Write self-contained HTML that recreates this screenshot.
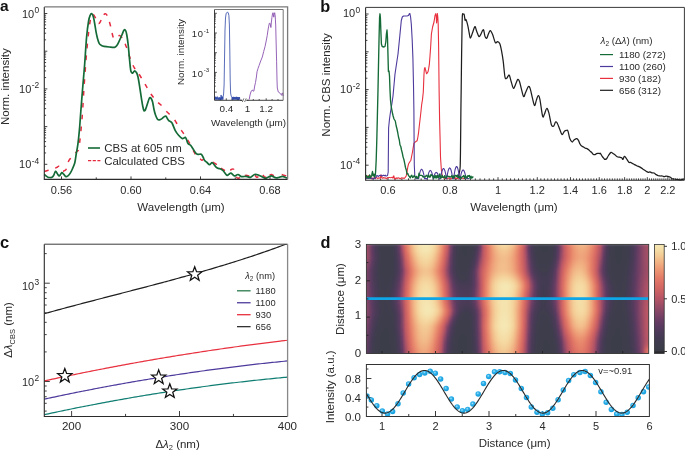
<!DOCTYPE html>
<html><head><meta charset="utf-8"><style>
html,body{margin:0;padding:0;background:#fff;}
body{width:685px;height:451px;overflow:hidden;}
svg{display:block;filter:blur(0.3px);font-family:"Liberation Sans",sans-serif;}
</style></head><body>
<svg width="685" height="451" viewBox="0 0 685 451">
<rect width="685" height="451" fill="#fff"/>
<path d="M44.3,13.5h3 M44.3,51.2h3 M44.3,39.85h1.8 M44.3,33.21h1.8 M44.3,28.5h1.8 M44.3,24.85h1.8 M44.3,21.86h1.8 M44.3,19.34h1.8 M44.3,17.15h1.8 M44.3,15.23h1.8 M44.3,88.9h3 M44.3,77.55h1.8 M44.3,70.91h1.8 M44.3,66.2h1.8 M44.3,62.55h1.8 M44.3,59.56h1.8 M44.3,57.04h1.8 M44.3,54.85h1.8 M44.3,52.93h1.8 M44.3,126.6h3 M44.3,115.25h1.8 M44.3,108.61h1.8 M44.3,103.9h1.8 M44.3,100.25h1.8 M44.3,97.26h1.8 M44.3,94.74h1.8 M44.3,92.55h1.8 M44.3,90.63h1.8 M44.3,164.3h3 M44.3,152.95h1.8 M44.3,146.31h1.8 M44.3,141.6h1.8 M44.3,137.95h1.8 M44.3,134.96h1.8 M44.3,132.44h1.8 M44.3,130.25h1.8 M44.3,128.33h1.8" stroke="#2b2b2b" stroke-width="0.9" fill="none"/>
<path d="M61.5,179.4v-3 M96.25,179.4v-2 M131,179.4v-3 M165.75,179.4v-2 M200.5,179.4v-3 M235.25,179.4v-2 M270,179.4v-3" stroke="#2b2b2b" stroke-width="0.9" fill="none"/>
<path d="M44.4,171.5C45.07,171.3 47.13,170.68 48.4,170.3C49.67,169.92 50.88,169.55 52,169.2C53.12,168.85 54.18,168.57 55.1,168.2C56.02,167.83 56.77,167.37 57.5,167C58.23,166.63 58.92,165.75 59.5,166C60.08,166.25 60.48,167.62 61,168.5C61.52,169.38 62.03,170.95 62.6,171.3C63.17,171.65 63.8,170.93 64.4,170.6C65,170.27 65.58,170.7 66.2,169.3C66.82,167.9 67.37,164.05 68.1,162.2C68.83,160.35 69.85,159.23 70.6,158.2C71.35,157.17 71.93,156.75 72.6,156C73.27,155.25 73.78,154.53 74.6,153.7C75.42,152.87 76.77,151.73 77.5,151C78.23,150.27 78.63,150.77 79,149.3C79.37,147.83 79.37,145.42 79.7,142.2C80.03,138.98 80.55,134.7 81,130C81.45,125.3 81.9,121 82.4,114C82.9,107 83.4,97 84,88C84.6,79 85.33,68.33 86,60C86.67,51.67 87.33,44.33 88,38C88.67,31.67 89.33,25.83 90,22C90.67,18.17 91.42,16.25 92,15C92.58,13.75 92.95,14.07 93.5,14.5C94.05,14.93 94.72,16.43 95.3,17.6C95.88,18.77 96.45,20.5 97,21.5C97.55,22.5 98.07,23.52 98.6,23.6C99.13,23.68 99.67,22.85 100.2,22C100.73,21.15 101.25,19.67 101.8,18.5C102.35,17.33 102.92,15.8 103.5,15C104.08,14.2 104.7,13.63 105.3,13.7C105.9,13.77 106.55,14.52 107.1,15.4C107.65,16.28 108.02,17.18 108.6,19C109.18,20.82 109.82,23.2 110.6,26.3C111.38,29.4 112.48,35.68 113.3,37.6C114.12,39.52 114.83,38.02 115.5,37.8C116.17,37.58 116.55,36.67 117.3,36.3C118.05,35.93 119.18,35.32 120,35.6C120.82,35.88 121.53,37.1 122.2,38C122.87,38.9 123.27,39.4 124,41C124.73,42.6 125.73,45.17 126.6,47.6C127.47,50.03 128.2,52.82 129.2,55.6C130.2,58.38 131.72,62.23 132.6,64.3C133.48,66.37 133.77,66.8 134.5,68C135.23,69.2 136.1,70.25 137,71.5C137.9,72.75 138.57,73.42 139.9,75.5C141.23,77.58 143.1,80.83 145,84C146.9,87.17 149.27,91.53 151.3,94.5C153.33,97.47 155.5,99.97 157.2,101.8C158.9,103.63 160.12,104.05 161.5,105.5C162.88,106.95 164.17,109.05 165.5,110.5C166.83,111.95 168.08,112.75 169.5,114.2C170.92,115.65 172.78,117.65 174,119.2C175.22,120.75 175.72,121.83 176.8,123.5C177.88,125.17 179.38,127.55 180.5,129.2C181.62,130.85 182.03,131.17 183.5,133.4C184.97,135.63 187.45,139.33 189.3,142.6C191.15,145.87 193.23,150.52 194.6,153C195.97,155.48 196.6,156.53 197.5,157.5C198.4,158.47 199.25,158.35 200,158.8C200.75,159.25 201.25,160.17 202,160.2C202.75,160.23 203.5,158.95 204.5,159C205.5,159.05 206.82,160.07 208,160.5C209.18,160.93 210.18,160.97 211.6,161.6C213.02,162.23 215.18,163.48 216.5,164.3C217.82,165.12 218.68,165.83 219.5,166.5C220.32,167.17 220.48,167.62 221.4,168.3C222.32,168.98 223.62,170.25 225,170.6C226.38,170.95 228.57,170.63 229.7,170.4C230.83,170.17 231.12,169.37 231.8,169.2C232.48,169.03 233.18,168.6 233.8,169.4C234.42,170.2 234.93,172.57 235.5,174C236.07,175.43 236.53,177.37 237.2,178C237.87,178.63 238.62,178.1 239.5,177.8C240.38,177.5 241.58,176.58 242.5,176.2C243.42,175.82 244.25,175.63 245,175.5C245.75,175.37 246.08,175.28 247,175.4C247.92,175.52 249.23,176.23 250.5,176.2C251.77,176.17 253.57,175.02 254.6,175.2C255.63,175.38 255.97,177.17 256.7,177.3C257.43,177.43 258.18,176.47 259,176C259.82,175.53 260.85,174.53 261.6,174.5C262.35,174.47 262.93,175.33 263.5,175.8C264.07,176.27 264.33,177.18 265,177.3C265.67,177.42 266.68,176.88 267.5,176.5C268.32,176.12 269.23,175.32 269.9,175C270.57,174.68 270.82,174.47 271.5,174.6C272.18,174.73 273.08,175.48 274,175.8C274.92,176.12 275.83,176.72 277,176.5C278.17,176.28 279.87,174.72 281,174.5C282.13,174.28 282.75,174.92 283.8,175.2C284.85,175.48 286.72,176.03 287.3,176.2" stroke="#e52a3f" stroke-width="1.5" fill="none" stroke-dasharray="4.6 6.87 4.6 6.87 4.6 6.87 4.6 6.87 4.6 7.25 4.6 7.25 4.6 7.25 4.6 7.25 4.6 7.25 4.6 7.25 4.6 7.25 4.6 7.25 4.6 7.25 4.6 7.25 4.6 7.25 4.6 7.25 4.6 6.11 4.6 5.91 4.6 6.72 4.6 6.72 4.6 6.72 4.6 6.72 4.6 6.72 4.6 6.72 4.6 6.72 4.6 6.72 4.6 6.72 4.6 6.72 4.6 7.47 4.6 7.47 4.6 7.47 4.6 7.02 4.6 7.02 4.6 7.02 4.6 9.42 4.6 5.72 4.6 5.1 4.6 7.2 4.6 5.2 4.6 5.69 4.6 5.09 4.6 3.71 4.6 8.31 4.6 40" stroke-dashoffset="0.21"/>
<path d="M44.3,174.3C44.58,174.55 45.38,175.32 46,175.8C46.62,176.28 47.33,176.92 48,177.2C48.67,177.48 49.33,177.48 50,177.5C50.67,177.52 51.4,177.63 52,177.3C52.6,176.97 53.02,176.5 53.6,175.5C54.18,174.5 54.9,171.63 55.5,171.3C56.1,170.97 56.57,172.72 57.2,173.5C57.83,174.28 58.53,176.15 59.3,176C60.07,175.85 61.08,172.9 61.8,172.6C62.52,172.3 62.9,173.53 63.6,174.2C64.3,174.87 65.27,176.33 66,176.6C66.73,176.87 67.32,176.33 68,175.8C68.68,175.27 69.37,174.53 70.1,173.4C70.83,172.27 71.62,170.77 72.4,169C73.18,167.23 74.15,165.38 74.8,162.8C75.45,160.22 75.78,156.6 76.3,153.5C76.82,150.4 77.38,148.08 77.9,144.2C78.42,140.32 78.95,135.18 79.4,130.2C79.85,125.22 80.08,121 80.6,114.3C81.12,107.6 81.83,98.22 82.5,90C83.17,81.78 83.92,73.83 84.6,65C85.28,56.17 85.93,44.33 86.6,37C87.27,29.67 87.98,24.67 88.6,21C89.22,17.33 89.8,16.22 90.3,15C90.8,13.78 91.17,13.62 91.6,13.7C92.03,13.78 92.5,14.52 92.9,15.5C93.3,16.48 93.48,16.92 94,19.6C94.52,22.28 95.42,28.45 96,31.6C96.58,34.75 96.95,36.5 97.5,38.5C98.05,40.5 98.63,42.43 99.3,43.6C99.97,44.77 100.72,45.05 101.5,45.5C102.28,45.95 102.7,46.05 104,46.3C105.3,46.55 107.53,46.83 109.3,47C111.07,47.17 113.32,47.58 114.6,47.3C115.88,47.02 116.33,46.13 117,45.3C117.67,44.47 117.78,44.02 118.6,42.3C119.42,40.58 121.08,36.88 121.9,35C122.72,33.12 123.05,31.9 123.5,31C123.95,30.1 124.22,29.6 124.6,29.6C124.98,29.6 125.43,30.1 125.8,31C126.17,31.9 126.4,32.67 126.8,35C127.2,37.33 127.78,41.33 128.2,45C128.62,48.67 128.9,52.9 129.3,57C129.7,61.1 130.22,67.02 130.6,69.6C130.98,72.18 131.23,71.93 131.6,72.5C131.97,73.07 132.28,73.28 132.8,73C133.32,72.72 134.05,70.8 134.7,70.8C135.35,70.8 136.15,71.97 136.7,73C137.25,74.03 137.57,75.12 138,77C138.43,78.88 138.75,80.87 139.3,84.3C139.85,87.73 140.73,93.98 141.3,97.6C141.87,101.22 142.25,103.8 142.7,106C143.15,108.2 143.53,110.22 144,110.8C144.47,111.38 144.95,110.58 145.5,109.5C146.05,108.42 146.72,106.05 147.3,104.3C147.88,102.55 148.55,100.12 149,99C149.45,97.88 149.63,97.68 150,97.6C150.37,97.52 150.77,97.77 151.2,98.5C151.63,99.23 152.13,100.17 152.6,102C153.07,103.83 153.52,107.33 154,109.5C154.48,111.67 154.92,113.38 155.5,115C156.08,116.62 156.83,118.4 157.5,119.2C158.17,120 158.75,119.9 159.5,119.8C160.25,119.7 161.17,119.15 162,118.6C162.83,118.05 163.83,116.9 164.5,116.5C165.17,116.1 165.53,115.87 166,116.2C166.47,116.53 166.83,117.77 167.3,118.5C167.77,119.23 168.18,120.02 168.8,120.6C169.42,121.18 170.38,121.43 171,122C171.62,122.57 171.78,122.57 172.5,124C173.22,125.43 174.28,128.72 175.3,130.6C176.32,132.48 177.45,133.97 178.6,135.3C179.75,136.63 181.35,138.12 182.2,138.6C183.05,139.08 183.18,138.42 183.7,138.2C184.22,137.98 184.83,137.08 185.3,137.3C185.77,137.52 186.05,138.47 186.5,139.5C186.95,140.53 187.32,142.53 188,143.5C188.68,144.47 189.72,144.33 190.6,145.3C191.48,146.27 192.4,147.95 193.3,149.3C194.2,150.65 195.22,152.55 196,153.4C196.78,154.25 197.13,154.27 198,154.4C198.87,154.53 200.37,153.77 201.2,154.2C202.03,154.63 202.42,155.95 203,157C203.58,158.05 204.03,159.58 204.7,160.5C205.37,161.42 206.18,161.8 207,162.5C207.82,163.2 208.72,164.67 209.6,164.7C210.48,164.73 211.27,162.33 212.3,162.7C213.33,163.07 214.77,165.93 215.8,166.9C216.83,167.87 217.68,168.15 218.5,168.5C219.32,168.85 219.88,168.58 220.7,169C221.52,169.42 222.37,169.97 223.4,171C224.43,172.03 226,174.65 226.9,175.2C227.8,175.75 228.12,174.65 228.8,174.3C229.48,173.95 230.05,172.83 231,173.1C231.95,173.37 233.33,175.67 234.5,175.9C235.67,176.13 236.83,174.38 238,174.5C239.17,174.62 240.12,176.3 241.5,176.6C242.88,176.9 244.8,176.18 246.3,176.3C247.8,176.42 249.12,177.6 250.5,177.3C251.88,177 253.22,174.85 254.6,174.5C255.98,174.15 257.4,174.73 258.8,175.2C260.2,175.67 261.88,176.78 263,177.3C264.12,177.82 264.58,178.35 265.5,178.3C266.42,178.25 267.53,177.42 268.5,177C269.47,176.58 270.15,175.68 271.3,175.8C272.45,175.92 274.2,177.42 275.4,177.7C276.6,177.98 277.33,177.73 278.5,177.5C279.67,177.27 281.23,176.3 282.4,176.3C283.57,176.3 284.67,177.22 285.5,177.5C286.33,177.78 287.08,177.92 287.4,178" stroke="#156b37" stroke-width="1.7" fill="none" stroke-linejoin="round"/>
<path d="M44.3,6.9V179.4H287.6" stroke="#2b2b2b" stroke-width="1.1" fill="none"/>
<path d="M44.3,6.9H287.6V179.4" stroke="#7a7a7a" stroke-width="1.3" fill="none"/>
<text x="61.5" y="193.6" font-size="11" text-anchor="middle" fill="#2a2a2a" >0.56</text>
<text x="131" y="193.6" font-size="11" text-anchor="middle" fill="#2a2a2a" >0.60</text>
<text x="200.5" y="193.6" font-size="11" text-anchor="middle" fill="#2a2a2a" >0.64</text>
<text x="270" y="193.6" font-size="11" text-anchor="middle" fill="#2a2a2a" >0.68</text>
<text x="39.2" y="17.5" font-size="11" text-anchor="end" fill="#2a2a2a">10<tspan font-size="8.4" dx="0.4" dy="-4.5">0</tspan></text>
<text x="39.2" y="92.9" font-size="11" text-anchor="end" fill="#2a2a2a">10<tspan font-size="8.4" dx="0.4" dy="-4.5">-2</tspan></text>
<text x="39.2" y="168.3" font-size="11" text-anchor="end" fill="#2a2a2a">10<tspan font-size="8.4" dx="0.4" dy="-4.5">-4</tspan></text>
<text x="181" y="210.5" font-size="11.5" text-anchor="middle" fill="#2a2a2a" >Wavelength (μm)</text>
<text transform="translate(9.4,86.7) rotate(-90)" font-size="11.5" text-anchor="middle" fill="#2a2a2a">Norm. intensity</text>
<text x="0.1" y="10.8" font-size="15.5" font-weight="bold" fill="#111">a</text>
<path d="M88,148H100" stroke="#156b37" stroke-width="1.6"/>
<path d="M88,160.6H100.4" stroke="#e52a3f" stroke-width="1.4" stroke-dasharray="3.2 1.5"/>
<text x="104.2" y="151.7" font-size="11.45" text-anchor="start" fill="#2a2a2a" >CBS at 605 nm</text>
<text x="104.2" y="164.7" font-size="11.45" text-anchor="start" fill="#2a2a2a" >Calculated CBS</text>
<rect x="214.5" y="9.5" width="68.7" height="90.8" fill="#fff"/>
<path d="M214.5,13.3h2.4 M214.5,33h2.4 M214.5,27.07h1.3 M214.5,23.6h1.3 M214.5,21.14h1.3 M214.5,19.23h1.3 M214.5,17.67h1.3 M214.5,16.35h1.3 M214.5,15.21h1.3 M214.5,14.2h1.3 M214.5,52.7h2.4 M214.5,46.77h1.3 M214.5,43.3h1.3 M214.5,40.84h1.3 M214.5,38.93h1.3 M214.5,37.37h1.3 M214.5,36.05h1.3 M214.5,34.91h1.3 M214.5,33.9h1.3 M214.5,72.4h2.4 M214.5,66.47h1.3 M214.5,63h1.3 M214.5,60.54h1.3 M214.5,58.63h1.3 M214.5,57.07h1.3 M214.5,55.75h1.3 M214.5,54.61h1.3 M214.5,53.6h1.3 M214.5,92.1h2.4 M214.5,86.17h1.3 M214.5,82.7h1.3 M214.5,80.24h1.3 M214.5,78.33h1.3 M214.5,76.77h1.3 M214.5,75.45h1.3 M214.5,74.31h1.3 M214.5,73.3h1.3 M220.5,100.3v-1.3 M226.3,100.3v-2 M232.1,100.3v-1.3 M238,100.3v-1.3 M253.3,100.3v-1.3 M259.2,100.3v-1.3 M266.2,100.3v-2 M272.1,100.3v-1.3 M278,100.3v-1.3" stroke="#2b2b2b" stroke-width="0.8" fill="none"/>
<path d="M214.6,96.94 L214.95,99.55 L215.3,96.78 L215.65,99.43 L216,96.83 L216.35,99.45 L216.7,97.47 L217.05,99.72 L217.4,96.65 L217.6,97.28 L217.95,99.46 L218.3,97.71 L218.65,99.72 L219,97.6 L219.35,99.67 L219.7,97.34 L220.05,99.99 L220.4,97.63 L220.75,99.83 L221.1,94.98 L221.45,99.54 L221.8,96.65 L222.15,99.52 L222.5,96.69 L222.85,99.63 L223.2,96.72 L223.6,94 L224.1,85 L224.5,60 L225,30 L225.5,18 L226.2,13.2 L227.2,12.3 L228.2,12.6 L228.9,15.5 L229.4,25 L229.8,50 L230.2,80 L230.6,93 L231.2,96 L231.6,96.8 L231.8,97.2 L232.15,99.48 L232.5,97.12 L232.85,99.87 L233.2,96.81 L233.55,99.48 L233.9,97.08 L234.25,99.42 L234.6,96.98 L234.95,99.59 L235.3,97.12 L235.65,99.44 L236,96.92 L236.35,99.42 L236.7,96.84 L237.05,99.82 L237.4,97.06 L237.75,99.9 L238.1,97.14 L238.45,99.96 L238.8,97.08 L239.15,99.64 L239.5,97.2 L239.85,99.59" stroke="#2e48a8" stroke-width="0.8" fill="none" stroke-linejoin="round"/>
<path d="M249.2,99.5 L250,95 L250.9,92 L251.7,90.5 L252.4,90 L253.1,91.2 L253.9,91 L254.7,86 L255.5,82.5 L256.4,77 L257,71.8 L258,68.5 L259.1,65.4 L260.7,61 L262.3,57 L263.7,51.5 L265.1,46.3 L266.2,41 L267.2,35.7 L268,30 L268.7,26.1 L269.3,23.5 L269.8,22.9 L270.4,25 L270.9,27.5 L271.4,22 L271.9,17.6 L272.5,14 L273,12.7 L273.4,15 L273.8,17.2 L274.2,14 L274.7,12.7 L275.2,16 L275.7,25 L276.2,45 L276.6,61.2 L277,80 L277.3,88 L278.3,92 L279.2,92.5 L280,93.1 L280.8,94.5 L281.5,95.2 L282.1,93 L282.6,93.1 L283.1,96" stroke="#8a52b0" stroke-width="0.9" fill="none" stroke-linejoin="round"/>
<path d="M214.5,9.5V100.3H283.2" stroke="#2b2b2b" stroke-width="0.9" fill="none"/>
<path d="M214.5,9.5H283.2V100.3" stroke="#666" stroke-width="0.9" fill="none"/>
<rect x="242" y="97" width="5" height="5" fill="#fff"/>
<path d="M242.3,102l1.6,-3.6M244.6,102l1.6,-3.6" stroke="#333" stroke-width="0.7" fill="none"/>
<path d="M240,100.3h2.3M246.2,100.3h2.3" stroke="#2b2b2b" stroke-width="0.8" fill="none"/>
<text x="226.3" y="112" font-size="9.9" text-anchor="middle" fill="#2a2a2a" >0.4</text>
<text x="247.6" y="112" font-size="9.9" text-anchor="middle" fill="#2a2a2a" >1</text>
<text x="266.2" y="112" font-size="9.9" text-anchor="middle" fill="#2a2a2a" >1.2</text>
<text x="248.6" y="125.6" font-size="9.9" text-anchor="middle" fill="#2a2a2a" >Wavelength (μm)</text>
<text transform="translate(183.8,52.1) rotate(-90)" font-size="9.9" text-anchor="middle" fill="#2a2a2a">Norm. intensity</text>
<text x="209.3" y="37.3" font-size="9.4" text-anchor="end" fill="#2a2a2a"><tspan letter-spacing="0.7">10</tspan><tspan font-size="6.2" dx="0.1" dy="-4.6">-1</tspan></text>
<text x="209.3" y="76.7" font-size="9.4" text-anchor="end" fill="#2a2a2a"><tspan letter-spacing="0.7">10</tspan><tspan font-size="6.2" dx="0.1" dy="-4.6">-3</tspan></text>
<path d="M365.6,14h3 M365.6,51.8h3 M365.6,40.42h1.8 M365.6,33.76h1.8 M365.6,29.04h1.8 M365.6,25.38h1.8 M365.6,22.39h1.8 M365.6,19.86h1.8 M365.6,17.66h1.8 M365.6,15.73h1.8 M365.6,89.6h3 M365.6,78.22h1.8 M365.6,71.56h1.8 M365.6,66.84h1.8 M365.6,63.18h1.8 M365.6,60.19h1.8 M365.6,57.66h1.8 M365.6,55.46h1.8 M365.6,53.53h1.8 M365.6,127.4h3 M365.6,116.02h1.8 M365.6,109.36h1.8 M365.6,104.64h1.8 M365.6,100.98h1.8 M365.6,97.99h1.8 M365.6,95.46h1.8 M365.6,93.26h1.8 M365.6,91.33h1.8 M365.6,165.2h3 M365.6,153.82h1.8 M365.6,147.16h1.8 M365.6,142.44h1.8 M365.6,138.78h1.8 M365.6,135.79h1.8 M365.6,133.26h1.8 M365.6,131.06h1.8 M365.6,129.13h1.8 M373.1,180.2v-1.8 M380.66,180.2v-1.8 M387.96,180.2v-3 M395.03,180.2v-1.8 M401.87,180.2v-1.8 M408.49,180.2v-1.8 M414.92,180.2v-1.8 M421.17,180.2v-1.8 M427.24,180.2v-1.8 M433.14,180.2v-1.8 M438.88,180.2v-1.8 M444.48,180.2v-1.8 M449.93,180.2v-3 M455.25,180.2v-1.8 M460.44,180.2v-1.8 M465.51,180.2v-1.8 M470.46,180.2v-1.8 M475.3,180.2v-1.8 M480.04,180.2v-1.8 M484.67,180.2v-1.8 M489.21,180.2v-1.8 M493.65,180.2v-1.8 M498,180.2v-3 M502.27,180.2v-1.8 M506.45,180.2v-1.8 M510.55,180.2v-1.8 M514.58,180.2v-1.8 M518.53,180.2v-1.8 M522.41,180.2v-1.8 M526.22,180.2v-1.8 M529.97,180.2v-1.8 M533.65,180.2v-1.8 M537.27,180.2v-3 M540.83,180.2v-1.8 M544.34,180.2v-1.8 M547.78,180.2v-1.8 M551.18,180.2v-1.8 M554.52,180.2v-1.8 M557.8,180.2v-1.8 M561.04,180.2v-1.8 M564.24,180.2v-1.8 M567.38,180.2v-1.8 M570.48,180.2v-3 M573.54,180.2v-1.8 M576.55,180.2v-1.8 M579.52,180.2v-1.8 M582.45,180.2v-1.8 M585.34,180.2v-1.8 M588.19,180.2v-1.8 M591.01,180.2v-1.8 M593.79,180.2v-1.8 M596.53,180.2v-1.8 M599.24,180.2v-3 M601.92,180.2v-1.8 M604.56,180.2v-1.8 M607.17,180.2v-1.8 M609.75,180.2v-1.8 M612.3,180.2v-1.8 M614.82,180.2v-1.8 M617.31,180.2v-1.8 M619.77,180.2v-1.8 M622.21,180.2v-1.8 M624.62,180.2v-3 M627,180.2v-1.8 M629.35,180.2v-1.8 M631.68,180.2v-1.8 M633.98,180.2v-1.8 M636.26,180.2v-1.8 M638.52,180.2v-1.8 M640.75,180.2v-1.8 M642.96,180.2v-1.8 M645.15,180.2v-1.8 M647.31,180.2v-3 M649.45,180.2v-1.8 M651.58,180.2v-1.8 M653.68,180.2v-1.8 M655.76,180.2v-1.8 M657.82,180.2v-1.8 M659.86,180.2v-1.8 M661.89,180.2v-1.8 M663.89,180.2v-1.8 M665.87,180.2v-1.8 M667.84,180.2v-3 M669.79,180.2v-1.8 M671.72,180.2v-1.8 M673.64,180.2v-1.8 M675.54,180.2v-1.8 M677.42,180.2v-1.8 M679.28,180.2v-1.8 M681.13,180.2v-1.8 M682.96,180.2v-1.8" stroke="#2b2b2b" stroke-width="0.9" fill="none"/>
<path d="M455.5,179.2C455.75,179.08 456.55,178.83 457,178.5C457.45,178.17 457.82,178.15 458.2,177.2C458.58,176.25 458.97,174.67 459.3,172.8C459.63,170.93 459.98,171.47 460.2,166C460.42,160.53 460.48,149.33 460.6,140C460.72,130.67 460.8,118.67 460.9,110C461,101.33 461.08,97.17 461.2,88C461.32,78.83 461.47,64.67 461.6,55C461.73,45.33 461.87,36.65 462,30C462.13,23.35 462.18,17.73 462.4,15.1C462.62,12.47 463,14.27 463.3,14.2C463.6,14.13 463.9,13.67 464.2,14.7C464.5,15.73 464.8,19.6 465.1,20.4C465.4,21.2 465.55,18.62 466,19.5C466.45,20.38 467.27,23.45 467.8,25.7C468.33,27.95 468.77,30.92 469.2,33C469.63,35.08 469.85,38.23 470.4,38.2C470.95,38.17 471.75,34.73 472.5,32.8C473.25,30.87 474.22,26.88 474.9,26.6C475.58,26.32 475.93,29.47 476.6,31.1C477.27,32.73 478.22,35.82 478.9,36.4C479.58,36.98 480.1,35.55 480.7,34.6C481.3,33.65 482,31.43 482.5,30.7C483,29.97 483.28,29.25 483.7,30.2C484.12,31.15 484.5,35.07 485,36.4C485.5,37.73 486.12,38.65 486.7,38.2C487.28,37.75 487.9,34.95 488.5,33.7C489.1,32.45 489.62,30.55 490.3,30.7C490.98,30.85 491.77,32.62 492.6,34.6C493.43,36.58 494.5,41.42 495.3,42.6C496.1,43.78 496.67,41.55 497.4,41.7C498.13,41.85 499.02,42.02 499.7,43.5C500.38,44.98 500.92,47.65 501.5,50.6C502.08,53.55 502.62,56.77 503.2,61.2C503.78,65.63 504.4,74.38 505,77.2C505.6,80.02 506.3,78.25 506.8,78.1C507.3,77.95 507.57,76.75 508,76.3C508.43,75.85 508.85,74.45 509.4,75.4C509.95,76.35 510.62,79.83 511.3,82C511.98,84.17 512.72,88.18 513.5,88.4C514.28,88.62 515.28,84.8 516,83.3C516.72,81.8 517.22,79.7 517.8,79.4C518.38,79.1 518.92,79.97 519.5,81.5C520.08,83.03 520.62,86.08 521.3,88.6C521.98,91.12 522.87,96 523.6,96.6C524.33,97.2 524.9,93.88 525.7,92.2C526.5,90.52 527.65,87.1 528.4,86.5C529.15,85.9 529.52,86.62 530.2,88.6C530.88,90.58 531.77,95.58 532.5,98.4C533.23,101.22 533.95,105.22 534.6,105.5C535.25,105.78 535.8,101.73 536.4,100.1C537,98.47 537.62,95.83 538.2,95.7C538.78,95.57 539.17,95.9 539.9,99.3C540.63,102.7 541.85,113.6 542.6,116.1C543.35,118.6 543.72,115.57 544.4,114.3C545.08,113.03 545.97,108.78 546.7,108.5C547.43,108.22 548,109.85 548.8,112.6C549.6,115.35 550.67,122.78 551.5,125C552.33,127.22 553.13,126.4 553.8,125.9C554.47,125.4 554.92,122.45 555.5,122C556.08,121.55 556.58,121.97 557.3,123.2C558.02,124.43 559,127.48 559.8,129.4C560.6,131.32 561.33,134.4 562.1,134.7C562.87,135 563.67,131.93 564.4,131.2C565.13,130.47 565.9,130.3 566.5,130.3C567.1,130.3 567.45,129.83 568,131.2C568.55,132.57 569.12,136.7 569.8,138.5C570.48,140.3 571.4,141.75 572.1,142C572.8,142.25 573.27,140.55 574,140C574.73,139.45 575.9,138.83 576.5,138.7C577.1,138.57 577.23,138.83 577.6,139.2C577.97,139.57 578.3,140.1 578.7,140.9C579.1,141.7 579.52,143.15 580,144C580.48,144.85 581.02,145.5 581.6,146C582.18,146.5 582.87,146.63 583.5,147C584.13,147.37 584.82,147.93 585.4,148.2C585.98,148.47 586.45,148.33 587,148.6C587.55,148.87 588.12,149.32 588.7,149.8C589.28,150.28 590.03,151.08 590.5,151.5C590.97,151.92 591.07,151.85 591.5,152.3C591.93,152.75 592.5,153.82 593.1,154.2C593.7,154.58 594.53,154.7 595.1,154.6C595.67,154.5 596.07,153.82 596.5,153.6C596.93,153.38 597.15,153.3 597.7,153.3C598.25,153.3 599.35,153.6 599.8,153.6C600.25,153.6 600,152.85 600.4,153.3C600.8,153.75 601.57,155.38 602.2,156.3C602.83,157.22 603.77,158.28 604.2,158.8C604.63,159.32 604.4,159.42 604.8,159.4C605.2,159.38 605.98,159.35 606.6,158.7C607.22,158.05 607.77,156.55 608.5,155.5C609.23,154.45 610.28,152.75 611,152.4C611.72,152.05 612.2,153.03 612.8,153.4C613.4,153.77 613.87,154.05 614.6,154.6C615.33,155.15 616.38,156.27 617.2,156.7C618.02,157.13 618.75,157.02 619.5,157.2C620.25,157.38 621.13,157.43 621.7,157.8C622.27,158.17 622.47,159.65 622.9,159.4C623.33,159.15 623.77,156.52 624.3,156.3C624.83,156.08 625.35,157.12 626.1,158.1C626.85,159.08 628.06,161.48 628.8,162.2C629.54,162.92 629.97,162.23 630.55,162.43C631.13,162.63 631.64,163.04 632.3,163.4C632.96,163.76 633.77,164.23 634.5,164.61C635.23,164.99 635.96,165.36 636.7,165.7C637.44,166.03 638.2,166.25 638.95,166.62C639.7,166.99 640.53,167.47 641.2,167.9C641.87,168.33 642.37,168.82 642.95,169.2C643.53,169.58 644.11,169.83 644.7,170.2C645.29,170.57 645.9,171.08 646.5,171.43C647.1,171.78 647.71,172.22 648.3,172.3C648.89,172.39 649.47,171.86 650.05,171.94C650.63,172.02 651.14,172.62 651.8,172.8C652.46,172.98 653.27,172.72 654,173.02C654.73,173.32 655.46,174.14 656.2,174.6C656.94,175.06 657.7,175.54 658.45,175.77C659.2,176 660.03,175.96 660.7,176C661.37,176.04 661.87,175.89 662.45,176.01C663.03,176.13 663.61,176.67 664.2,176.7C664.79,176.73 665.4,176.23 666,176.18C666.6,176.13 667.07,176.21 667.8,176.4C668.53,176.59 669.67,176.89 670.4,177.3C671.13,177.71 671.6,178.56 672.2,178.84C672.8,179.12 673.33,178.93 674,179C674.67,179.07 675.47,179.16 676.2,179.26C676.93,179.36 677.7,179.49 678.4,179.6C679.1,179.71 679.72,179.99 680.37,179.94C681.02,179.89 681.68,179.42 682.33,179.3C682.99,179.18 683.97,179.22 684.3,179.2" stroke="#1e1e1e" stroke-width="1.25" fill="none" stroke-linejoin="round"/>
<path d="M365.8,178.21 L366.6,177.66 L367.4,178.18 L368.2,175.48 L369,178.09 L369.8,177.33 L370.6,175.78 L371.4,178.62 L372.2,178.92 L373,178.29 L373.8,177.95 L374.6,177.47 L375.4,178.68 L376.2,177.3 L377,177.86 L377.8,178.56 L378.6,177.88 L379.4,178.02 L380.2,178.37 L381,174.75 L381.8,177.84 L382.6,178.27 L383.4,177.54 L384.2,178.09 L385,177.73 L385.8,178.26 L386.6,178.67 L387.4,177.69 L388.2,177.85 L389,177.56 L389.8,177.44 L390.6,177.73 L391.4,177.54 L392.2,177.12 L393,178.12 L393.8,175.79 L394.6,178.9 L395.4,178.72 L396.2,177.74 L397,178.76 L397.8,177.84 L398.6,177.9 L399.4,178.21 L400.2,178.86 L401,178.16 L401.8,177.83 L402.6,178.16 L403.4,178.1 L404.2,178.39 L405,177.56 L406.2,176 L407,172 L407.8,167 L408.5,164.1 L409.7,162 L410.9,160.2 L411.6,156.5 L412.4,152.5 L413.2,147.5 L414,143.1 L415.5,141.8 L417.1,140.8 L417.9,137 L418.6,132.3 L419.4,125 L420.2,118.3 L421,111 L421.7,104.3 L422.5,99.5 L423.3,92 L424,74 L424.4,69 L425,67.5 L425.7,70.5 L426.6,73.8 L427.3,73 L428,71.8 L428.7,68.5 L429.4,63.8 L430,56 L430.6,47.8 L431.4,34 L432.6,27 L434,22 L435,15.5 L435.8,13.6 L436.2,16 L436.6,23 L437,18 L437.4,13.6 L437.8,17 L438.2,24 L438.6,45 L439.1,90 L439.6,120 L440,135 L440.5,157 L441.3,169 L442,174.8 L443,177.5 L443.6,177.81 L444.5,178.27 L445.4,178.72 L446.3,178.3 L447.2,178.96 L448.1,178.28 L449,177.88 L449.9,178.31 L450.8,178.91 L451.7,178.42 L452.6,177.71 L453.5,178.34 L454.4,178.39 L455.3,177.74 L456.2,178.56 L457.1,178.13 L458,178.82 L458.9,178.97 L459.8,178.68 L460.7,178.55 L461.6,178.13 L462.5,177.98 L463.4,178.29 L464.3,178.72 L465.2,178.39" stroke="#e8303e" stroke-width="1.1" fill="none" stroke-linejoin="round"/>
<path d="M365.8,178.91 L366.6,178.12 L367.4,178.12 L368.2,178.05 L369,178.58 L369.8,177.92 L370.6,178.5 L371.4,177.96 L372.2,178.25 L373,178.3 L373.8,178.9 L374.6,177.81 L375.4,178.13 L376.3,176.5 L376.8,175.37 L377.4,175.78 L378,176.28 L378.6,176.36 L379.2,175.73 L379.8,175.42 L380.4,175.54 L381,175.14 L381.6,175.45 L382.2,176.16 L382.8,175.48 L383.4,175.15 L384,175.47 L384.6,175.8 L385.2,175.12 L385.8,175.86 L386.4,175.96 L387,175.7 L387.6,175.21 L388.2,172 L388.4,150 L388.6,128 L389.5,119 L390.5,112 L392,103 L393,96 L395,74 L398,54 L400,34 L401.3,20.5 L402.3,17 L403.5,16 L406.9,16 L408.5,15.4 L409.3,13.8 L409.9,13.5 L410.6,17 L411.3,24 L412.2,40 L412.9,58 L413.5,85 L413.9,110 L414.1,140 L414.3,165 L414.8,176 L415.8,178.4 L417.5,178.6 L418.6,177.5 L418.7,178.6 L419.43,174.29 L420.15,171.55 L420.88,169.87 L421.6,169.3 L422.33,169.87 L423.05,171.55 L423.78,174.29 L424.5,178.6 L427.4,178.6 L427.4,178.6 L428.13,174.8 L428.85,172.39 L429.58,170.9 L430.3,170.4 L431.03,170.9 L431.75,172.39 L432.48,174.8 L433.2,178.6 L433.4,178.6 L434.13,175.72 L434.85,173.9 L435.58,172.78 L436.3,172.4 L437.03,172.78 L437.75,173.9 L438.48,175.72 L439.2,178.6 L440.6,178.6 L440.6,178.6 L441.33,173.92 L442.05,170.95 L442.78,169.12 L443.5,168.5 L444.23,169.12 L444.95,170.95 L445.68,173.92 L446.4,178.6 L446.8,178.6 L446.8,178.6 L447.53,173.64 L448.25,170.49 L448.98,168.56 L449.7,167.9 L450.43,168.56 L451.15,170.49 L451.88,173.64 L452.6,178.6 L453.7,178.6 L453.7,178.6 L454.43,172.99 L455.15,169.43 L455.88,167.24 L456.6,166.5 L457.33,167.24 L458.05,169.43 L458.78,172.99 L459.5,178.6 L460.2,178.6 L460.2,178.6 L460.93,174.57 L461.65,172.01 L462.38,170.43 L463.1,169.9 L463.83,170.43 L464.55,172.01 L465.28,174.57 L466,178.6 L466.8,177.66 L467.7,178.6 L468.6,178.47 L469.5,178.3" stroke="#4e3a9c" stroke-width="1.1" fill="none" stroke-linejoin="round"/>
<path d="M365.8,177.2 L366.5,175.5 L367.2,177.8 L368,176.5 L368.8,178 L369.6,174.9 L370.3,177.6 L371,176.8 L371.7,175.5 L372.5,171.5 L373.2,175.8 L373.9,174.2 L374.5,176.8 L375.1,176.2 L375.6,172 L376.2,160 L376.8,140 L377.4,115 L378,90 L378.6,60 L379.1,36 L379.6,17 L380,13.8 L380.4,18 L380.9,32 L381.4,44 L382.2,46.5 L384,47 L385,46.5 L385.8,42 L386.4,34 L387,30 L387.5,38 L387.9,52 L388.4,71.5 L389,71 L389.5,76 L390,90 L390.5,100 L391,105 L392,111 L393,115.5 L394,119 L395.3,121 L396.2,126 L397,129 L397.8,133 L398.5,137 L399.3,140 L400,145 L400.8,146.5 L401.5,150 L402.3,153 L403.1,157.1 L403.9,159.5 L404.7,163.3 L405.5,167.5 L406.3,170 L407,174 L407.8,173.5 L408.6,175.8 L409.4,176.5 L410.2,178 L411,176 L411.8,175.2 L412.6,177.6 L413.4,176.94 L414.2,175.53 L415,176.78 L415.8,177.75 L416.6,176.41 L417.4,178.02 L418.2,178.03 L419,173.26 L419.8,175.41 L420.6,175.42 L421.4,175.33 L422.2,175.65 L423,176.98 L423.8,176.74 L424.6,176.8 L425.4,176.93 L426.2,175.31 L427,175.78 L427.8,177.35 L428.6,174.9 L429.4,177.1 L430.2,177.14 L431,174.34 L431.8,175.57 L432.6,175.36 L433.4,178.08 L434.2,175.96 L435,178.04 L435.8,175.41 L436.6,177.95 L437.4,175.4 L438.2,177.77 L439,176.96 L439.8,173.82 L440.6,177.95 L441.4,177.66 L442.2,175.39 L443,177.39 L443.8,177.67 L444.6,175.74 L445.4,178 L446.2,177.66 L447,175.98 L447.8,176.23 L448.6,176.55 L449.4,176.5 L450.2,176.94 L451,176.85 L451.8,175.7 L452.6,177.84 L453.4,175.85 L454.2,177.73 L455,175.48 L455.8,175.45 L456.6,176.49 L457.4,175.06 L458.2,177.58 L459,177.53 L459.8,176.51 L460.6,177.77 L461.4,178.09 L462.2,176.62 L463,176.46 L463.8,175.55 L464.6,178.25 L465.4,175.61 L466.2,177.19 L467,177.91 L467.8,175.63 L468.6,176.33 L469.4,175.48 L470.2,178.25 L471,176.2 L471.8,178.24 L472.6,176.85 L473.4,177.34" stroke="#156b37" stroke-width="1.35" fill="none" stroke-linejoin="round"/>
<path d="M365.6,7.4V180.2H684.4" stroke="#2b2b2b" stroke-width="1.1" fill="none"/>
<path d="M365.6,7.4H684.4V180.2" stroke="#3a3a3a" stroke-width="1.0" fill="none"/>
<text x="387.96" y="194.2" font-size="11" text-anchor="middle" fill="#2a2a2a" >0.6</text>
<text x="449.93" y="194.2" font-size="11" text-anchor="middle" fill="#2a2a2a" >0.8</text>
<text x="498" y="194.2" font-size="11" text-anchor="middle" fill="#2a2a2a" >1</text>
<text x="537.27" y="194.2" font-size="11" text-anchor="middle" fill="#2a2a2a" >1.2</text>
<text x="570.48" y="194.2" font-size="11" text-anchor="middle" fill="#2a2a2a" >1.4</text>
<text x="599.24" y="194.2" font-size="11" text-anchor="middle" fill="#2a2a2a" >1.6</text>
<text x="624.62" y="194.2" font-size="11" text-anchor="middle" fill="#2a2a2a" >1.8</text>
<text x="647.31" y="194.2" font-size="11" text-anchor="middle" fill="#2a2a2a" >2</text>
<text x="667.84" y="194.2" font-size="11" text-anchor="middle" fill="#2a2a2a" >2.2</text>
<text x="360.2" y="17.4" font-size="11" text-anchor="end" fill="#2a2a2a">10<tspan font-size="8.4" dx="0.4" dy="-4.5">0</tspan></text>
<text x="360.2" y="93" font-size="11" text-anchor="end" fill="#2a2a2a">10<tspan font-size="8.4" dx="0.4" dy="-4.5">-2</tspan></text>
<text x="360.2" y="168.6" font-size="11" text-anchor="end" fill="#2a2a2a">10<tspan font-size="8.4" dx="0.4" dy="-4.5">-4</tspan></text>
<text x="514" y="210.5" font-size="11.5" text-anchor="middle" fill="#2a2a2a" >Wavelength (μm)</text>
<text transform="translate(329.6,84.9) rotate(-90)" font-size="11.5" text-anchor="middle" fill="#2a2a2a">Norm. CBS intensity</text>
<text x="320.2" y="11.7" font-size="16.3" font-weight="bold" fill="#111">b</text>
<text x="600.6" y="44.2" font-size="9.8" fill="#2a2a2a"><tspan font-style="italic">λ</tspan><tspan font-size="6.5" dy="2.2">2</tspan><tspan dy="-2.2"> (Δ</tspan><tspan font-style="italic">λ</tspan>) (nm)</text>
<path d="M600,54.6H613" stroke="#156b37" stroke-width="1.2"/>
<text x="619" y="58.1" font-size="9.8" text-anchor="start" fill="#2a2a2a" >1180 (272)</text>
<path d="M600,66.5H613" stroke="#4e3a9c" stroke-width="1.2"/>
<text x="619" y="70" font-size="9.8" text-anchor="start" fill="#2a2a2a" >1100 (260)</text>
<path d="M600,78.4H613" stroke="#e8303e" stroke-width="1.2"/>
<text x="619" y="81.9" font-size="9.8" text-anchor="start" fill="#2a2a2a" >930 (182)</text>
<path d="M600,90.3H613" stroke="#1e1e1e" stroke-width="1.2"/>
<text x="619" y="93.8" font-size="9.8" text-anchor="start" fill="#2a2a2a" >656 (312)</text>
<path d="M44.3,411.09h2.4 M44.3,403.31h2.4 M44.3,396.73h2.4 M44.3,391.03h2.4 M44.3,386h2.4 M44.3,381.5h5.5 M44.3,351.91h2.4 M44.3,334.6h2.4 M44.3,322.32h2.4 M44.3,312.79h2.4 M44.3,305.01h2.4 M44.3,298.43h2.4 M44.3,292.73h2.4 M44.3,287.7h2.4 M44.3,283.2h5.5 M44.3,253.61h2.4 M71.6,416.5v-5.5 M125.55,416.5v-2.6 M179.5,416.5v-5.5 M233.45,416.5v-2.6" stroke="#2b2b2b" stroke-width="0.9" fill="none"/>
<clipPath id="cc"><rect x="44.3" y="244.2" width="243.3" height="172.3"/></clipPath>
<g clip-path="url(#cc)">
<path d="M44.3,414.66C44.97,414.51 46.97,414.08 48.3,413.79C49.63,413.51 50.97,413.22 52.3,412.94C53.63,412.65 54.97,412.37 56.3,412.09C57.63,411.8 58.97,411.52 60.3,411.25C61.63,410.97 62.97,410.69 64.3,410.41C65.63,410.14 66.97,409.86 68.3,409.59C69.63,409.31 70.97,409.04 72.3,408.77C73.63,408.5 74.97,408.23 76.3,407.96C77.63,407.7 78.97,407.43 80.3,407.16C81.63,406.9 82.97,406.64 84.3,406.37C85.63,406.11 86.97,405.85 88.3,405.59C89.63,405.33 90.97,405.07 92.3,404.82C93.63,404.56 94.97,404.3 96.3,404.05C97.63,403.8 98.97,403.54 100.3,403.29C101.63,403.04 102.97,402.79 104.3,402.54C105.63,402.29 106.97,402.05 108.3,401.8C109.63,401.56 110.97,401.31 112.3,401.07C113.63,400.83 114.97,400.58 116.3,400.34C117.63,400.1 118.97,399.87 120.3,399.63C121.63,399.39 122.97,399.15 124.3,398.92C125.63,398.69 126.97,398.45 128.3,398.22C129.63,397.99 130.97,397.76 132.3,397.53C133.63,397.3 134.97,397.07 136.3,396.85C137.63,396.62 138.97,396.4 140.3,396.17C141.63,395.95 142.97,395.73 144.3,395.51C145.63,395.28 146.97,395.07 148.3,394.85C149.63,394.63 150.97,394.41 152.3,394.2C153.63,393.98 154.97,393.77 156.3,393.56C157.63,393.34 158.97,393.13 160.3,392.92C161.63,392.71 162.97,392.51 164.3,392.3C165.63,392.09 166.97,391.89 168.3,391.68C169.63,391.48 170.97,391.28 172.3,391.07C173.63,390.87 174.97,390.67 176.3,390.47C177.63,390.28 178.97,390.08 180.3,389.88C181.63,389.69 182.97,389.49 184.3,389.3C185.63,389.11 186.97,388.92 188.3,388.73C189.63,388.54 190.97,388.35 192.3,388.16C193.63,387.97 194.97,387.79 196.3,387.6C197.63,387.42 198.97,387.23 200.3,387.05C201.63,386.87 202.97,386.69 204.3,386.51C205.63,386.33 206.97,386.15 208.3,385.98C209.63,385.8 210.97,385.63 212.3,385.45C213.63,385.28 214.97,385.11 216.3,384.94C217.63,384.76 218.97,384.6 220.3,384.43C221.63,384.26 222.97,384.09 224.3,383.93C225.63,383.76 226.97,383.6 228.3,383.44C229.63,383.27 230.97,383.11 232.3,382.95C233.63,382.79 234.97,382.63 236.3,382.48C237.63,382.32 238.97,382.17 240.3,382.01C241.63,381.86 242.97,381.7 244.3,381.55C245.63,381.4 246.97,381.25 248.3,381.1C249.63,380.95 250.97,380.81 252.3,380.66C253.63,380.52 254.97,380.37 256.3,380.23C257.63,380.08 258.97,379.94 260.3,379.8C261.63,379.66 262.97,379.52 264.3,379.39C265.63,379.25 266.97,379.11 268.3,378.98C269.63,378.84 270.97,378.71 272.3,378.58C273.63,378.45 274.97,378.32 276.3,378.19C277.63,378.06 278.97,377.93 280.3,377.8C281.63,377.68 283.08,377.54 284.3,377.43C285.52,377.31 287.05,377.17 287.6,377.12" stroke="#0f7d72" stroke-width="1.2" fill="none"/>
<path d="M44.3,399.15C44.97,399.01 46.97,398.57 48.3,398.28C49.63,398 50.97,397.71 52.3,397.43C53.63,397.14 54.97,396.86 56.3,396.58C57.63,396.3 58.97,396.02 60.3,395.74C61.63,395.46 62.97,395.18 64.3,394.91C65.63,394.63 66.97,394.35 68.3,394.08C69.63,393.81 70.97,393.53 72.3,393.26C73.63,392.99 74.97,392.72 76.3,392.45C77.63,392.19 78.97,391.92 80.3,391.65C81.63,391.39 82.97,391.12 84.3,390.86C85.63,390.6 86.97,390.33 88.3,390.07C89.63,389.81 90.97,389.55 92.3,389.3C93.63,389.04 94.97,388.78 96.3,388.53C97.63,388.27 98.97,388.02 100.3,387.76C101.63,387.51 102.97,387.26 104.3,387.01C105.63,386.76 106.97,386.51 108.3,386.26C109.63,386.02 110.97,385.77 112.3,385.53C113.63,385.28 114.97,385.04 116.3,384.79C117.63,384.55 118.97,384.31 120.3,384.07C121.63,383.83 122.97,383.59 124.3,383.36C125.63,383.12 126.97,382.88 128.3,382.65C129.63,382.42 130.97,382.18 132.3,381.95C133.63,381.72 134.97,381.49 136.3,381.26C137.63,381.03 138.97,380.8 140.3,380.58C141.63,380.35 142.97,380.13 144.3,379.9C145.63,379.68 146.97,379.46 148.3,379.23C149.63,379.01 150.97,378.79 152.3,378.57C153.63,378.36 154.97,378.14 156.3,377.92C157.63,377.71 158.97,377.49 160.3,377.28C161.63,377.07 162.97,376.85 164.3,376.64C165.63,376.43 166.97,376.22 168.3,376.01C169.63,375.81 170.97,375.6 172.3,375.39C173.63,375.19 174.97,374.99 176.3,374.78C177.63,374.58 178.97,374.38 180.3,374.18C181.63,373.98 182.97,373.78 184.3,373.58C185.63,373.38 186.97,373.19 188.3,372.99C189.63,372.8 190.97,372.6 192.3,372.41C193.63,372.22 194.97,372.03 196.3,371.84C197.63,371.65 198.97,371.46 200.3,371.27C201.63,371.09 202.97,370.9 204.3,370.72C205.63,370.53 206.97,370.35 208.3,370.17C209.63,369.99 210.97,369.8 212.3,369.63C213.63,369.45 214.97,369.27 216.3,369.09C217.63,368.92 218.97,368.74 220.3,368.57C221.63,368.39 222.97,368.22 224.3,368.05C225.63,367.88 226.97,367.71 228.3,367.54C229.63,367.37 230.97,367.2 232.3,367.04C233.63,366.87 234.97,366.71 236.3,366.54C237.63,366.38 238.97,366.22 240.3,366.06C241.63,365.89 242.97,365.74 244.3,365.58C245.63,365.42 246.97,365.26 248.3,365.11C249.63,364.95 250.97,364.8 252.3,364.64C253.63,364.49 254.97,364.34 256.3,364.19C257.63,364.04 258.97,363.89 260.3,363.74C261.63,363.59 262.97,363.45 264.3,363.3C265.63,363.16 266.97,363.01 268.3,362.87C269.63,362.73 270.97,362.59 272.3,362.45C273.63,362.31 274.97,362.17 276.3,362.03C277.63,361.9 278.97,361.76 280.3,361.63C281.63,361.49 283.08,361.35 284.3,361.23C285.52,361.11 287.05,360.96 287.6,360.9" stroke="#4e3a9c" stroke-width="1.2" fill="none"/>
<path d="M44.3,380.91C44.97,380.77 46.97,380.33 48.3,380.04C49.63,379.75 50.97,379.47 52.3,379.18C53.63,378.89 54.97,378.61 56.3,378.33C57.63,378.04 58.97,377.76 60.3,377.48C61.63,377.2 62.97,376.92 64.3,376.64C65.63,376.36 66.97,376.08 68.3,375.8C69.63,375.52 70.97,375.25 72.3,374.97C73.63,374.7 74.97,374.42 76.3,374.15C77.63,373.88 78.97,373.61 80.3,373.34C81.63,373.07 82.97,372.8 84.3,372.53C85.63,372.26 86.97,371.99 88.3,371.73C89.63,371.46 90.97,371.2 92.3,370.93C93.63,370.67 94.97,370.41 96.3,370.14C97.63,369.88 98.97,369.62 100.3,369.36C101.63,369.1 102.97,368.85 104.3,368.59C105.63,368.33 106.97,368.08 108.3,367.82C109.63,367.57 110.97,367.31 112.3,367.06C113.63,366.81 114.97,366.55 116.3,366.3C117.63,366.05 118.97,365.8 120.3,365.56C121.63,365.31 122.97,365.06 124.3,364.81C125.63,364.57 126.97,364.32 128.3,364.08C129.63,363.84 130.97,363.59 132.3,363.35C133.63,363.11 134.97,362.87 136.3,362.63C137.63,362.39 138.97,362.15 140.3,361.91C141.63,361.68 142.97,361.44 144.3,361.21C145.63,360.97 146.97,360.74 148.3,360.5C149.63,360.27 150.97,360.04 152.3,359.81C153.63,359.58 154.97,359.35 156.3,359.12C157.63,358.89 158.97,358.67 160.3,358.44C161.63,358.21 162.97,357.99 164.3,357.76C165.63,357.54 166.97,357.32 168.3,357.1C169.63,356.87 170.97,356.65 172.3,356.43C173.63,356.22 174.97,356 176.3,355.78C177.63,355.56 178.97,355.35 180.3,355.13C181.63,354.92 182.97,354.7 184.3,354.49C185.63,354.28 186.97,354.07 188.3,353.85C189.63,353.64 190.97,353.43 192.3,353.23C193.63,353.02 194.97,352.81 196.3,352.6C197.63,352.4 198.97,352.19 200.3,351.99C201.63,351.79 202.97,351.58 204.3,351.38C205.63,351.18 206.97,350.98 208.3,350.78C209.63,350.58 210.97,350.38 212.3,350.18C213.63,349.99 214.97,349.79 216.3,349.6C217.63,349.4 218.97,349.21 220.3,349.01C221.63,348.82 222.97,348.63 224.3,348.44C225.63,348.25 226.97,348.06 228.3,347.87C229.63,347.68 230.97,347.5 232.3,347.31C233.63,347.12 234.97,346.94 236.3,346.75C237.63,346.57 238.97,346.39 240.3,346.21C241.63,346.02 242.97,345.84 244.3,345.66C245.63,345.48 246.97,345.31 248.3,345.13C249.63,344.95 250.97,344.78 252.3,344.6C253.63,344.43 254.97,344.25 256.3,344.08C257.63,343.91 258.97,343.73 260.3,343.56C261.63,343.39 262.97,343.22 264.3,343.06C265.63,342.89 266.97,342.72 268.3,342.55C269.63,342.39 270.97,342.22 272.3,342.06C273.63,341.89 274.97,341.73 276.3,341.57C277.63,341.41 278.97,341.25 280.3,341.09C281.63,340.93 283.08,340.76 284.3,340.61C285.52,340.47 287.05,340.29 287.6,340.23" stroke="#e8303e" stroke-width="1.2" fill="none"/>
<path d="M44.3,313.73C44.97,313.54 46.97,312.98 48.3,312.61C49.63,312.24 50.97,311.87 52.3,311.51C53.63,311.14 54.97,310.77 56.3,310.41C57.63,310.04 58.97,309.68 60.3,309.32C61.63,308.96 62.97,308.6 64.3,308.24C65.63,307.88 66.97,307.52 68.3,307.16C69.63,306.8 70.97,306.45 72.3,306.09C73.63,305.74 74.97,305.38 76.3,305.03C77.63,304.68 78.97,304.32 80.3,303.97C81.63,303.62 82.97,303.27 84.3,302.92C85.63,302.57 86.97,302.22 88.3,301.87C89.63,301.52 90.97,301.17 92.3,300.82C93.63,300.47 94.97,300.13 96.3,299.78C97.63,299.43 98.97,299.09 100.3,298.74C101.63,298.39 102.97,298.05 104.3,297.7C105.63,297.36 106.97,297.01 108.3,296.66C109.63,296.32 110.97,295.97 112.3,295.63C113.63,295.28 114.97,294.94 116.3,294.59C117.63,294.25 118.97,293.9 120.3,293.56C121.63,293.21 122.97,292.87 124.3,292.52C125.63,292.18 126.97,291.83 128.3,291.49C129.63,291.14 130.97,290.8 132.3,290.45C133.63,290.1 134.97,289.76 136.3,289.41C137.63,289.06 138.97,288.72 140.3,288.37C141.63,288.02 142.97,287.67 144.3,287.32C145.63,286.97 146.97,286.62 148.3,286.27C149.63,285.92 150.97,285.57 152.3,285.22C153.63,284.87 154.97,284.52 156.3,284.16C157.63,283.81 158.97,283.45 160.3,283.1C161.63,282.74 162.97,282.39 164.3,282.03C165.63,281.67 166.97,281.31 168.3,280.96C169.63,280.6 170.97,280.24 172.3,279.87C173.63,279.51 174.97,279.15 176.3,278.79C177.63,278.42 178.97,278.06 180.3,277.69C181.63,277.32 182.97,276.95 184.3,276.59C185.63,276.22 186.97,275.84 188.3,275.47C189.63,275.1 190.97,274.73 192.3,274.35C193.63,273.97 194.97,273.6 196.3,273.22C197.63,272.84 198.97,272.46 200.3,272.08C201.63,271.69 202.97,271.31 204.3,270.92C205.63,270.54 206.97,270.15 208.3,269.76C209.63,269.37 210.97,268.98 212.3,268.58C213.63,268.19 214.97,267.79 216.3,267.39C217.63,266.99 218.97,266.59 220.3,266.19C221.63,265.79 222.97,265.38 224.3,264.98C225.63,264.57 226.97,264.16 228.3,263.75C229.63,263.34 230.97,262.92 232.3,262.51C233.63,262.09 234.97,261.67 236.3,261.25C237.63,260.83 238.97,260.4 240.3,259.97C241.63,259.55 242.97,259.12 244.3,258.69C245.63,258.25 246.97,257.82 248.3,257.38C249.63,256.94 250.97,256.5 252.3,256.06C253.63,255.61 254.97,255.17 256.3,254.72C257.63,254.27 258.97,253.82 260.3,253.36C261.63,252.9 262.97,252.45 264.3,251.98C265.63,251.52 266.97,251.06 268.3,250.59C269.63,250.12 270.97,249.65 272.3,249.17C273.63,248.7 274.97,248.22 276.3,247.74C277.63,247.26 278.97,246.77 280.3,246.28C281.63,245.79 283.08,245.26 284.3,244.81C285.52,244.35 287.05,243.78 287.6,243.57" stroke="#1e1e1e" stroke-width="1.2" fill="none"/>
</g>
<path d="M64.8,368.5 L66.62,373.49 L71.93,373.68 L67.75,376.96 L69.21,382.07 L64.8,379.1 L60.39,382.07 L61.85,376.96 L57.67,373.68 L62.98,373.49Z" fill="#fff" stroke="#111" stroke-width="1.25" stroke-linejoin="miter"/>
<path d="M158.7,369.9 L160.52,374.89 L165.83,375.08 L161.65,378.36 L163.11,383.47 L158.7,380.5 L154.29,383.47 L155.75,378.36 L151.57,375.08 L156.88,374.89Z" fill="#fff" stroke="#111" stroke-width="1.25" stroke-linejoin="miter"/>
<path d="M169.8,383.8 L171.62,388.79 L176.93,388.98 L172.75,392.26 L174.21,397.37 L169.8,394.4 L165.39,397.37 L166.85,392.26 L162.67,388.98 L167.98,388.79Z" fill="#fff" stroke="#111" stroke-width="1.25" stroke-linejoin="miter"/>
<path d="M194.7,266.7 L196.52,271.69 L201.83,271.88 L197.65,275.16 L199.11,280.27 L194.7,277.3 L190.29,280.27 L191.75,275.16 L187.57,271.88 L192.88,271.69Z" fill="#fff" stroke="#111" stroke-width="1.25" stroke-linejoin="miter"/>
<path d="M44.3,244.2V416.5H287.6" stroke="#2b2b2b" stroke-width="1.1" fill="none"/>
<path d="M44.3,244.2H287.6" stroke="#3a3a3a" stroke-width="1.0" fill="none"/>
<path d="M287.6,244.2V416.5" stroke="#888" stroke-width="1.3" fill="none"/>
<text x="71.6" y="430.3" font-size="11.6" text-anchor="middle" fill="#2a2a2a" >200</text>
<text x="179.5" y="430.3" font-size="11.6" text-anchor="middle" fill="#2a2a2a" >300</text>
<text x="287.4" y="430.3" font-size="11.6" text-anchor="middle" fill="#2a2a2a" >400</text>
<text x="39.2" y="289.7" font-size="11" text-anchor="end" fill="#2a2a2a">10<tspan font-size="8.4" dx="0.4" dy="-4.5">3</tspan></text>
<text x="39.2" y="385.8" font-size="11" text-anchor="end" fill="#2a2a2a">10<tspan font-size="8.4" dx="0.4" dy="-4.5">2</tspan></text>
<text x="177.6" y="447.6" font-size="11.5" text-anchor="middle" fill="#2a2a2a">Δ<tspan font-style="italic">λ</tspan><tspan font-size="7.5" dy="2.8">2</tspan><tspan dy="-2.8"> (nm)</tspan></text>
<text transform="translate(12.4,330) rotate(-90)" font-size="11.5" text-anchor="middle" fill="#2a2a2a">Δ<tspan font-style="italic">λ</tspan><tspan font-size="7.5" dy="2.8">CBS</tspan><tspan dy="-2.8"> (nm)</tspan></text>
<text x="0" y="248.1" font-size="16.5" font-weight="bold" fill="#111">c</text>
<text x="245.2" y="279.2" font-size="9.3" fill="#2a2a2a"><tspan font-style="italic">λ</tspan><tspan font-size="6.4" dy="2.2">2</tspan><tspan dy="-2.2"> (nm)</tspan></text>
<path d="M237,290.8H250.6" stroke="#2a7a4c" stroke-width="1.3"/>
<text x="255.6" y="294.1" font-size="9.3" text-anchor="start" fill="#2a2a2a" >1180</text>
<path d="M237,302.75H250.6" stroke="#4e3a9c" stroke-width="1.3"/>
<text x="255.6" y="306.05" font-size="9.3" text-anchor="start" fill="#2a2a2a" >1100</text>
<path d="M237,314.7H250.6" stroke="#e8303e" stroke-width="1.3"/>
<text x="255.6" y="318" font-size="9.3" text-anchor="start" fill="#2a2a2a" >930</text>
<path d="M237,326.65H250.6" stroke="#333" stroke-width="1.3"/>
<text x="255.6" y="329.95" font-size="9.3" text-anchor="start" fill="#2a2a2a" >656</text>
<defs>
<linearGradient id="h0" x1="366.4" x2="648.7" y1="0" y2="0" gradientUnits="userSpaceOnUse"><stop offset="0.000" stop-color="#a65066"/><stop offset="0.011" stop-color="#824566"/><stop offset="0.021" stop-color="#5f3b62"/><stop offset="0.032" stop-color="#4a3a57"/><stop offset="0.043" stop-color="#413b50"/><stop offset="0.053" stop-color="#3d3c4c"/><stop offset="0.064" stop-color="#3c3d4b"/><stop offset="0.074" stop-color="#3c3d4b"/><stop offset="0.085" stop-color="#3c3d4b"/><stop offset="0.096" stop-color="#3f3c4e"/><stop offset="0.106" stop-color="#493a56"/><stop offset="0.117" stop-color="#683c64"/><stop offset="0.128" stop-color="#b05366"/><stop offset="0.138" stop-color="#d96d64"/><stop offset="0.149" stop-color="#e98c6e"/><stop offset="0.159" stop-color="#f1ae81"/><stop offset="0.170" stop-color="#f4cb94"/><stop offset="0.181" stop-color="#f5dba4"/><stop offset="0.191" stop-color="#f5e3af"/><stop offset="0.202" stop-color="#f5e7b4"/><stop offset="0.213" stop-color="#f5e8b5"/><stop offset="0.223" stop-color="#f5e5b1"/><stop offset="0.234" stop-color="#f5dea8"/><stop offset="0.244" stop-color="#f4d19a"/><stop offset="0.255" stop-color="#f2b887"/><stop offset="0.266" stop-color="#ec9673"/><stop offset="0.276" stop-color="#df7466"/><stop offset="0.287" stop-color="#c55c64"/><stop offset="0.298" stop-color="#7a4266"/><stop offset="0.308" stop-color="#4e3a5a"/><stop offset="0.319" stop-color="#413b50"/><stop offset="0.329" stop-color="#3d3d4c"/><stop offset="0.340" stop-color="#3b3d4a"/><stop offset="0.351" stop-color="#3b3d4a"/><stop offset="0.361" stop-color="#3b3d4a"/><stop offset="0.372" stop-color="#3d3d4c"/><stop offset="0.383" stop-color="#403c4f"/><stop offset="0.393" stop-color="#4b3a58"/><stop offset="0.404" stop-color="#6f3e65"/><stop offset="0.414" stop-color="#b75566"/><stop offset="0.425" stop-color="#d76a63"/><stop offset="0.436" stop-color="#e6846b"/><stop offset="0.446" stop-color="#efa179"/><stop offset="0.457" stop-color="#f2ba89"/><stop offset="0.468" stop-color="#f4cb94"/><stop offset="0.478" stop-color="#f4d29b"/><stop offset="0.489" stop-color="#f5d59e"/><stop offset="0.499" stop-color="#f4d29b"/><stop offset="0.510" stop-color="#f4c993"/><stop offset="0.521" stop-color="#f2b887"/><stop offset="0.531" stop-color="#ee9e77"/><stop offset="0.542" stop-color="#e58069"/><stop offset="0.553" stop-color="#d46863"/><stop offset="0.563" stop-color="#ad5266"/><stop offset="0.574" stop-color="#683c64"/><stop offset="0.584" stop-color="#493a57"/><stop offset="0.595" stop-color="#3f3c4e"/><stop offset="0.606" stop-color="#3c3d4b"/><stop offset="0.616" stop-color="#3b3d4a"/><stop offset="0.627" stop-color="#3b3d4a"/><stop offset="0.638" stop-color="#3b3d4a"/><stop offset="0.648" stop-color="#3c3d4b"/><stop offset="0.659" stop-color="#3e3c4d"/><stop offset="0.670" stop-color="#453a54"/><stop offset="0.680" stop-color="#5b3a60"/><stop offset="0.691" stop-color="#924a66"/><stop offset="0.701" stop-color="#c25b64"/><stop offset="0.712" stop-color="#da6d64"/><stop offset="0.723" stop-color="#e5826a"/><stop offset="0.733" stop-color="#ec9774"/><stop offset="0.744" stop-color="#f0a77c"/><stop offset="0.755" stop-color="#f1b082"/><stop offset="0.765" stop-color="#f1b283"/><stop offset="0.776" stop-color="#f0ad80"/><stop offset="0.786" stop-color="#eea179"/><stop offset="0.797" stop-color="#ea8f6f"/><stop offset="0.808" stop-color="#e17867"/><stop offset="0.818" stop-color="#d16562"/><stop offset="0.829" stop-color="#b65566"/><stop offset="0.840" stop-color="#764166"/><stop offset="0.850" stop-color="#4e3a5a"/><stop offset="0.861" stop-color="#413b50"/><stop offset="0.871" stop-color="#3d3d4c"/><stop offset="0.882" stop-color="#3b3d4a"/><stop offset="0.893" stop-color="#3b3d4a"/><stop offset="0.903" stop-color="#3b3d4a"/><stop offset="0.914" stop-color="#3c3d4b"/><stop offset="0.925" stop-color="#3e3c4d"/><stop offset="0.935" stop-color="#423b51"/><stop offset="0.946" stop-color="#4a3a58"/><stop offset="0.956" stop-color="#5b3a60"/><stop offset="0.967" stop-color="#723f65"/><stop offset="0.978" stop-color="#894766"/><stop offset="0.988" stop-color="#9b4d66"/><stop offset="0.999" stop-color="#a75066"/><stop offset="1.000" stop-color="#a75066"/></linearGradient>
<linearGradient id="h1" x1="366.4" x2="648.7" y1="0" y2="0" gradientUnits="userSpaceOnUse"><stop offset="0.000" stop-color="#a65066"/><stop offset="0.011" stop-color="#834566"/><stop offset="0.021" stop-color="#603b62"/><stop offset="0.032" stop-color="#4a3a58"/><stop offset="0.043" stop-color="#413b50"/><stop offset="0.053" stop-color="#3d3c4c"/><stop offset="0.064" stop-color="#3c3d4b"/><stop offset="0.074" stop-color="#3c3d4b"/><stop offset="0.085" stop-color="#3d3d4c"/><stop offset="0.096" stop-color="#3f3c4e"/><stop offset="0.106" stop-color="#483a56"/><stop offset="0.117" stop-color="#663c63"/><stop offset="0.128" stop-color="#aa5166"/><stop offset="0.138" stop-color="#d76a63"/><stop offset="0.149" stop-color="#e7876c"/><stop offset="0.159" stop-color="#f0a97e"/><stop offset="0.170" stop-color="#f3c691"/><stop offset="0.181" stop-color="#f5d8a1"/><stop offset="0.191" stop-color="#f5e1ac"/><stop offset="0.202" stop-color="#f5e5b1"/><stop offset="0.213" stop-color="#f5e6b2"/><stop offset="0.223" stop-color="#f5e3ae"/><stop offset="0.234" stop-color="#f5dca5"/><stop offset="0.244" stop-color="#f4cd96"/><stop offset="0.255" stop-color="#f1b484"/><stop offset="0.266" stop-color="#eb9271"/><stop offset="0.276" stop-color="#de7265"/><stop offset="0.287" stop-color="#c05a64"/><stop offset="0.298" stop-color="#784166"/><stop offset="0.308" stop-color="#4e3a5a"/><stop offset="0.319" stop-color="#413b50"/><stop offset="0.329" stop-color="#3d3d4c"/><stop offset="0.340" stop-color="#3b3d4a"/><stop offset="0.351" stop-color="#3b3d4a"/><stop offset="0.361" stop-color="#3c3d4b"/><stop offset="0.372" stop-color="#3d3c4c"/><stop offset="0.383" stop-color="#413b50"/><stop offset="0.393" stop-color="#4f3a5a"/><stop offset="0.404" stop-color="#774166"/><stop offset="0.414" stop-color="#ba5765"/><stop offset="0.425" stop-color="#d56963"/><stop offset="0.436" stop-color="#e47f68"/><stop offset="0.446" stop-color="#ed9a75"/><stop offset="0.457" stop-color="#f1b082"/><stop offset="0.468" stop-color="#f3bf8c"/><stop offset="0.478" stop-color="#f3c791"/><stop offset="0.489" stop-color="#f4c993"/><stop offset="0.499" stop-color="#f3c590"/><stop offset="0.510" stop-color="#f2bb89"/><stop offset="0.521" stop-color="#f0aa7e"/><stop offset="0.531" stop-color="#eb9372"/><stop offset="0.542" stop-color="#e17867"/><stop offset="0.553" stop-color="#cf6462"/><stop offset="0.563" stop-color="#aa5166"/><stop offset="0.574" stop-color="#683c64"/><stop offset="0.584" stop-color="#4a3a57"/><stop offset="0.595" stop-color="#403c4f"/><stop offset="0.606" stop-color="#3d3d4c"/><stop offset="0.616" stop-color="#3c3d4b"/><stop offset="0.627" stop-color="#3b3d4a"/><stop offset="0.638" stop-color="#3b3d4a"/><stop offset="0.648" stop-color="#3c3d4b"/><stop offset="0.659" stop-color="#3e3c4d"/><stop offset="0.670" stop-color="#453a54"/><stop offset="0.680" stop-color="#5c3a61"/><stop offset="0.691" stop-color="#914a66"/><stop offset="0.701" stop-color="#c05a65"/><stop offset="0.712" stop-color="#d76b63"/><stop offset="0.723" stop-color="#e37d68"/><stop offset="0.733" stop-color="#ea9171"/><stop offset="0.744" stop-color="#eea078"/><stop offset="0.755" stop-color="#f0a87d"/><stop offset="0.765" stop-color="#f0aa7e"/><stop offset="0.776" stop-color="#efa47b"/><stop offset="0.786" stop-color="#ec9975"/><stop offset="0.797" stop-color="#e7876c"/><stop offset="0.808" stop-color="#de7366"/><stop offset="0.818" stop-color="#cc6263"/><stop offset="0.829" stop-color="#af5266"/><stop offset="0.840" stop-color="#713f65"/><stop offset="0.850" stop-color="#4d3a59"/><stop offset="0.861" stop-color="#413b50"/><stop offset="0.871" stop-color="#3d3d4c"/><stop offset="0.882" stop-color="#3b3d4a"/><stop offset="0.893" stop-color="#3b3d4a"/><stop offset="0.903" stop-color="#3b3d4a"/><stop offset="0.914" stop-color="#3c3d4b"/><stop offset="0.925" stop-color="#3e3c4d"/><stop offset="0.935" stop-color="#423b51"/><stop offset="0.946" stop-color="#4a3a58"/><stop offset="0.956" stop-color="#5b3a60"/><stop offset="0.967" stop-color="#723f65"/><stop offset="0.978" stop-color="#8a4766"/><stop offset="0.988" stop-color="#9b4d66"/><stop offset="0.999" stop-color="#a75066"/><stop offset="1.000" stop-color="#a85066"/></linearGradient>
<linearGradient id="h2" x1="366.4" x2="648.7" y1="0" y2="0" gradientUnits="userSpaceOnUse"><stop offset="0.000" stop-color="#a85066"/><stop offset="0.011" stop-color="#864666"/><stop offset="0.021" stop-color="#633b62"/><stop offset="0.032" stop-color="#4c3a59"/><stop offset="0.043" stop-color="#423b51"/><stop offset="0.053" stop-color="#3e3c4d"/><stop offset="0.064" stop-color="#3c3d4b"/><stop offset="0.074" stop-color="#3c3d4b"/><stop offset="0.085" stop-color="#3c3d4b"/><stop offset="0.096" stop-color="#3f3c4e"/><stop offset="0.106" stop-color="#463a55"/><stop offset="0.117" stop-color="#5f3b61"/><stop offset="0.128" stop-color="#9a4c66"/><stop offset="0.138" stop-color="#d06462"/><stop offset="0.149" stop-color="#e37d68"/><stop offset="0.159" stop-color="#ee9e77"/><stop offset="0.170" stop-color="#f2bc8a"/><stop offset="0.181" stop-color="#f4d099"/><stop offset="0.191" stop-color="#f5dba4"/><stop offset="0.202" stop-color="#f5dfaa"/><stop offset="0.213" stop-color="#f5e0aa"/><stop offset="0.223" stop-color="#f5dda7"/><stop offset="0.234" stop-color="#f5d49d"/><stop offset="0.244" stop-color="#f3c490"/><stop offset="0.255" stop-color="#f0a97e"/><stop offset="0.266" stop-color="#e8896d"/><stop offset="0.276" stop-color="#d96c64"/><stop offset="0.287" stop-color="#b65566"/><stop offset="0.298" stop-color="#703f65"/><stop offset="0.308" stop-color="#4c3a59"/><stop offset="0.319" stop-color="#413b50"/><stop offset="0.329" stop-color="#3d3d4c"/><stop offset="0.340" stop-color="#3c3d4b"/><stop offset="0.351" stop-color="#3b3d4a"/><stop offset="0.361" stop-color="#3c3d4b"/><stop offset="0.372" stop-color="#3e3c4d"/><stop offset="0.383" stop-color="#433b52"/><stop offset="0.393" stop-color="#553a5d"/><stop offset="0.404" stop-color="#824566"/><stop offset="0.414" stop-color="#bc5865"/><stop offset="0.425" stop-color="#d66a63"/><stop offset="0.436" stop-color="#e47f68"/><stop offset="0.446" stop-color="#ec9774"/><stop offset="0.457" stop-color="#f0ab7f"/><stop offset="0.468" stop-color="#f2b987"/><stop offset="0.478" stop-color="#f3c08d"/><stop offset="0.489" stop-color="#f3c28e"/><stop offset="0.499" stop-color="#f3be8b"/><stop offset="0.510" stop-color="#f1b485"/><stop offset="0.521" stop-color="#efa47b"/><stop offset="0.531" stop-color="#ea8f6f"/><stop offset="0.542" stop-color="#e07666"/><stop offset="0.553" stop-color="#ce6363"/><stop offset="0.563" stop-color="#ae5266"/><stop offset="0.574" stop-color="#6d3e65"/><stop offset="0.584" stop-color="#4c3a59"/><stop offset="0.595" stop-color="#413b50"/><stop offset="0.606" stop-color="#3d3c4c"/><stop offset="0.616" stop-color="#3c3d4b"/><stop offset="0.627" stop-color="#3c3d4b"/><stop offset="0.638" stop-color="#3c3d4b"/><stop offset="0.648" stop-color="#3d3d4c"/><stop offset="0.659" stop-color="#3f3c4e"/><stop offset="0.670" stop-color="#473a56"/><stop offset="0.680" stop-color="#603b62"/><stop offset="0.691" stop-color="#964b66"/><stop offset="0.701" stop-color="#c15a64"/><stop offset="0.712" stop-color="#d76b63"/><stop offset="0.723" stop-color="#e37d68"/><stop offset="0.733" stop-color="#ea9070"/><stop offset="0.744" stop-color="#ee9d77"/><stop offset="0.755" stop-color="#efa57b"/><stop offset="0.765" stop-color="#efa57c"/><stop offset="0.776" stop-color="#eea078"/><stop offset="0.786" stop-color="#eb9472"/><stop offset="0.797" stop-color="#e5826a"/><stop offset="0.808" stop-color="#db6e65"/><stop offset="0.818" stop-color="#c75e64"/><stop offset="0.829" stop-color="#a75066"/><stop offset="0.840" stop-color="#6a3d64"/><stop offset="0.850" stop-color="#4b3a58"/><stop offset="0.861" stop-color="#403c4f"/><stop offset="0.871" stop-color="#3d3d4c"/><stop offset="0.882" stop-color="#3b3d4a"/><stop offset="0.893" stop-color="#3b3d4a"/><stop offset="0.903" stop-color="#3b3d4a"/><stop offset="0.914" stop-color="#3c3d4b"/><stop offset="0.925" stop-color="#3e3c4d"/><stop offset="0.935" stop-color="#423b51"/><stop offset="0.946" stop-color="#4b3a58"/><stop offset="0.956" stop-color="#5c3a60"/><stop offset="0.967" stop-color="#734065"/><stop offset="0.978" stop-color="#8a4766"/><stop offset="0.988" stop-color="#9c4d66"/><stop offset="0.999" stop-color="#a75066"/><stop offset="1.000" stop-color="#a85066"/></linearGradient>
<linearGradient id="h3" x1="366.4" x2="648.7" y1="0" y2="0" gradientUnits="userSpaceOnUse"><stop offset="0.000" stop-color="#a55066"/><stop offset="0.011" stop-color="#854666"/><stop offset="0.021" stop-color="#633b63"/><stop offset="0.032" stop-color="#4d3a59"/><stop offset="0.043" stop-color="#423b51"/><stop offset="0.053" stop-color="#3e3c4d"/><stop offset="0.064" stop-color="#3c3d4b"/><stop offset="0.074" stop-color="#3c3d4b"/><stop offset="0.085" stop-color="#3c3d4b"/><stop offset="0.096" stop-color="#3e3c4d"/><stop offset="0.106" stop-color="#453a54"/><stop offset="0.117" stop-color="#593a60"/><stop offset="0.128" stop-color="#8c4866"/><stop offset="0.138" stop-color="#c85f63"/><stop offset="0.149" stop-color="#df7566"/><stop offset="0.159" stop-color="#eb9372"/><stop offset="0.170" stop-color="#f1b182"/><stop offset="0.181" stop-color="#f3c791"/><stop offset="0.191" stop-color="#f4d39c"/><stop offset="0.202" stop-color="#f5d9a2"/><stop offset="0.213" stop-color="#f5daa3"/><stop offset="0.223" stop-color="#f5d69f"/><stop offset="0.234" stop-color="#f4cd96"/><stop offset="0.244" stop-color="#f2bb89"/><stop offset="0.255" stop-color="#ee9f78"/><stop offset="0.266" stop-color="#e58069"/><stop offset="0.276" stop-color="#d46762"/><stop offset="0.287" stop-color="#aa5166"/><stop offset="0.298" stop-color="#693c64"/><stop offset="0.308" stop-color="#4b3a58"/><stop offset="0.319" stop-color="#403c4f"/><stop offset="0.329" stop-color="#3d3d4c"/><stop offset="0.340" stop-color="#3c3d4b"/><stop offset="0.351" stop-color="#3c3d4b"/><stop offset="0.361" stop-color="#3c3d4b"/><stop offset="0.372" stop-color="#3f3c4e"/><stop offset="0.383" stop-color="#463a54"/><stop offset="0.393" stop-color="#5c3a60"/><stop offset="0.404" stop-color="#8d4866"/><stop offset="0.414" stop-color="#bf5965"/><stop offset="0.425" stop-color="#d76b63"/><stop offset="0.436" stop-color="#e47f68"/><stop offset="0.446" stop-color="#ec9673"/><stop offset="0.457" stop-color="#f0a87d"/><stop offset="0.468" stop-color="#f1b485"/><stop offset="0.478" stop-color="#f2bb89"/><stop offset="0.489" stop-color="#f2bc8a"/><stop offset="0.499" stop-color="#f2b887"/><stop offset="0.510" stop-color="#f1af82"/><stop offset="0.521" stop-color="#eea078"/><stop offset="0.531" stop-color="#e98c6e"/><stop offset="0.542" stop-color="#e07566"/><stop offset="0.553" stop-color="#cd6363"/><stop offset="0.563" stop-color="#b15366"/><stop offset="0.574" stop-color="#734065"/><stop offset="0.584" stop-color="#4f3a5a"/><stop offset="0.595" stop-color="#423b51"/><stop offset="0.606" stop-color="#3e3c4d"/><stop offset="0.616" stop-color="#3d3d4c"/><stop offset="0.627" stop-color="#3c3d4b"/><stop offset="0.638" stop-color="#3c3d4b"/><stop offset="0.648" stop-color="#3d3c4c"/><stop offset="0.659" stop-color="#403c4f"/><stop offset="0.670" stop-color="#4a3a57"/><stop offset="0.680" stop-color="#653c63"/><stop offset="0.691" stop-color="#9d4d66"/><stop offset="0.701" stop-color="#c35c64"/><stop offset="0.712" stop-color="#d96c64"/><stop offset="0.723" stop-color="#e47e68"/><stop offset="0.733" stop-color="#ea9170"/><stop offset="0.744" stop-color="#ee9e77"/><stop offset="0.755" stop-color="#efa47b"/><stop offset="0.765" stop-color="#efa47b"/><stop offset="0.776" stop-color="#ee9d77"/><stop offset="0.786" stop-color="#ea9070"/><stop offset="0.797" stop-color="#e47e68"/><stop offset="0.808" stop-color="#d86c64"/><stop offset="0.818" stop-color="#c25b64"/><stop offset="0.829" stop-color="#9c4d66"/><stop offset="0.840" stop-color="#643b63"/><stop offset="0.850" stop-color="#493a57"/><stop offset="0.861" stop-color="#403c4f"/><stop offset="0.871" stop-color="#3d3d4c"/><stop offset="0.882" stop-color="#3b3d4a"/><stop offset="0.893" stop-color="#3b3d4a"/><stop offset="0.903" stop-color="#3b3d4a"/><stop offset="0.914" stop-color="#3c3d4b"/><stop offset="0.925" stop-color="#3e3c4d"/><stop offset="0.935" stop-color="#423b51"/><stop offset="0.946" stop-color="#4b3a58"/><stop offset="0.956" stop-color="#5c3a61"/><stop offset="0.967" stop-color="#744065"/><stop offset="0.978" stop-color="#8a4766"/><stop offset="0.988" stop-color="#9c4d66"/><stop offset="0.999" stop-color="#a75066"/><stop offset="1.000" stop-color="#a85066"/></linearGradient>
<linearGradient id="h4" x1="366.4" x2="648.7" y1="0" y2="0" gradientUnits="userSpaceOnUse"><stop offset="0.000" stop-color="#984c66"/><stop offset="0.011" stop-color="#7a4266"/><stop offset="0.021" stop-color="#5d3a61"/><stop offset="0.032" stop-color="#4a3a57"/><stop offset="0.043" stop-color="#413b50"/><stop offset="0.053" stop-color="#3e3c4d"/><stop offset="0.064" stop-color="#3c3d4b"/><stop offset="0.074" stop-color="#3c3d4b"/><stop offset="0.085" stop-color="#3c3d4b"/><stop offset="0.096" stop-color="#3e3c4d"/><stop offset="0.106" stop-color="#443a53"/><stop offset="0.117" stop-color="#563a5e"/><stop offset="0.128" stop-color="#834566"/><stop offset="0.138" stop-color="#c15a64"/><stop offset="0.149" stop-color="#db6e65"/><stop offset="0.159" stop-color="#e88a6d"/><stop offset="0.170" stop-color="#efa67c"/><stop offset="0.181" stop-color="#f3bd8b"/><stop offset="0.191" stop-color="#f4cc95"/><stop offset="0.202" stop-color="#f4d29b"/><stop offset="0.213" stop-color="#f4d39c"/><stop offset="0.223" stop-color="#f4cf98"/><stop offset="0.234" stop-color="#f3c48f"/><stop offset="0.244" stop-color="#f1b183"/><stop offset="0.255" stop-color="#ec9673"/><stop offset="0.266" stop-color="#e27967"/><stop offset="0.276" stop-color="#ce6363"/><stop offset="0.287" stop-color="#9f4e66"/><stop offset="0.298" stop-color="#653c63"/><stop offset="0.308" stop-color="#4a3a57"/><stop offset="0.319" stop-color="#403c4f"/><stop offset="0.329" stop-color="#3d3c4c"/><stop offset="0.340" stop-color="#3c3d4b"/><stop offset="0.351" stop-color="#3c3d4b"/><stop offset="0.361" stop-color="#3d3c4c"/><stop offset="0.372" stop-color="#413b50"/><stop offset="0.383" stop-color="#4a3a58"/><stop offset="0.393" stop-color="#663c63"/><stop offset="0.404" stop-color="#9d4d66"/><stop offset="0.414" stop-color="#c55d64"/><stop offset="0.425" stop-color="#db6f65"/><stop offset="0.436" stop-color="#e6856b"/><stop offset="0.446" stop-color="#ed9a75"/><stop offset="0.457" stop-color="#f0ab7f"/><stop offset="0.468" stop-color="#f2b686"/><stop offset="0.478" stop-color="#f2bc8a"/><stop offset="0.489" stop-color="#f3bd8b"/><stop offset="0.499" stop-color="#f2b988"/><stop offset="0.510" stop-color="#f1b082"/><stop offset="0.521" stop-color="#efa179"/><stop offset="0.531" stop-color="#e98e6f"/><stop offset="0.542" stop-color="#e17767"/><stop offset="0.553" stop-color="#d06462"/><stop offset="0.563" stop-color="#b45466"/><stop offset="0.574" stop-color="#7a4266"/><stop offset="0.584" stop-color="#533a5d"/><stop offset="0.595" stop-color="#443a53"/><stop offset="0.606" stop-color="#3f3c4e"/><stop offset="0.616" stop-color="#3d3c4c"/><stop offset="0.627" stop-color="#3d3d4c"/><stop offset="0.638" stop-color="#3d3c4c"/><stop offset="0.648" stop-color="#3e3c4d"/><stop offset="0.659" stop-color="#423b51"/><stop offset="0.670" stop-color="#4f3a5a"/><stop offset="0.680" stop-color="#713f65"/><stop offset="0.691" stop-color="#ad5266"/><stop offset="0.701" stop-color="#cb6163"/><stop offset="0.712" stop-color="#de7366"/><stop offset="0.723" stop-color="#e7886c"/><stop offset="0.733" stop-color="#ed9b76"/><stop offset="0.744" stop-color="#f0a77d"/><stop offset="0.755" stop-color="#f0ad80"/><stop offset="0.765" stop-color="#f0ab7f"/><stop offset="0.776" stop-color="#efa27a"/><stop offset="0.786" stop-color="#eb9372"/><stop offset="0.797" stop-color="#e47e68"/><stop offset="0.808" stop-color="#d76b63"/><stop offset="0.818" stop-color="#c05a65"/><stop offset="0.829" stop-color="#904966"/><stop offset="0.840" stop-color="#5f3b61"/><stop offset="0.850" stop-color="#473a56"/><stop offset="0.861" stop-color="#3f3c4e"/><stop offset="0.871" stop-color="#3d3d4c"/><stop offset="0.882" stop-color="#3c3d4b"/><stop offset="0.893" stop-color="#3b3d4a"/><stop offset="0.903" stop-color="#3c3d4b"/><stop offset="0.914" stop-color="#3d3d4c"/><stop offset="0.925" stop-color="#3f3c4e"/><stop offset="0.935" stop-color="#443a53"/><stop offset="0.946" stop-color="#4d3a59"/><stop offset="0.956" stop-color="#5e3b61"/><stop offset="0.967" stop-color="#744065"/><stop offset="0.978" stop-color="#8a4766"/><stop offset="0.988" stop-color="#9a4c66"/><stop offset="0.999" stop-color="#a55066"/><stop offset="1.000" stop-color="#a65066"/></linearGradient>
<linearGradient id="h5" x1="366.4" x2="648.7" y1="0" y2="0" gradientUnits="userSpaceOnUse"><stop offset="0.000" stop-color="#8b4866"/><stop offset="0.011" stop-color="#703f65"/><stop offset="0.021" stop-color="#573a5f"/><stop offset="0.032" stop-color="#483a56"/><stop offset="0.043" stop-color="#403c4f"/><stop offset="0.053" stop-color="#3d3c4c"/><stop offset="0.064" stop-color="#3c3d4b"/><stop offset="0.074" stop-color="#3c3d4b"/><stop offset="0.085" stop-color="#3d3d4c"/><stop offset="0.096" stop-color="#3e3c4d"/><stop offset="0.106" stop-color="#443a53"/><stop offset="0.117" stop-color="#543a5d"/><stop offset="0.128" stop-color="#7c4366"/><stop offset="0.138" stop-color="#ba5765"/><stop offset="0.149" stop-color="#d66963"/><stop offset="0.159" stop-color="#e58169"/><stop offset="0.170" stop-color="#ed9c76"/><stop offset="0.181" stop-color="#f1b384"/><stop offset="0.191" stop-color="#f3c28e"/><stop offset="0.202" stop-color="#f4ca94"/><stop offset="0.213" stop-color="#f4cc95"/><stop offset="0.223" stop-color="#f3c791"/><stop offset="0.234" stop-color="#f2bb89"/><stop offset="0.244" stop-color="#f0a77c"/><stop offset="0.255" stop-color="#e98d6f"/><stop offset="0.266" stop-color="#de7266"/><stop offset="0.276" stop-color="#c75e64"/><stop offset="0.287" stop-color="#964b66"/><stop offset="0.298" stop-color="#623b62"/><stop offset="0.308" stop-color="#493a57"/><stop offset="0.319" stop-color="#403c4f"/><stop offset="0.329" stop-color="#3d3c4c"/><stop offset="0.340" stop-color="#3c3d4b"/><stop offset="0.351" stop-color="#3d3d4c"/><stop offset="0.361" stop-color="#3e3c4d"/><stop offset="0.372" stop-color="#433b52"/><stop offset="0.383" stop-color="#513a5b"/><stop offset="0.393" stop-color="#734065"/><stop offset="0.404" stop-color="#ad5266"/><stop offset="0.414" stop-color="#cb6163"/><stop offset="0.425" stop-color="#df7366"/><stop offset="0.436" stop-color="#e88a6d"/><stop offset="0.446" stop-color="#ee9e78"/><stop offset="0.457" stop-color="#f1ae81"/><stop offset="0.468" stop-color="#f2b987"/><stop offset="0.478" stop-color="#f3be8b"/><stop offset="0.489" stop-color="#f3be8b"/><stop offset="0.499" stop-color="#f2ba89"/><stop offset="0.510" stop-color="#f1b283"/><stop offset="0.521" stop-color="#efa37a"/><stop offset="0.531" stop-color="#ea9070"/><stop offset="0.542" stop-color="#e17967"/><stop offset="0.553" stop-color="#d26662"/><stop offset="0.563" stop-color="#b75566"/><stop offset="0.574" stop-color="#814466"/><stop offset="0.584" stop-color="#583a5f"/><stop offset="0.595" stop-color="#463a55"/><stop offset="0.606" stop-color="#403c4f"/><stop offset="0.616" stop-color="#3e3c4d"/><stop offset="0.627" stop-color="#3e3c4d"/><stop offset="0.638" stop-color="#3e3c4d"/><stop offset="0.648" stop-color="#403c4f"/><stop offset="0.659" stop-color="#453a54"/><stop offset="0.670" stop-color="#563a5e"/><stop offset="0.680" stop-color="#7e4366"/><stop offset="0.691" stop-color="#b85566"/><stop offset="0.701" stop-color="#d36762"/><stop offset="0.712" stop-color="#e27b67"/><stop offset="0.723" stop-color="#eb9271"/><stop offset="0.733" stop-color="#efa57b"/><stop offset="0.744" stop-color="#f1b183"/><stop offset="0.755" stop-color="#f2b585"/><stop offset="0.765" stop-color="#f1b283"/><stop offset="0.776" stop-color="#f0a77d"/><stop offset="0.786" stop-color="#ec9673"/><stop offset="0.797" stop-color="#e47e68"/><stop offset="0.808" stop-color="#d66a63"/><stop offset="0.818" stop-color="#bd5865"/><stop offset="0.829" stop-color="#874666"/><stop offset="0.840" stop-color="#5a3a60"/><stop offset="0.850" stop-color="#463a55"/><stop offset="0.861" stop-color="#3f3c4e"/><stop offset="0.871" stop-color="#3d3d4c"/><stop offset="0.882" stop-color="#3c3d4b"/><stop offset="0.893" stop-color="#3c3d4b"/><stop offset="0.903" stop-color="#3c3d4b"/><stop offset="0.914" stop-color="#3d3c4c"/><stop offset="0.925" stop-color="#403c4f"/><stop offset="0.935" stop-color="#453a54"/><stop offset="0.946" stop-color="#4f3a5a"/><stop offset="0.956" stop-color="#603b62"/><stop offset="0.967" stop-color="#754065"/><stop offset="0.978" stop-color="#894766"/><stop offset="0.988" stop-color="#994c66"/><stop offset="0.999" stop-color="#a44f66"/><stop offset="1.000" stop-color="#a54f66"/></linearGradient>
<linearGradient id="h6" x1="366.4" x2="648.7" y1="0" y2="0" gradientUnits="userSpaceOnUse"><stop offset="0.000" stop-color="#804466"/><stop offset="0.011" stop-color="#673c64"/><stop offset="0.021" stop-color="#533a5c"/><stop offset="0.032" stop-color="#463a54"/><stop offset="0.043" stop-color="#403c4f"/><stop offset="0.053" stop-color="#3d3c4c"/><stop offset="0.064" stop-color="#3c3d4b"/><stop offset="0.074" stop-color="#3c3d4b"/><stop offset="0.085" stop-color="#3d3d4c"/><stop offset="0.096" stop-color="#3f3c4e"/><stop offset="0.106" stop-color="#443a53"/><stop offset="0.117" stop-color="#523a5c"/><stop offset="0.128" stop-color="#754065"/><stop offset="0.138" stop-color="#af5266"/><stop offset="0.149" stop-color="#d06462"/><stop offset="0.159" stop-color="#e27967"/><stop offset="0.170" stop-color="#eb9372"/><stop offset="0.181" stop-color="#f0a97e"/><stop offset="0.191" stop-color="#f2b988"/><stop offset="0.202" stop-color="#f3c18d"/><stop offset="0.213" stop-color="#f3c38e"/><stop offset="0.223" stop-color="#f3be8b"/><stop offset="0.234" stop-color="#f1b183"/><stop offset="0.244" stop-color="#ee9e77"/><stop offset="0.255" stop-color="#e6856b"/><stop offset="0.266" stop-color="#da6d64"/><stop offset="0.276" stop-color="#c15a64"/><stop offset="0.287" stop-color="#8d4866"/><stop offset="0.298" stop-color="#5f3b62"/><stop offset="0.308" stop-color="#493a57"/><stop offset="0.319" stop-color="#413b50"/><stop offset="0.329" stop-color="#3e3c4d"/><stop offset="0.340" stop-color="#3d3d4c"/><stop offset="0.351" stop-color="#3d3c4c"/><stop offset="0.361" stop-color="#403c4f"/><stop offset="0.372" stop-color="#463a55"/><stop offset="0.383" stop-color="#593a5f"/><stop offset="0.393" stop-color="#814466"/><stop offset="0.404" stop-color="#b65566"/><stop offset="0.414" stop-color="#d16562"/><stop offset="0.425" stop-color="#e17867"/><stop offset="0.436" stop-color="#ea8f6f"/><stop offset="0.446" stop-color="#efa27a"/><stop offset="0.457" stop-color="#f1b183"/><stop offset="0.468" stop-color="#f2bb89"/><stop offset="0.478" stop-color="#f3bf8c"/><stop offset="0.489" stop-color="#f3bf8c"/><stop offset="0.499" stop-color="#f2bb89"/><stop offset="0.510" stop-color="#f1b384"/><stop offset="0.521" stop-color="#efa57b"/><stop offset="0.531" stop-color="#ea9271"/><stop offset="0.542" stop-color="#e27b67"/><stop offset="0.553" stop-color="#d46863"/><stop offset="0.563" stop-color="#ba5765"/><stop offset="0.574" stop-color="#884766"/><stop offset="0.584" stop-color="#5d3a61"/><stop offset="0.595" stop-color="#493a57"/><stop offset="0.606" stop-color="#423b51"/><stop offset="0.616" stop-color="#403c4f"/><stop offset="0.627" stop-color="#3f3c4e"/><stop offset="0.638" stop-color="#3f3c4e"/><stop offset="0.648" stop-color="#423b51"/><stop offset="0.659" stop-color="#493a57"/><stop offset="0.670" stop-color="#5e3b61"/><stop offset="0.680" stop-color="#8b4866"/><stop offset="0.691" stop-color="#c05a65"/><stop offset="0.701" stop-color="#d96d64"/><stop offset="0.712" stop-color="#e6846b"/><stop offset="0.723" stop-color="#ed9d77"/><stop offset="0.733" stop-color="#f1b082"/><stop offset="0.744" stop-color="#f2bb89"/><stop offset="0.755" stop-color="#f3bd8b"/><stop offset="0.765" stop-color="#f2b988"/><stop offset="0.776" stop-color="#f0ac7f"/><stop offset="0.786" stop-color="#ec9774"/><stop offset="0.797" stop-color="#e47e68"/><stop offset="0.808" stop-color="#d46863"/><stop offset="0.818" stop-color="#b95665"/><stop offset="0.829" stop-color="#7f4466"/><stop offset="0.840" stop-color="#573a5f"/><stop offset="0.850" stop-color="#453a54"/><stop offset="0.861" stop-color="#3f3c4e"/><stop offset="0.871" stop-color="#3d3d4c"/><stop offset="0.882" stop-color="#3c3d4b"/><stop offset="0.893" stop-color="#3c3d4b"/><stop offset="0.903" stop-color="#3c3d4b"/><stop offset="0.914" stop-color="#3e3c4d"/><stop offset="0.925" stop-color="#413b50"/><stop offset="0.935" stop-color="#463a55"/><stop offset="0.946" stop-color="#513a5b"/><stop offset="0.956" stop-color="#613b62"/><stop offset="0.967" stop-color="#754065"/><stop offset="0.978" stop-color="#884766"/><stop offset="0.988" stop-color="#984c66"/><stop offset="0.999" stop-color="#a34f66"/><stop offset="1.000" stop-color="#a44f66"/></linearGradient>
<linearGradient id="h7" x1="366.4" x2="648.7" y1="0" y2="0" gradientUnits="userSpaceOnUse"><stop offset="0.000" stop-color="#7e4366"/><stop offset="0.011" stop-color="#653c63"/><stop offset="0.021" stop-color="#523a5c"/><stop offset="0.032" stop-color="#453a54"/><stop offset="0.043" stop-color="#403c4f"/><stop offset="0.053" stop-color="#3d3c4c"/><stop offset="0.064" stop-color="#3c3d4b"/><stop offset="0.074" stop-color="#3c3d4b"/><stop offset="0.085" stop-color="#3d3c4c"/><stop offset="0.096" stop-color="#3f3c4e"/><stop offset="0.106" stop-color="#453a54"/><stop offset="0.117" stop-color="#563a5e"/><stop offset="0.128" stop-color="#7a4266"/><stop offset="0.138" stop-color="#b35366"/><stop offset="0.149" stop-color="#d26662"/><stop offset="0.159" stop-color="#e37b67"/><stop offset="0.170" stop-color="#ec9673"/><stop offset="0.181" stop-color="#f0ad80"/><stop offset="0.191" stop-color="#f2bc8a"/><stop offset="0.202" stop-color="#f3c590"/><stop offset="0.213" stop-color="#f3c691"/><stop offset="0.223" stop-color="#f3c28e"/><stop offset="0.234" stop-color="#f2b686"/><stop offset="0.244" stop-color="#efa27a"/><stop offset="0.255" stop-color="#e8896d"/><stop offset="0.266" stop-color="#dd7065"/><stop offset="0.276" stop-color="#c55c64"/><stop offset="0.287" stop-color="#954b66"/><stop offset="0.298" stop-color="#653c63"/><stop offset="0.308" stop-color="#4c3a59"/><stop offset="0.319" stop-color="#423b51"/><stop offset="0.329" stop-color="#3f3c4e"/><stop offset="0.340" stop-color="#3e3c4d"/><stop offset="0.351" stop-color="#3e3c4d"/><stop offset="0.361" stop-color="#413b50"/><stop offset="0.372" stop-color="#483a56"/><stop offset="0.383" stop-color="#5b3a60"/><stop offset="0.393" stop-color="#834566"/><stop offset="0.404" stop-color="#b95666"/><stop offset="0.414" stop-color="#d46862"/><stop offset="0.425" stop-color="#e37c68"/><stop offset="0.436" stop-color="#eb9673"/><stop offset="0.446" stop-color="#f0ab7f"/><stop offset="0.457" stop-color="#f2bb89"/><stop offset="0.468" stop-color="#f3c590"/><stop offset="0.478" stop-color="#f4ca93"/><stop offset="0.489" stop-color="#f4cb94"/><stop offset="0.499" stop-color="#f4c792"/><stop offset="0.510" stop-color="#f3c08c"/><stop offset="0.521" stop-color="#f1b283"/><stop offset="0.531" stop-color="#ee9f78"/><stop offset="0.542" stop-color="#e7876c"/><stop offset="0.553" stop-color="#dc6f65"/><stop offset="0.563" stop-color="#c45c64"/><stop offset="0.574" stop-color="#994c66"/><stop offset="0.584" stop-color="#683c64"/><stop offset="0.595" stop-color="#4f3a5b"/><stop offset="0.606" stop-color="#453a54"/><stop offset="0.616" stop-color="#423b51"/><stop offset="0.627" stop-color="#413b50"/><stop offset="0.638" stop-color="#413b50"/><stop offset="0.648" stop-color="#443a53"/><stop offset="0.659" stop-color="#4c3a59"/><stop offset="0.670" stop-color="#643b63"/><stop offset="0.680" stop-color="#934a66"/><stop offset="0.691" stop-color="#c55d64"/><stop offset="0.701" stop-color="#dd7165"/><stop offset="0.712" stop-color="#e98c6e"/><stop offset="0.723" stop-color="#efa57b"/><stop offset="0.733" stop-color="#f2b988"/><stop offset="0.744" stop-color="#f3c48f"/><stop offset="0.755" stop-color="#f3c791"/><stop offset="0.765" stop-color="#f3c28e"/><stop offset="0.776" stop-color="#f2b585"/><stop offset="0.786" stop-color="#eea078"/><stop offset="0.797" stop-color="#e6856b"/><stop offset="0.808" stop-color="#d86c64"/><stop offset="0.818" stop-color="#be5965"/><stop offset="0.829" stop-color="#864666"/><stop offset="0.840" stop-color="#5c3a60"/><stop offset="0.850" stop-color="#483a56"/><stop offset="0.861" stop-color="#403c4f"/><stop offset="0.871" stop-color="#3e3c4d"/><stop offset="0.882" stop-color="#3c3d4b"/><stop offset="0.893" stop-color="#3c3d4b"/><stop offset="0.903" stop-color="#3d3d4c"/><stop offset="0.914" stop-color="#3e3c4d"/><stop offset="0.925" stop-color="#413b50"/><stop offset="0.935" stop-color="#473a55"/><stop offset="0.946" stop-color="#523a5c"/><stop offset="0.956" stop-color="#623b62"/><stop offset="0.967" stop-color="#774166"/><stop offset="0.978" stop-color="#8a4766"/><stop offset="0.988" stop-color="#9a4c66"/><stop offset="0.999" stop-color="#a65066"/><stop offset="1.000" stop-color="#a75066"/></linearGradient>
<linearGradient id="h8" x1="366.4" x2="648.7" y1="0" y2="0" gradientUnits="userSpaceOnUse"><stop offset="0.000" stop-color="#7f4466"/><stop offset="0.011" stop-color="#663c63"/><stop offset="0.021" stop-color="#533a5c"/><stop offset="0.032" stop-color="#463a55"/><stop offset="0.043" stop-color="#403c4f"/><stop offset="0.053" stop-color="#3e3c4d"/><stop offset="0.064" stop-color="#3d3d4c"/><stop offset="0.074" stop-color="#3d3d4c"/><stop offset="0.085" stop-color="#3e3c4d"/><stop offset="0.096" stop-color="#413b50"/><stop offset="0.106" stop-color="#483a56"/><stop offset="0.117" stop-color="#5b3a60"/><stop offset="0.128" stop-color="#834566"/><stop offset="0.138" stop-color="#bb5765"/><stop offset="0.149" stop-color="#d76a63"/><stop offset="0.159" stop-color="#e6836a"/><stop offset="0.170" stop-color="#ee9f78"/><stop offset="0.181" stop-color="#f2b786"/><stop offset="0.191" stop-color="#f3c691"/><stop offset="0.202" stop-color="#f4ce97"/><stop offset="0.213" stop-color="#f4cf98"/><stop offset="0.223" stop-color="#f4cc95"/><stop offset="0.234" stop-color="#f3c18d"/><stop offset="0.244" stop-color="#f1ae81"/><stop offset="0.255" stop-color="#eb9472"/><stop offset="0.266" stop-color="#e17867"/><stop offset="0.276" stop-color="#cd6263"/><stop offset="0.287" stop-color="#a54f66"/><stop offset="0.298" stop-color="#713f65"/><stop offset="0.308" stop-color="#533a5c"/><stop offset="0.319" stop-color="#453a54"/><stop offset="0.329" stop-color="#403c4f"/><stop offset="0.340" stop-color="#3f3c4e"/><stop offset="0.351" stop-color="#3f3c4e"/><stop offset="0.361" stop-color="#423b51"/><stop offset="0.372" stop-color="#493a56"/><stop offset="0.383" stop-color="#5b3a60"/><stop offset="0.393" stop-color="#814466"/><stop offset="0.404" stop-color="#b85666"/><stop offset="0.414" stop-color="#d56963"/><stop offset="0.425" stop-color="#e58069"/><stop offset="0.436" stop-color="#ed9d77"/><stop offset="0.446" stop-color="#f2b686"/><stop offset="0.457" stop-color="#f4c792"/><stop offset="0.468" stop-color="#f4d19a"/><stop offset="0.478" stop-color="#f5d69f"/><stop offset="0.489" stop-color="#f5d8a1"/><stop offset="0.499" stop-color="#f5d69f"/><stop offset="0.510" stop-color="#f4d099"/><stop offset="0.521" stop-color="#f3c590"/><stop offset="0.531" stop-color="#f1b384"/><stop offset="0.542" stop-color="#ec9975"/><stop offset="0.553" stop-color="#e37c68"/><stop offset="0.563" stop-color="#d26662"/><stop offset="0.574" stop-color="#b15366"/><stop offset="0.584" stop-color="#7b4266"/><stop offset="0.595" stop-color="#593a5f"/><stop offset="0.606" stop-color="#493a57"/><stop offset="0.616" stop-color="#443a53"/><stop offset="0.627" stop-color="#423b51"/><stop offset="0.638" stop-color="#423b51"/><stop offset="0.648" stop-color="#453a54"/><stop offset="0.659" stop-color="#4f3a5b"/><stop offset="0.670" stop-color="#683c64"/><stop offset="0.680" stop-color="#994c66"/><stop offset="0.691" stop-color="#c95f63"/><stop offset="0.701" stop-color="#df7566"/><stop offset="0.712" stop-color="#ea9271"/><stop offset="0.723" stop-color="#f0ad80"/><stop offset="0.733" stop-color="#f3c18e"/><stop offset="0.744" stop-color="#f4cd96"/><stop offset="0.755" stop-color="#f4d099"/><stop offset="0.765" stop-color="#f4cc95"/><stop offset="0.776" stop-color="#f3c08d"/><stop offset="0.786" stop-color="#f0ac7f"/><stop offset="0.797" stop-color="#ea9070"/><stop offset="0.808" stop-color="#df7366"/><stop offset="0.818" stop-color="#c75e64"/><stop offset="0.829" stop-color="#954b66"/><stop offset="0.840" stop-color="#653c63"/><stop offset="0.850" stop-color="#4d3a59"/><stop offset="0.861" stop-color="#433b52"/><stop offset="0.871" stop-color="#3e3c4d"/><stop offset="0.882" stop-color="#3d3c4c"/><stop offset="0.893" stop-color="#3d3d4c"/><stop offset="0.903" stop-color="#3d3c4c"/><stop offset="0.914" stop-color="#3f3c4e"/><stop offset="0.925" stop-color="#423b51"/><stop offset="0.935" stop-color="#483a56"/><stop offset="0.946" stop-color="#533a5d"/><stop offset="0.956" stop-color="#643b63"/><stop offset="0.967" stop-color="#7a4266"/><stop offset="0.978" stop-color="#8d4866"/><stop offset="0.988" stop-color="#9e4d66"/><stop offset="0.999" stop-color="#ab5166"/><stop offset="1.000" stop-color="#ac5166"/></linearGradient>
<linearGradient id="h9" x1="366.4" x2="648.7" y1="0" y2="0" gradientUnits="userSpaceOnUse"><stop offset="0.000" stop-color="#804466"/><stop offset="0.011" stop-color="#673c64"/><stop offset="0.021" stop-color="#533a5d"/><stop offset="0.032" stop-color="#473a55"/><stop offset="0.043" stop-color="#413b50"/><stop offset="0.053" stop-color="#3e3c4d"/><stop offset="0.064" stop-color="#3d3c4c"/><stop offset="0.074" stop-color="#3d3c4c"/><stop offset="0.085" stop-color="#3f3c4e"/><stop offset="0.096" stop-color="#433b52"/><stop offset="0.106" stop-color="#4c3a59"/><stop offset="0.117" stop-color="#623b62"/><stop offset="0.128" stop-color="#8d4866"/><stop offset="0.138" stop-color="#c15a64"/><stop offset="0.149" stop-color="#dc6f65"/><stop offset="0.159" stop-color="#e88b6e"/><stop offset="0.170" stop-color="#f0a87d"/><stop offset="0.181" stop-color="#f3c08d"/><stop offset="0.191" stop-color="#f4cf98"/><stop offset="0.202" stop-color="#f5d69f"/><stop offset="0.213" stop-color="#f5d7a0"/><stop offset="0.223" stop-color="#f5d49d"/><stop offset="0.234" stop-color="#f4cb95"/><stop offset="0.244" stop-color="#f2ba88"/><stop offset="0.255" stop-color="#eea078"/><stop offset="0.266" stop-color="#e58169"/><stop offset="0.276" stop-color="#d56863"/><stop offset="0.287" stop-color="#b45466"/><stop offset="0.298" stop-color="#7e4366"/><stop offset="0.308" stop-color="#5b3a60"/><stop offset="0.319" stop-color="#4a3a57"/><stop offset="0.329" stop-color="#443a53"/><stop offset="0.340" stop-color="#423b51"/><stop offset="0.351" stop-color="#423b51"/><stop offset="0.361" stop-color="#443a53"/><stop offset="0.372" stop-color="#4a3a57"/><stop offset="0.383" stop-color="#5b3a60"/><stop offset="0.393" stop-color="#7f4466"/><stop offset="0.404" stop-color="#b65466"/><stop offset="0.414" stop-color="#d66a63"/><stop offset="0.425" stop-color="#e6846b"/><stop offset="0.436" stop-color="#efa47b"/><stop offset="0.446" stop-color="#f3c08c"/><stop offset="0.457" stop-color="#f4d29b"/><stop offset="0.468" stop-color="#f5dca5"/><stop offset="0.478" stop-color="#f5e1ab"/><stop offset="0.489" stop-color="#f5e2ad"/><stop offset="0.499" stop-color="#f5e1ac"/><stop offset="0.510" stop-color="#f5dea7"/><stop offset="0.521" stop-color="#f5d59e"/><stop offset="0.531" stop-color="#f3c691"/><stop offset="0.542" stop-color="#f0ad80"/><stop offset="0.553" stop-color="#e98e6f"/><stop offset="0.563" stop-color="#dd7065"/><stop offset="0.574" stop-color="#c35b64"/><stop offset="0.584" stop-color="#8e4966"/><stop offset="0.595" stop-color="#643b63"/><stop offset="0.606" stop-color="#4e3a5a"/><stop offset="0.616" stop-color="#453a54"/><stop offset="0.627" stop-color="#423b51"/><stop offset="0.638" stop-color="#423b51"/><stop offset="0.648" stop-color="#463a55"/><stop offset="0.659" stop-color="#533a5c"/><stop offset="0.670" stop-color="#6e3e65"/><stop offset="0.680" stop-color="#9e4d66"/><stop offset="0.691" stop-color="#cc6263"/><stop offset="0.701" stop-color="#e17967"/><stop offset="0.712" stop-color="#ec9874"/><stop offset="0.723" stop-color="#f2b585"/><stop offset="0.733" stop-color="#f4ca93"/><stop offset="0.744" stop-color="#f4d49d"/><stop offset="0.755" stop-color="#f5d7a0"/><stop offset="0.765" stop-color="#f5d59e"/><stop offset="0.776" stop-color="#f4cc95"/><stop offset="0.786" stop-color="#f2b887"/><stop offset="0.797" stop-color="#ed9c76"/><stop offset="0.808" stop-color="#e37c68"/><stop offset="0.818" stop-color="#cf6462"/><stop offset="0.829" stop-color="#a54f66"/><stop offset="0.840" stop-color="#723f65"/><stop offset="0.850" stop-color="#543a5d"/><stop offset="0.861" stop-color="#453a54"/><stop offset="0.871" stop-color="#403c4f"/><stop offset="0.882" stop-color="#3e3c4d"/><stop offset="0.893" stop-color="#3d3c4c"/><stop offset="0.903" stop-color="#3e3c4d"/><stop offset="0.914" stop-color="#3f3c4e"/><stop offset="0.925" stop-color="#423b51"/><stop offset="0.935" stop-color="#493a57"/><stop offset="0.946" stop-color="#553a5d"/><stop offset="0.956" stop-color="#663c63"/><stop offset="0.967" stop-color="#7c4366"/><stop offset="0.978" stop-color="#914966"/><stop offset="0.988" stop-color="#a24f66"/><stop offset="0.999" stop-color="#af5266"/><stop offset="1.000" stop-color="#b05366"/></linearGradient>
<linearGradient id="h10" x1="366.4" x2="648.7" y1="0" y2="0" gradientUnits="userSpaceOnUse"><stop offset="0.000" stop-color="#824566"/><stop offset="0.011" stop-color="#683c64"/><stop offset="0.021" stop-color="#543a5d"/><stop offset="0.032" stop-color="#473a56"/><stop offset="0.043" stop-color="#413b50"/><stop offset="0.053" stop-color="#3e3c4d"/><stop offset="0.064" stop-color="#3d3c4c"/><stop offset="0.074" stop-color="#3e3c4d"/><stop offset="0.085" stop-color="#403c4f"/><stop offset="0.096" stop-color="#443a53"/><stop offset="0.106" stop-color="#503a5b"/><stop offset="0.117" stop-color="#683c64"/><stop offset="0.128" stop-color="#954b66"/><stop offset="0.138" stop-color="#c65d64"/><stop offset="0.149" stop-color="#df7366"/><stop offset="0.159" stop-color="#ea9271"/><stop offset="0.170" stop-color="#f1b082"/><stop offset="0.181" stop-color="#f4c792"/><stop offset="0.191" stop-color="#f5d49d"/><stop offset="0.202" stop-color="#f5dba4"/><stop offset="0.213" stop-color="#f5dda6"/><stop offset="0.223" stop-color="#f5daa3"/><stop offset="0.234" stop-color="#f4d29b"/><stop offset="0.244" stop-color="#f3c28e"/><stop offset="0.255" stop-color="#f0a87d"/><stop offset="0.266" stop-color="#e8896d"/><stop offset="0.276" stop-color="#da6d64"/><stop offset="0.287" stop-color="#bd5865"/><stop offset="0.298" stop-color="#894766"/><stop offset="0.308" stop-color="#623b62"/><stop offset="0.319" stop-color="#4f3a5b"/><stop offset="0.329" stop-color="#493a56"/><stop offset="0.340" stop-color="#473a55"/><stop offset="0.351" stop-color="#463a55"/><stop offset="0.361" stop-color="#473a55"/><stop offset="0.372" stop-color="#4c3a59"/><stop offset="0.383" stop-color="#5d3a61"/><stop offset="0.393" stop-color="#804466"/><stop offset="0.404" stop-color="#b55466"/><stop offset="0.414" stop-color="#d76a63"/><stop offset="0.425" stop-color="#e7876c"/><stop offset="0.436" stop-color="#f0a87d"/><stop offset="0.446" stop-color="#f3c590"/><stop offset="0.457" stop-color="#f5d7a0"/><stop offset="0.468" stop-color="#f5e0ab"/><stop offset="0.478" stop-color="#f5e5b1"/><stop offset="0.489" stop-color="#f5e7b4"/><stop offset="0.499" stop-color="#f5e7b3"/><stop offset="0.510" stop-color="#f5e3af"/><stop offset="0.521" stop-color="#f5dca6"/><stop offset="0.531" stop-color="#f4cf98"/><stop offset="0.542" stop-color="#f2b786"/><stop offset="0.553" stop-color="#ec9774"/><stop offset="0.563" stop-color="#e07666"/><stop offset="0.574" stop-color="#c85f63"/><stop offset="0.584" stop-color="#984b66"/><stop offset="0.595" stop-color="#6a3d64"/><stop offset="0.606" stop-color="#503a5b"/><stop offset="0.616" stop-color="#453a54"/><stop offset="0.627" stop-color="#413b50"/><stop offset="0.638" stop-color="#423b51"/><stop offset="0.648" stop-color="#473a56"/><stop offset="0.659" stop-color="#553a5e"/><stop offset="0.670" stop-color="#723f65"/><stop offset="0.680" stop-color="#a24e66"/><stop offset="0.691" stop-color="#ce6363"/><stop offset="0.701" stop-color="#e37b67"/><stop offset="0.712" stop-color="#ed9c76"/><stop offset="0.723" stop-color="#f2ba88"/><stop offset="0.733" stop-color="#f4ce97"/><stop offset="0.744" stop-color="#f5d9a2"/><stop offset="0.755" stop-color="#f5dca5"/><stop offset="0.765" stop-color="#f5daa3"/><stop offset="0.776" stop-color="#f4d29b"/><stop offset="0.786" stop-color="#f3c08d"/><stop offset="0.797" stop-color="#efa47a"/><stop offset="0.808" stop-color="#e6836a"/><stop offset="0.818" stop-color="#d46863"/><stop offset="0.829" stop-color="#af5266"/><stop offset="0.840" stop-color="#7b4266"/><stop offset="0.850" stop-color="#593a60"/><stop offset="0.861" stop-color="#493a56"/><stop offset="0.871" stop-color="#423b51"/><stop offset="0.882" stop-color="#3f3c4e"/><stop offset="0.893" stop-color="#3e3c4d"/><stop offset="0.903" stop-color="#3e3c4d"/><stop offset="0.914" stop-color="#3f3c4e"/><stop offset="0.925" stop-color="#433b52"/><stop offset="0.935" stop-color="#4a3a57"/><stop offset="0.946" stop-color="#563a5e"/><stop offset="0.956" stop-color="#673c64"/><stop offset="0.967" stop-color="#7e4366"/><stop offset="0.978" stop-color="#934a66"/><stop offset="0.988" stop-color="#a65066"/><stop offset="0.999" stop-color="#b35366"/><stop offset="1.000" stop-color="#b45466"/></linearGradient>
<linearGradient id="h11" x1="366.4" x2="648.7" y1="0" y2="0" gradientUnits="userSpaceOnUse"><stop offset="0.000" stop-color="#844566"/><stop offset="0.011" stop-color="#6a3d64"/><stop offset="0.021" stop-color="#563a5e"/><stop offset="0.032" stop-color="#483a56"/><stop offset="0.043" stop-color="#423b51"/><stop offset="0.053" stop-color="#3f3c4e"/><stop offset="0.064" stop-color="#3e3c4d"/><stop offset="0.074" stop-color="#3e3c4d"/><stop offset="0.085" stop-color="#413b50"/><stop offset="0.096" stop-color="#463a55"/><stop offset="0.106" stop-color="#543a5d"/><stop offset="0.117" stop-color="#6e3e65"/><stop offset="0.128" stop-color="#9b4c66"/><stop offset="0.138" stop-color="#c85f63"/><stop offset="0.149" stop-color="#e07666"/><stop offset="0.159" stop-color="#eb9573"/><stop offset="0.170" stop-color="#f1b484"/><stop offset="0.181" stop-color="#f4cb94"/><stop offset="0.191" stop-color="#f5d7a0"/><stop offset="0.202" stop-color="#f5dea7"/><stop offset="0.213" stop-color="#f5dfa9"/><stop offset="0.223" stop-color="#f5dda6"/><stop offset="0.234" stop-color="#f5d59e"/><stop offset="0.244" stop-color="#f3c691"/><stop offset="0.255" stop-color="#f0ac80"/><stop offset="0.266" stop-color="#e98d6f"/><stop offset="0.276" stop-color="#dc6f65"/><stop offset="0.287" stop-color="#c05a65"/><stop offset="0.298" stop-color="#8f4966"/><stop offset="0.308" stop-color="#683c64"/><stop offset="0.319" stop-color="#553a5d"/><stop offset="0.329" stop-color="#4d3a5a"/><stop offset="0.340" stop-color="#4c3a59"/><stop offset="0.351" stop-color="#4b3a58"/><stop offset="0.361" stop-color="#4b3a58"/><stop offset="0.372" stop-color="#503a5b"/><stop offset="0.383" stop-color="#623b62"/><stop offset="0.393" stop-color="#854666"/><stop offset="0.404" stop-color="#b85566"/><stop offset="0.414" stop-color="#d76b63"/><stop offset="0.425" stop-color="#e7876c"/><stop offset="0.436" stop-color="#f0a87d"/><stop offset="0.446" stop-color="#f3c590"/><stop offset="0.457" stop-color="#f5d69f"/><stop offset="0.468" stop-color="#f5e0aa"/><stop offset="0.478" stop-color="#f5e4b0"/><stop offset="0.489" stop-color="#f5e6b2"/><stop offset="0.499" stop-color="#f5e5b1"/><stop offset="0.510" stop-color="#f5e1ac"/><stop offset="0.521" stop-color="#f5d9a2"/><stop offset="0.531" stop-color="#f4ca94"/><stop offset="0.542" stop-color="#f1b082"/><stop offset="0.553" stop-color="#ea8f70"/><stop offset="0.563" stop-color="#dd7065"/><stop offset="0.574" stop-color="#c15b64"/><stop offset="0.584" stop-color="#904966"/><stop offset="0.595" stop-color="#663c63"/><stop offset="0.606" stop-color="#4e3a5a"/><stop offset="0.616" stop-color="#443a53"/><stop offset="0.627" stop-color="#413b50"/><stop offset="0.638" stop-color="#423b51"/><stop offset="0.648" stop-color="#483a56"/><stop offset="0.659" stop-color="#573a5e"/><stop offset="0.670" stop-color="#744065"/><stop offset="0.680" stop-color="#a24f66"/><stop offset="0.691" stop-color="#cd6263"/><stop offset="0.701" stop-color="#e27b67"/><stop offset="0.712" stop-color="#ed9c76"/><stop offset="0.723" stop-color="#f2ba88"/><stop offset="0.733" stop-color="#f4cf98"/><stop offset="0.744" stop-color="#f5d9a2"/><stop offset="0.755" stop-color="#f5dda6"/><stop offset="0.765" stop-color="#f5dba4"/><stop offset="0.776" stop-color="#f4d39c"/><stop offset="0.786" stop-color="#f3c18e"/><stop offset="0.797" stop-color="#efa57b"/><stop offset="0.808" stop-color="#e6846b"/><stop offset="0.818" stop-color="#d56963"/><stop offset="0.829" stop-color="#b15366"/><stop offset="0.840" stop-color="#7f4466"/><stop offset="0.850" stop-color="#5c3a61"/><stop offset="0.861" stop-color="#4b3a58"/><stop offset="0.871" stop-color="#433b52"/><stop offset="0.882" stop-color="#3f3c4e"/><stop offset="0.893" stop-color="#3e3c4d"/><stop offset="0.903" stop-color="#3e3c4d"/><stop offset="0.914" stop-color="#403c4f"/><stop offset="0.925" stop-color="#433b52"/><stop offset="0.935" stop-color="#4a3a57"/><stop offset="0.946" stop-color="#563a5e"/><stop offset="0.956" stop-color="#683c64"/><stop offset="0.967" stop-color="#804466"/><stop offset="0.978" stop-color="#954b66"/><stop offset="0.988" stop-color="#a85066"/><stop offset="0.999" stop-color="#b65466"/><stop offset="1.000" stop-color="#b65566"/></linearGradient>
<linearGradient id="h12" x1="366.4" x2="648.7" y1="0" y2="0" gradientUnits="userSpaceOnUse"><stop offset="0.000" stop-color="#854666"/><stop offset="0.011" stop-color="#6c3d64"/><stop offset="0.021" stop-color="#573a5e"/><stop offset="0.032" stop-color="#493a57"/><stop offset="0.043" stop-color="#423b51"/><stop offset="0.053" stop-color="#3f3c4e"/><stop offset="0.064" stop-color="#3e3c4d"/><stop offset="0.074" stop-color="#3f3c4e"/><stop offset="0.085" stop-color="#423b51"/><stop offset="0.096" stop-color="#483a56"/><stop offset="0.106" stop-color="#573a5e"/><stop offset="0.117" stop-color="#734065"/><stop offset="0.128" stop-color="#a04e66"/><stop offset="0.138" stop-color="#cb6163"/><stop offset="0.149" stop-color="#e17867"/><stop offset="0.159" stop-color="#ec9975"/><stop offset="0.170" stop-color="#f2b887"/><stop offset="0.181" stop-color="#f4ce97"/><stop offset="0.191" stop-color="#f5daa3"/><stop offset="0.202" stop-color="#f5e0aa"/><stop offset="0.213" stop-color="#f5e1ac"/><stop offset="0.223" stop-color="#f5dfa8"/><stop offset="0.234" stop-color="#f5d7a0"/><stop offset="0.244" stop-color="#f4c993"/><stop offset="0.255" stop-color="#f1b082"/><stop offset="0.266" stop-color="#ea9070"/><stop offset="0.276" stop-color="#de7165"/><stop offset="0.287" stop-color="#c35c64"/><stop offset="0.298" stop-color="#944a66"/><stop offset="0.308" stop-color="#6d3e65"/><stop offset="0.319" stop-color="#583a5f"/><stop offset="0.329" stop-color="#503a5b"/><stop offset="0.340" stop-color="#4e3a5a"/><stop offset="0.351" stop-color="#4d3a59"/><stop offset="0.361" stop-color="#4d3a59"/><stop offset="0.372" stop-color="#533a5c"/><stop offset="0.383" stop-color="#653c63"/><stop offset="0.393" stop-color="#894766"/><stop offset="0.404" stop-color="#b95665"/><stop offset="0.414" stop-color="#d86c64"/><stop offset="0.425" stop-color="#e7886c"/><stop offset="0.436" stop-color="#f0a97d"/><stop offset="0.446" stop-color="#f3c490"/><stop offset="0.457" stop-color="#f5d59e"/><stop offset="0.468" stop-color="#f5dfa9"/><stop offset="0.478" stop-color="#f5e3af"/><stop offset="0.489" stop-color="#f5e5b1"/><stop offset="0.499" stop-color="#f5e3af"/><stop offset="0.510" stop-color="#f5dfa9"/><stop offset="0.521" stop-color="#f5d69f"/><stop offset="0.531" stop-color="#f3c490"/><stop offset="0.542" stop-color="#f0a97d"/><stop offset="0.553" stop-color="#e7886c"/><stop offset="0.563" stop-color="#d86c64"/><stop offset="0.574" stop-color="#ba5665"/><stop offset="0.584" stop-color="#884766"/><stop offset="0.595" stop-color="#633b62"/><stop offset="0.606" stop-color="#4d3a5a"/><stop offset="0.616" stop-color="#443a53"/><stop offset="0.627" stop-color="#413b50"/><stop offset="0.638" stop-color="#423b51"/><stop offset="0.648" stop-color="#493a57"/><stop offset="0.659" stop-color="#583a5f"/><stop offset="0.670" stop-color="#754065"/><stop offset="0.680" stop-color="#a14e66"/><stop offset="0.691" stop-color="#cc6263"/><stop offset="0.701" stop-color="#e27a67"/><stop offset="0.712" stop-color="#ed9b76"/><stop offset="0.723" stop-color="#f2ba89"/><stop offset="0.733" stop-color="#f4cf98"/><stop offset="0.744" stop-color="#f5daa3"/><stop offset="0.755" stop-color="#f5dea7"/><stop offset="0.765" stop-color="#f5dca5"/><stop offset="0.776" stop-color="#f4d49d"/><stop offset="0.786" stop-color="#f3c38e"/><stop offset="0.797" stop-color="#efa67c"/><stop offset="0.808" stop-color="#e6856b"/><stop offset="0.818" stop-color="#d56963"/><stop offset="0.829" stop-color="#b35366"/><stop offset="0.840" stop-color="#814466"/><stop offset="0.850" stop-color="#5e3b61"/><stop offset="0.861" stop-color="#4c3a59"/><stop offset="0.871" stop-color="#443a53"/><stop offset="0.882" stop-color="#403c4f"/><stop offset="0.893" stop-color="#3f3c4e"/><stop offset="0.903" stop-color="#3f3c4e"/><stop offset="0.914" stop-color="#403c4f"/><stop offset="0.925" stop-color="#443a53"/><stop offset="0.935" stop-color="#4b3a58"/><stop offset="0.946" stop-color="#573a5f"/><stop offset="0.956" stop-color="#693c64"/><stop offset="0.967" stop-color="#814466"/><stop offset="0.978" stop-color="#974b66"/><stop offset="0.988" stop-color="#aa5166"/><stop offset="0.999" stop-color="#b75566"/><stop offset="1.000" stop-color="#b85666"/></linearGradient>
<linearGradient id="h13" x1="366.4" x2="648.7" y1="0" y2="0" gradientUnits="userSpaceOnUse"><stop offset="0.000" stop-color="#874666"/><stop offset="0.011" stop-color="#6d3e65"/><stop offset="0.021" stop-color="#583a5f"/><stop offset="0.032" stop-color="#4a3a57"/><stop offset="0.043" stop-color="#423b51"/><stop offset="0.053" stop-color="#3f3c4e"/><stop offset="0.064" stop-color="#3e3c4d"/><stop offset="0.074" stop-color="#3f3c4e"/><stop offset="0.085" stop-color="#423b51"/><stop offset="0.096" stop-color="#483a56"/><stop offset="0.106" stop-color="#573a5e"/><stop offset="0.117" stop-color="#744065"/><stop offset="0.128" stop-color="#a34f66"/><stop offset="0.138" stop-color="#cd6363"/><stop offset="0.149" stop-color="#e37b67"/><stop offset="0.159" stop-color="#ed9d77"/><stop offset="0.170" stop-color="#f2bc89"/><stop offset="0.181" stop-color="#f4d19a"/><stop offset="0.191" stop-color="#f5dda6"/><stop offset="0.202" stop-color="#f5e2ac"/><stop offset="0.213" stop-color="#f5e3ae"/><stop offset="0.223" stop-color="#f5e1ab"/><stop offset="0.234" stop-color="#f5daa3"/><stop offset="0.244" stop-color="#f4cd96"/><stop offset="0.255" stop-color="#f1b485"/><stop offset="0.266" stop-color="#eb9472"/><stop offset="0.276" stop-color="#df7466"/><stop offset="0.287" stop-color="#c65d64"/><stop offset="0.298" stop-color="#964b66"/><stop offset="0.308" stop-color="#6d3e65"/><stop offset="0.319" stop-color="#583a5f"/><stop offset="0.329" stop-color="#503a5b"/><stop offset="0.340" stop-color="#4e3a5a"/><stop offset="0.351" stop-color="#4d3a59"/><stop offset="0.361" stop-color="#4c3a59"/><stop offset="0.372" stop-color="#523a5c"/><stop offset="0.383" stop-color="#643b63"/><stop offset="0.393" stop-color="#894766"/><stop offset="0.404" stop-color="#bb5765"/><stop offset="0.414" stop-color="#d96c64"/><stop offset="0.425" stop-color="#e8896d"/><stop offset="0.436" stop-color="#f0a97e"/><stop offset="0.446" stop-color="#f3c48f"/><stop offset="0.457" stop-color="#f5d59e"/><stop offset="0.468" stop-color="#f5dea8"/><stop offset="0.478" stop-color="#f5e2ad"/><stop offset="0.489" stop-color="#f5e3af"/><stop offset="0.499" stop-color="#f5e2ac"/><stop offset="0.510" stop-color="#f5dda6"/><stop offset="0.521" stop-color="#f4d29b"/><stop offset="0.531" stop-color="#f3be8b"/><stop offset="0.542" stop-color="#efa179"/><stop offset="0.553" stop-color="#e58169"/><stop offset="0.563" stop-color="#d36762"/><stop offset="0.574" stop-color="#b05266"/><stop offset="0.584" stop-color="#7e4366"/><stop offset="0.595" stop-color="#5c3a61"/><stop offset="0.606" stop-color="#4a3a57"/><stop offset="0.616" stop-color="#423b51"/><stop offset="0.627" stop-color="#403c4f"/><stop offset="0.638" stop-color="#413b50"/><stop offset="0.648" stop-color="#473a55"/><stop offset="0.659" stop-color="#553a5e"/><stop offset="0.670" stop-color="#713f65"/><stop offset="0.680" stop-color="#9e4d66"/><stop offset="0.691" stop-color="#cb6163"/><stop offset="0.701" stop-color="#e27967"/><stop offset="0.712" stop-color="#ed9b76"/><stop offset="0.723" stop-color="#f2ba89"/><stop offset="0.733" stop-color="#f4d099"/><stop offset="0.744" stop-color="#f5dba4"/><stop offset="0.755" stop-color="#f5dea8"/><stop offset="0.765" stop-color="#f5dda6"/><stop offset="0.776" stop-color="#f5d59e"/><stop offset="0.786" stop-color="#f3c48f"/><stop offset="0.797" stop-color="#f0a87d"/><stop offset="0.808" stop-color="#e7866c"/><stop offset="0.818" stop-color="#d66a63"/><stop offset="0.829" stop-color="#b35366"/><stop offset="0.840" stop-color="#804466"/><stop offset="0.850" stop-color="#5d3a61"/><stop offset="0.861" stop-color="#4b3a58"/><stop offset="0.871" stop-color="#433b52"/><stop offset="0.882" stop-color="#403c4f"/><stop offset="0.893" stop-color="#3e3c4d"/><stop offset="0.903" stop-color="#3f3c4e"/><stop offset="0.914" stop-color="#403c4f"/><stop offset="0.925" stop-color="#443a53"/><stop offset="0.935" stop-color="#4b3a58"/><stop offset="0.946" stop-color="#583a5f"/><stop offset="0.956" stop-color="#6a3d64"/><stop offset="0.967" stop-color="#824566"/><stop offset="0.978" stop-color="#994c66"/><stop offset="0.988" stop-color="#ac5166"/><stop offset="0.999" stop-color="#b95665"/><stop offset="1.000" stop-color="#ba5765"/></linearGradient>
<linearGradient id="h14" x1="366.4" x2="648.7" y1="0" y2="0" gradientUnits="userSpaceOnUse"><stop offset="0.000" stop-color="#8a4766"/><stop offset="0.011" stop-color="#703f65"/><stop offset="0.021" stop-color="#593a60"/><stop offset="0.032" stop-color="#4b3a58"/><stop offset="0.043" stop-color="#433b52"/><stop offset="0.053" stop-color="#3f3c4e"/><stop offset="0.064" stop-color="#3e3c4d"/><stop offset="0.074" stop-color="#3f3c4e"/><stop offset="0.085" stop-color="#413b50"/><stop offset="0.096" stop-color="#473a55"/><stop offset="0.106" stop-color="#543a5d"/><stop offset="0.117" stop-color="#703f65"/><stop offset="0.128" stop-color="#9e4d66"/><stop offset="0.138" stop-color="#cc6163"/><stop offset="0.149" stop-color="#e27967"/><stop offset="0.159" stop-color="#ed9b76"/><stop offset="0.170" stop-color="#f2bb89"/><stop offset="0.181" stop-color="#f4d19a"/><stop offset="0.191" stop-color="#f5dda7"/><stop offset="0.202" stop-color="#f5e3ae"/><stop offset="0.213" stop-color="#f5e4b0"/><stop offset="0.223" stop-color="#f5e3ae"/><stop offset="0.234" stop-color="#f5dea7"/><stop offset="0.244" stop-color="#f4d29b"/><stop offset="0.255" stop-color="#f2bc8a"/><stop offset="0.266" stop-color="#ed9d77"/><stop offset="0.276" stop-color="#e27b67"/><stop offset="0.287" stop-color="#cd6363"/><stop offset="0.298" stop-color="#a24f66"/><stop offset="0.308" stop-color="#754065"/><stop offset="0.319" stop-color="#5a3a60"/><stop offset="0.329" stop-color="#503a5b"/><stop offset="0.340" stop-color="#4d3a59"/><stop offset="0.351" stop-color="#4a3a58"/><stop offset="0.361" stop-color="#4a3a57"/><stop offset="0.372" stop-color="#4e3a5a"/><stop offset="0.383" stop-color="#5f3b61"/><stop offset="0.393" stop-color="#814466"/><stop offset="0.404" stop-color="#b35366"/><stop offset="0.414" stop-color="#d56963"/><stop offset="0.425" stop-color="#e6836a"/><stop offset="0.436" stop-color="#efa47b"/><stop offset="0.446" stop-color="#f3c18d"/><stop offset="0.457" stop-color="#f4d39c"/><stop offset="0.468" stop-color="#f5dea7"/><stop offset="0.478" stop-color="#f5e2ad"/><stop offset="0.489" stop-color="#f5e3af"/><stop offset="0.499" stop-color="#f5e1ac"/><stop offset="0.510" stop-color="#f5dca5"/><stop offset="0.521" stop-color="#f4d099"/><stop offset="0.531" stop-color="#f2bc8a"/><stop offset="0.542" stop-color="#ee9e77"/><stop offset="0.553" stop-color="#e37d68"/><stop offset="0.563" stop-color="#d06462"/><stop offset="0.574" stop-color="#a75066"/><stop offset="0.584" stop-color="#774166"/><stop offset="0.595" stop-color="#583a5f"/><stop offset="0.606" stop-color="#493a56"/><stop offset="0.616" stop-color="#423b51"/><stop offset="0.627" stop-color="#403c4f"/><stop offset="0.638" stop-color="#423b51"/><stop offset="0.648" stop-color="#473a55"/><stop offset="0.659" stop-color="#543a5d"/><stop offset="0.670" stop-color="#6e3e65"/><stop offset="0.680" stop-color="#9b4c66"/><stop offset="0.691" stop-color="#ca6063"/><stop offset="0.701" stop-color="#e17867"/><stop offset="0.712" stop-color="#ec9975"/><stop offset="0.723" stop-color="#f2b887"/><stop offset="0.733" stop-color="#f4ce97"/><stop offset="0.744" stop-color="#f5daa3"/><stop offset="0.755" stop-color="#f5dea7"/><stop offset="0.765" stop-color="#f5dca6"/><stop offset="0.776" stop-color="#f5d49d"/><stop offset="0.786" stop-color="#f3c48f"/><stop offset="0.797" stop-color="#f0a87d"/><stop offset="0.808" stop-color="#e7866c"/><stop offset="0.818" stop-color="#d66a63"/><stop offset="0.829" stop-color="#b45466"/><stop offset="0.840" stop-color="#804466"/><stop offset="0.850" stop-color="#5d3a61"/><stop offset="0.861" stop-color="#4b3a58"/><stop offset="0.871" stop-color="#433b52"/><stop offset="0.882" stop-color="#3f3c4e"/><stop offset="0.893" stop-color="#3e3c4d"/><stop offset="0.903" stop-color="#3e3c4d"/><stop offset="0.914" stop-color="#403c4f"/><stop offset="0.925" stop-color="#443a53"/><stop offset="0.935" stop-color="#4b3a58"/><stop offset="0.946" stop-color="#573a5f"/><stop offset="0.956" stop-color="#6a3d64"/><stop offset="0.967" stop-color="#824566"/><stop offset="0.978" stop-color="#9a4c66"/><stop offset="0.988" stop-color="#ae5266"/><stop offset="0.999" stop-color="#bb5765"/><stop offset="1.000" stop-color="#bc5865"/></linearGradient>
<linearGradient id="h15" x1="366.4" x2="648.7" y1="0" y2="0" gradientUnits="userSpaceOnUse"><stop offset="0.000" stop-color="#8c4866"/><stop offset="0.011" stop-color="#723f65"/><stop offset="0.021" stop-color="#5b3a60"/><stop offset="0.032" stop-color="#4c3a58"/><stop offset="0.043" stop-color="#433b52"/><stop offset="0.053" stop-color="#403c4f"/><stop offset="0.064" stop-color="#3e3c4d"/><stop offset="0.074" stop-color="#3e3c4d"/><stop offset="0.085" stop-color="#403c4f"/><stop offset="0.096" stop-color="#453a54"/><stop offset="0.106" stop-color="#503a5b"/><stop offset="0.117" stop-color="#693c64"/><stop offset="0.128" stop-color="#974b66"/><stop offset="0.138" stop-color="#c96063"/><stop offset="0.149" stop-color="#e17767"/><stop offset="0.159" stop-color="#ec9975"/><stop offset="0.170" stop-color="#f2b988"/><stop offset="0.181" stop-color="#f4d19a"/><stop offset="0.191" stop-color="#f5dda7"/><stop offset="0.202" stop-color="#f5e3af"/><stop offset="0.213" stop-color="#f5e6b2"/><stop offset="0.223" stop-color="#f5e5b1"/><stop offset="0.234" stop-color="#f5e0ab"/><stop offset="0.244" stop-color="#f5d7a0"/><stop offset="0.255" stop-color="#f3c48f"/><stop offset="0.266" stop-color="#efa67c"/><stop offset="0.276" stop-color="#e6846b"/><stop offset="0.287" stop-color="#d56863"/><stop offset="0.298" stop-color="#af5266"/><stop offset="0.308" stop-color="#7c4366"/><stop offset="0.319" stop-color="#5c3a60"/><stop offset="0.329" stop-color="#4d3a59"/><stop offset="0.340" stop-color="#483a56"/><stop offset="0.351" stop-color="#453a54"/><stop offset="0.361" stop-color="#453a54"/><stop offset="0.372" stop-color="#493a57"/><stop offset="0.383" stop-color="#573a5e"/><stop offset="0.393" stop-color="#754065"/><stop offset="0.404" stop-color="#a65066"/><stop offset="0.414" stop-color="#d06562"/><stop offset="0.425" stop-color="#e47d68"/><stop offset="0.436" stop-color="#ee9f78"/><stop offset="0.446" stop-color="#f3bd8b"/><stop offset="0.457" stop-color="#f4d29b"/><stop offset="0.468" stop-color="#f5dda6"/><stop offset="0.478" stop-color="#f5e2ad"/><stop offset="0.489" stop-color="#f5e3af"/><stop offset="0.499" stop-color="#f5e1ac"/><stop offset="0.510" stop-color="#f5dca5"/><stop offset="0.521" stop-color="#f4d099"/><stop offset="0.531" stop-color="#f2ba88"/><stop offset="0.542" stop-color="#ed9b76"/><stop offset="0.553" stop-color="#e27a67"/><stop offset="0.563" stop-color="#cc6263"/><stop offset="0.574" stop-color="#9e4e66"/><stop offset="0.584" stop-color="#6f3e65"/><stop offset="0.595" stop-color="#543a5d"/><stop offset="0.606" stop-color="#473a55"/><stop offset="0.616" stop-color="#423b51"/><stop offset="0.627" stop-color="#413b50"/><stop offset="0.638" stop-color="#423b51"/><stop offset="0.648" stop-color="#453a54"/><stop offset="0.659" stop-color="#503a5b"/><stop offset="0.670" stop-color="#683c64"/><stop offset="0.680" stop-color="#954b66"/><stop offset="0.691" stop-color="#c85f63"/><stop offset="0.701" stop-color="#e07666"/><stop offset="0.712" stop-color="#ec9773"/><stop offset="0.723" stop-color="#f2b686"/><stop offset="0.733" stop-color="#f4cd96"/><stop offset="0.744" stop-color="#f5d8a1"/><stop offset="0.755" stop-color="#f5dda6"/><stop offset="0.765" stop-color="#f5dca5"/><stop offset="0.776" stop-color="#f4d49d"/><stop offset="0.786" stop-color="#f3c38f"/><stop offset="0.797" stop-color="#f0a87d"/><stop offset="0.808" stop-color="#e7876c"/><stop offset="0.818" stop-color="#d76a63"/><stop offset="0.829" stop-color="#b45466"/><stop offset="0.840" stop-color="#7e4366"/><stop offset="0.850" stop-color="#5a3a60"/><stop offset="0.861" stop-color="#493a57"/><stop offset="0.871" stop-color="#423b51"/><stop offset="0.882" stop-color="#3f3c4e"/><stop offset="0.893" stop-color="#3e3c4d"/><stop offset="0.903" stop-color="#3e3c4d"/><stop offset="0.914" stop-color="#403c4f"/><stop offset="0.925" stop-color="#433b52"/><stop offset="0.935" stop-color="#4a3a57"/><stop offset="0.946" stop-color="#573a5e"/><stop offset="0.956" stop-color="#693c64"/><stop offset="0.967" stop-color="#834566"/><stop offset="0.978" stop-color="#9b4d66"/><stop offset="0.988" stop-color="#b15366"/><stop offset="0.999" stop-color="#bd5965"/><stop offset="1.000" stop-color="#be5965"/></linearGradient>
<linearGradient id="h16" x1="366.4" x2="648.7" y1="0" y2="0" gradientUnits="userSpaceOnUse"><stop offset="0.000" stop-color="#8f4966"/><stop offset="0.011" stop-color="#754065"/><stop offset="0.021" stop-color="#5d3a61"/><stop offset="0.032" stop-color="#4d3a59"/><stop offset="0.043" stop-color="#443a53"/><stop offset="0.053" stop-color="#403c4f"/><stop offset="0.064" stop-color="#3e3c4d"/><stop offset="0.074" stop-color="#3e3c4d"/><stop offset="0.085" stop-color="#3f3c4e"/><stop offset="0.096" stop-color="#423b51"/><stop offset="0.106" stop-color="#4b3a58"/><stop offset="0.117" stop-color="#623b62"/><stop offset="0.128" stop-color="#8f4966"/><stop offset="0.138" stop-color="#c65e64"/><stop offset="0.149" stop-color="#df7566"/><stop offset="0.159" stop-color="#ec9673"/><stop offset="0.170" stop-color="#f2b887"/><stop offset="0.181" stop-color="#f4d099"/><stop offset="0.191" stop-color="#f5dea7"/><stop offset="0.202" stop-color="#f5e4b0"/><stop offset="0.213" stop-color="#f5e7b4"/><stop offset="0.223" stop-color="#f5e7b3"/><stop offset="0.234" stop-color="#f5e3ae"/><stop offset="0.244" stop-color="#f5dba4"/><stop offset="0.255" stop-color="#f4cc95"/><stop offset="0.266" stop-color="#f1b082"/><stop offset="0.276" stop-color="#e98e6f"/><stop offset="0.287" stop-color="#db6e64"/><stop offset="0.298" stop-color="#bb5765"/><stop offset="0.308" stop-color="#824566"/><stop offset="0.319" stop-color="#5c3a60"/><stop offset="0.329" stop-color="#4a3a57"/><stop offset="0.340" stop-color="#433b52"/><stop offset="0.351" stop-color="#413b50"/><stop offset="0.361" stop-color="#413b50"/><stop offset="0.372" stop-color="#443a53"/><stop offset="0.383" stop-color="#4e3a5a"/><stop offset="0.393" stop-color="#673c64"/><stop offset="0.404" stop-color="#984c66"/><stop offset="0.414" stop-color="#cb6163"/><stop offset="0.425" stop-color="#e17867"/><stop offset="0.436" stop-color="#ed9a75"/><stop offset="0.446" stop-color="#f2b988"/><stop offset="0.457" stop-color="#f4d099"/><stop offset="0.468" stop-color="#f5dca5"/><stop offset="0.478" stop-color="#f5e2ac"/><stop offset="0.489" stop-color="#f5e3af"/><stop offset="0.499" stop-color="#f5e1ac"/><stop offset="0.510" stop-color="#f5dca5"/><stop offset="0.521" stop-color="#f4cf98"/><stop offset="0.531" stop-color="#f2b787"/><stop offset="0.542" stop-color="#ec9774"/><stop offset="0.553" stop-color="#e07666"/><stop offset="0.563" stop-color="#c85f63"/><stop offset="0.574" stop-color="#944a66"/><stop offset="0.584" stop-color="#653c63"/><stop offset="0.595" stop-color="#4e3a5a"/><stop offset="0.606" stop-color="#443a53"/><stop offset="0.616" stop-color="#413b50"/><stop offset="0.627" stop-color="#403c4f"/><stop offset="0.638" stop-color="#413b50"/><stop offset="0.648" stop-color="#443a53"/><stop offset="0.659" stop-color="#4c3a59"/><stop offset="0.670" stop-color="#623b62"/><stop offset="0.680" stop-color="#8e4966"/><stop offset="0.691" stop-color="#c65d64"/><stop offset="0.701" stop-color="#df7466"/><stop offset="0.712" stop-color="#eb9472"/><stop offset="0.723" stop-color="#f1b484"/><stop offset="0.733" stop-color="#f4cb94"/><stop offset="0.744" stop-color="#f5d7a0"/><stop offset="0.755" stop-color="#f5dca5"/><stop offset="0.765" stop-color="#f5dba4"/><stop offset="0.776" stop-color="#f4d39c"/><stop offset="0.786" stop-color="#f3c38f"/><stop offset="0.797" stop-color="#f0a87d"/><stop offset="0.808" stop-color="#e7876c"/><stop offset="0.818" stop-color="#d76b63"/><stop offset="0.829" stop-color="#b35466"/><stop offset="0.840" stop-color="#7b4266"/><stop offset="0.850" stop-color="#573a5e"/><stop offset="0.861" stop-color="#473a55"/><stop offset="0.871" stop-color="#403c4f"/><stop offset="0.882" stop-color="#3e3c4d"/><stop offset="0.893" stop-color="#3d3c4c"/><stop offset="0.903" stop-color="#3e3c4d"/><stop offset="0.914" stop-color="#3f3c4e"/><stop offset="0.925" stop-color="#433b52"/><stop offset="0.935" stop-color="#4a3a57"/><stop offset="0.946" stop-color="#563a5e"/><stop offset="0.956" stop-color="#693c64"/><stop offset="0.967" stop-color="#834566"/><stop offset="0.978" stop-color="#9c4d66"/><stop offset="0.988" stop-color="#b35366"/><stop offset="0.999" stop-color="#c05a65"/><stop offset="1.000" stop-color="#c15a64"/></linearGradient>
<linearGradient id="h17" x1="366.4" x2="648.7" y1="0" y2="0" gradientUnits="userSpaceOnUse"><stop offset="0.000" stop-color="#8e4866"/><stop offset="0.011" stop-color="#734065"/><stop offset="0.021" stop-color="#5b3a60"/><stop offset="0.032" stop-color="#4b3a58"/><stop offset="0.043" stop-color="#433b52"/><stop offset="0.053" stop-color="#3f3c4e"/><stop offset="0.064" stop-color="#3d3c4c"/><stop offset="0.074" stop-color="#3d3c4c"/><stop offset="0.085" stop-color="#3e3c4d"/><stop offset="0.096" stop-color="#403c4f"/><stop offset="0.106" stop-color="#483a56"/><stop offset="0.117" stop-color="#5c3a60"/><stop offset="0.128" stop-color="#884766"/><stop offset="0.138" stop-color="#c45c64"/><stop offset="0.149" stop-color="#de7266"/><stop offset="0.159" stop-color="#eb9371"/><stop offset="0.170" stop-color="#f1b384"/><stop offset="0.181" stop-color="#f4cc95"/><stop offset="0.191" stop-color="#f5daa3"/><stop offset="0.202" stop-color="#f5e1ac"/><stop offset="0.213" stop-color="#f5e4af"/><stop offset="0.223" stop-color="#f5e3af"/><stop offset="0.234" stop-color="#f5dfa9"/><stop offset="0.244" stop-color="#f5d59e"/><stop offset="0.255" stop-color="#f3c38f"/><stop offset="0.266" stop-color="#efa67c"/><stop offset="0.276" stop-color="#e6856b"/><stop offset="0.287" stop-color="#d56963"/><stop offset="0.298" stop-color="#ae5266"/><stop offset="0.308" stop-color="#734065"/><stop offset="0.319" stop-color="#523a5c"/><stop offset="0.329" stop-color="#443a53"/><stop offset="0.340" stop-color="#3f3c4e"/><stop offset="0.351" stop-color="#3e3c4d"/><stop offset="0.361" stop-color="#3e3c4d"/><stop offset="0.372" stop-color="#413b50"/><stop offset="0.383" stop-color="#4a3a57"/><stop offset="0.393" stop-color="#603b62"/><stop offset="0.404" stop-color="#8f4966"/><stop offset="0.414" stop-color="#c95f63"/><stop offset="0.425" stop-color="#e17767"/><stop offset="0.436" stop-color="#ec9974"/><stop offset="0.446" stop-color="#f2b988"/><stop offset="0.457" stop-color="#f4d099"/><stop offset="0.468" stop-color="#f5dda6"/><stop offset="0.478" stop-color="#f5e2ad"/><stop offset="0.489" stop-color="#f5e4b0"/><stop offset="0.499" stop-color="#f5e2ad"/><stop offset="0.510" stop-color="#f5dca5"/><stop offset="0.521" stop-color="#f4cf98"/><stop offset="0.531" stop-color="#f2b786"/><stop offset="0.542" stop-color="#ec9673"/><stop offset="0.553" stop-color="#df7566"/><stop offset="0.563" stop-color="#c75e64"/><stop offset="0.574" stop-color="#8b4866"/><stop offset="0.584" stop-color="#5e3b61"/><stop offset="0.595" stop-color="#493a57"/><stop offset="0.606" stop-color="#423b51"/><stop offset="0.616" stop-color="#3f3c4e"/><stop offset="0.627" stop-color="#3e3c4d"/><stop offset="0.638" stop-color="#3f3c4e"/><stop offset="0.648" stop-color="#413b50"/><stop offset="0.659" stop-color="#473a55"/><stop offset="0.670" stop-color="#593a60"/><stop offset="0.680" stop-color="#834566"/><stop offset="0.691" stop-color="#bf5965"/><stop offset="0.701" stop-color="#dc6f65"/><stop offset="0.712" stop-color="#e98e6f"/><stop offset="0.723" stop-color="#f0ad80"/><stop offset="0.733" stop-color="#f3c590"/><stop offset="0.744" stop-color="#f4d29b"/><stop offset="0.755" stop-color="#f5d7a0"/><stop offset="0.765" stop-color="#f5d69f"/><stop offset="0.776" stop-color="#f4ce97"/><stop offset="0.786" stop-color="#f2bd8a"/><stop offset="0.797" stop-color="#efa179"/><stop offset="0.808" stop-color="#e58169"/><stop offset="0.818" stop-color="#d36762"/><stop offset="0.829" stop-color="#a95166"/><stop offset="0.840" stop-color="#703f65"/><stop offset="0.850" stop-color="#503a5b"/><stop offset="0.861" stop-color="#433b52"/><stop offset="0.871" stop-color="#3f3c4e"/><stop offset="0.882" stop-color="#3d3c4c"/><stop offset="0.893" stop-color="#3d3d4c"/><stop offset="0.903" stop-color="#3d3c4c"/><stop offset="0.914" stop-color="#3f3c4e"/><stop offset="0.925" stop-color="#423b51"/><stop offset="0.935" stop-color="#483a56"/><stop offset="0.946" stop-color="#543a5d"/><stop offset="0.956" stop-color="#673c64"/><stop offset="0.967" stop-color="#814466"/><stop offset="0.978" stop-color="#9b4d66"/><stop offset="0.988" stop-color="#b35366"/><stop offset="0.999" stop-color="#c05a64"/><stop offset="1.000" stop-color="#c15b64"/></linearGradient>
<linearGradient id="h18" x1="366.4" x2="648.7" y1="0" y2="0" gradientUnits="userSpaceOnUse"><stop offset="0.000" stop-color="#894766"/><stop offset="0.011" stop-color="#6d3e65"/><stop offset="0.021" stop-color="#563a5e"/><stop offset="0.032" stop-color="#483a56"/><stop offset="0.043" stop-color="#413b50"/><stop offset="0.053" stop-color="#3e3c4d"/><stop offset="0.064" stop-color="#3d3d4c"/><stop offset="0.074" stop-color="#3d3d4c"/><stop offset="0.085" stop-color="#3d3c4c"/><stop offset="0.096" stop-color="#403c4f"/><stop offset="0.106" stop-color="#473a55"/><stop offset="0.117" stop-color="#5a3a60"/><stop offset="0.128" stop-color="#864666"/><stop offset="0.138" stop-color="#c25b64"/><stop offset="0.149" stop-color="#dd7065"/><stop offset="0.159" stop-color="#e98e6f"/><stop offset="0.170" stop-color="#f0ad80"/><stop offset="0.181" stop-color="#f3c590"/><stop offset="0.191" stop-color="#f4d49d"/><stop offset="0.202" stop-color="#f5dba4"/><stop offset="0.213" stop-color="#f5dda7"/><stop offset="0.223" stop-color="#f5dba4"/><stop offset="0.234" stop-color="#f5d49d"/><stop offset="0.244" stop-color="#f3c791"/><stop offset="0.255" stop-color="#f1af81"/><stop offset="0.266" stop-color="#ea9170"/><stop offset="0.276" stop-color="#de7265"/><stop offset="0.287" stop-color="#c55c64"/><stop offset="0.298" stop-color="#8a4766"/><stop offset="0.308" stop-color="#5c3a61"/><stop offset="0.319" stop-color="#483a56"/><stop offset="0.329" stop-color="#403c4f"/><stop offset="0.340" stop-color="#3e3c4d"/><stop offset="0.351" stop-color="#3d3d4c"/><stop offset="0.361" stop-color="#3e3c4d"/><stop offset="0.372" stop-color="#403c4f"/><stop offset="0.383" stop-color="#483a56"/><stop offset="0.393" stop-color="#5f3b61"/><stop offset="0.404" stop-color="#8f4966"/><stop offset="0.414" stop-color="#ca6063"/><stop offset="0.425" stop-color="#e17967"/><stop offset="0.436" stop-color="#ed9b76"/><stop offset="0.446" stop-color="#f2bb89"/><stop offset="0.457" stop-color="#f4d29b"/><stop offset="0.468" stop-color="#f5dea8"/><stop offset="0.478" stop-color="#f5e4af"/><stop offset="0.489" stop-color="#f5e5b1"/><stop offset="0.499" stop-color="#f5e3af"/><stop offset="0.510" stop-color="#f5dda7"/><stop offset="0.521" stop-color="#f4d099"/><stop offset="0.531" stop-color="#f2b787"/><stop offset="0.542" stop-color="#ec9673"/><stop offset="0.553" stop-color="#df7466"/><stop offset="0.563" stop-color="#c55d64"/><stop offset="0.574" stop-color="#874666"/><stop offset="0.584" stop-color="#5a3a60"/><stop offset="0.595" stop-color="#473a55"/><stop offset="0.606" stop-color="#413b50"/><stop offset="0.616" stop-color="#3e3c4d"/><stop offset="0.627" stop-color="#3e3c4d"/><stop offset="0.638" stop-color="#3e3c4d"/><stop offset="0.648" stop-color="#3f3c4e"/><stop offset="0.659" stop-color="#443a53"/><stop offset="0.670" stop-color="#533a5c"/><stop offset="0.680" stop-color="#774166"/><stop offset="0.691" stop-color="#b55466"/><stop offset="0.701" stop-color="#d66a63"/><stop offset="0.712" stop-color="#e6846b"/><stop offset="0.723" stop-color="#efa27a"/><stop offset="0.733" stop-color="#f2bb89"/><stop offset="0.744" stop-color="#f4cb94"/><stop offset="0.755" stop-color="#f4d099"/><stop offset="0.765" stop-color="#f4cf98"/><stop offset="0.776" stop-color="#f3c690"/><stop offset="0.786" stop-color="#f1b384"/><stop offset="0.797" stop-color="#ec9774"/><stop offset="0.808" stop-color="#e17967"/><stop offset="0.818" stop-color="#cc6263"/><stop offset="0.829" stop-color="#9a4c66"/><stop offset="0.840" stop-color="#653c63"/><stop offset="0.850" stop-color="#4b3a58"/><stop offset="0.861" stop-color="#413b50"/><stop offset="0.871" stop-color="#3e3c4d"/><stop offset="0.882" stop-color="#3d3d4c"/><stop offset="0.893" stop-color="#3c3d4b"/><stop offset="0.903" stop-color="#3d3d4c"/><stop offset="0.914" stop-color="#3e3c4d"/><stop offset="0.925" stop-color="#413b50"/><stop offset="0.935" stop-color="#473a55"/><stop offset="0.946" stop-color="#523a5c"/><stop offset="0.956" stop-color="#653c63"/><stop offset="0.967" stop-color="#7f4466"/><stop offset="0.978" stop-color="#9a4c66"/><stop offset="0.988" stop-color="#b25366"/><stop offset="0.999" stop-color="#c05a64"/><stop offset="1.000" stop-color="#c15b64"/></linearGradient>
<linearGradient id="h19" x1="366.4" x2="648.7" y1="0" y2="0" gradientUnits="userSpaceOnUse"><stop offset="0.000" stop-color="#844566"/><stop offset="0.011" stop-color="#673c64"/><stop offset="0.021" stop-color="#523a5c"/><stop offset="0.032" stop-color="#453a54"/><stop offset="0.043" stop-color="#403c4f"/><stop offset="0.053" stop-color="#3d3c4c"/><stop offset="0.064" stop-color="#3c3d4b"/><stop offset="0.074" stop-color="#3c3d4b"/><stop offset="0.085" stop-color="#3d3d4c"/><stop offset="0.096" stop-color="#3f3c4e"/><stop offset="0.106" stop-color="#463a55"/><stop offset="0.117" stop-color="#593a60"/><stop offset="0.128" stop-color="#854666"/><stop offset="0.138" stop-color="#c05a65"/><stop offset="0.149" stop-color="#db6e64"/><stop offset="0.159" stop-color="#e88a6d"/><stop offset="0.170" stop-color="#efa67c"/><stop offset="0.181" stop-color="#f3be8b"/><stop offset="0.191" stop-color="#f4cd96"/><stop offset="0.202" stop-color="#f4d39c"/><stop offset="0.213" stop-color="#f5d59e"/><stop offset="0.223" stop-color="#f4d19a"/><stop offset="0.234" stop-color="#f3c791"/><stop offset="0.244" stop-color="#f2b585"/><stop offset="0.255" stop-color="#ed9a75"/><stop offset="0.266" stop-color="#e37c68"/><stop offset="0.276" stop-color="#d16562"/><stop offset="0.287" stop-color="#a85066"/><stop offset="0.298" stop-color="#6e3e65"/><stop offset="0.308" stop-color="#4f3a5a"/><stop offset="0.319" stop-color="#423b51"/><stop offset="0.329" stop-color="#3e3c4d"/><stop offset="0.340" stop-color="#3d3d4c"/><stop offset="0.351" stop-color="#3c3d4b"/><stop offset="0.361" stop-color="#3d3c4c"/><stop offset="0.372" stop-color="#403c4f"/><stop offset="0.383" stop-color="#483a56"/><stop offset="0.393" stop-color="#5e3b61"/><stop offset="0.404" stop-color="#904966"/><stop offset="0.414" stop-color="#cb6163"/><stop offset="0.425" stop-color="#e27a67"/><stop offset="0.436" stop-color="#ed9d77"/><stop offset="0.446" stop-color="#f3be8b"/><stop offset="0.457" stop-color="#f4d49d"/><stop offset="0.468" stop-color="#f5e0aa"/><stop offset="0.478" stop-color="#f5e5b1"/><stop offset="0.489" stop-color="#f5e7b3"/><stop offset="0.499" stop-color="#f5e4b0"/><stop offset="0.510" stop-color="#f5dea8"/><stop offset="0.521" stop-color="#f4d19a"/><stop offset="0.531" stop-color="#f2b887"/><stop offset="0.542" stop-color="#ec9673"/><stop offset="0.553" stop-color="#df7466"/><stop offset="0.563" stop-color="#c35c64"/><stop offset="0.574" stop-color="#844566"/><stop offset="0.584" stop-color="#583a5f"/><stop offset="0.595" stop-color="#463a55"/><stop offset="0.606" stop-color="#403c4f"/><stop offset="0.616" stop-color="#3e3c4d"/><stop offset="0.627" stop-color="#3d3c4c"/><stop offset="0.638" stop-color="#3d3c4c"/><stop offset="0.648" stop-color="#3e3c4d"/><stop offset="0.659" stop-color="#433b52"/><stop offset="0.670" stop-color="#4e3a5a"/><stop offset="0.680" stop-color="#6d3e65"/><stop offset="0.691" stop-color="#a75066"/><stop offset="0.701" stop-color="#d16562"/><stop offset="0.712" stop-color="#e37c68"/><stop offset="0.723" stop-color="#ec9975"/><stop offset="0.733" stop-color="#f1b183"/><stop offset="0.744" stop-color="#f3c18e"/><stop offset="0.755" stop-color="#f4c892"/><stop offset="0.765" stop-color="#f3c691"/><stop offset="0.776" stop-color="#f2bc8a"/><stop offset="0.786" stop-color="#f0a87d"/><stop offset="0.797" stop-color="#e98d6f"/><stop offset="0.808" stop-color="#dd7165"/><stop offset="0.818" stop-color="#c55c64"/><stop offset="0.829" stop-color="#8c4866"/><stop offset="0.840" stop-color="#5d3a61"/><stop offset="0.850" stop-color="#483a56"/><stop offset="0.861" stop-color="#403c4f"/><stop offset="0.871" stop-color="#3d3c4c"/><stop offset="0.882" stop-color="#3c3d4b"/><stop offset="0.893" stop-color="#3c3d4b"/><stop offset="0.903" stop-color="#3c3d4b"/><stop offset="0.914" stop-color="#3e3c4d"/><stop offset="0.925" stop-color="#403c4f"/><stop offset="0.935" stop-color="#453a54"/><stop offset="0.946" stop-color="#503a5b"/><stop offset="0.956" stop-color="#633b62"/><stop offset="0.967" stop-color="#7d4366"/><stop offset="0.978" stop-color="#984c66"/><stop offset="0.988" stop-color="#b25366"/><stop offset="0.999" stop-color="#c05a65"/><stop offset="1.000" stop-color="#c15b64"/></linearGradient>
<linearGradient id="h20" x1="366.4" x2="648.7" y1="0" y2="0" gradientUnits="userSpaceOnUse"><stop offset="0.000" stop-color="#7f4466"/><stop offset="0.011" stop-color="#633b62"/><stop offset="0.021" stop-color="#4e3a5a"/><stop offset="0.032" stop-color="#433b52"/><stop offset="0.043" stop-color="#3e3c4d"/><stop offset="0.053" stop-color="#3d3d4c"/><stop offset="0.064" stop-color="#3c3d4b"/><stop offset="0.074" stop-color="#3c3d4b"/><stop offset="0.085" stop-color="#3d3d4c"/><stop offset="0.096" stop-color="#3f3c4e"/><stop offset="0.106" stop-color="#463a54"/><stop offset="0.117" stop-color="#593a5f"/><stop offset="0.128" stop-color="#844566"/><stop offset="0.138" stop-color="#be5965"/><stop offset="0.149" stop-color="#d96c64"/><stop offset="0.159" stop-color="#e6856b"/><stop offset="0.170" stop-color="#eea078"/><stop offset="0.181" stop-color="#f2b686"/><stop offset="0.191" stop-color="#f3c48f"/><stop offset="0.202" stop-color="#f4cb94"/><stop offset="0.213" stop-color="#f4cb94"/><stop offset="0.223" stop-color="#f3c590"/><stop offset="0.234" stop-color="#f2b786"/><stop offset="0.244" stop-color="#efa179"/><stop offset="0.255" stop-color="#e7876c"/><stop offset="0.266" stop-color="#da6d64"/><stop offset="0.276" stop-color="#c05a65"/><stop offset="0.287" stop-color="#874666"/><stop offset="0.298" stop-color="#5a3a60"/><stop offset="0.308" stop-color="#463a55"/><stop offset="0.319" stop-color="#3f3c4e"/><stop offset="0.329" stop-color="#3d3d4c"/><stop offset="0.340" stop-color="#3c3d4b"/><stop offset="0.351" stop-color="#3c3d4b"/><stop offset="0.361" stop-color="#3d3c4c"/><stop offset="0.372" stop-color="#403c4f"/><stop offset="0.383" stop-color="#483a56"/><stop offset="0.393" stop-color="#5e3b61"/><stop offset="0.404" stop-color="#914966"/><stop offset="0.414" stop-color="#cc6263"/><stop offset="0.425" stop-color="#e37b67"/><stop offset="0.436" stop-color="#ee9f78"/><stop offset="0.446" stop-color="#f3c08d"/><stop offset="0.457" stop-color="#f5d69f"/><stop offset="0.468" stop-color="#f5e1ac"/><stop offset="0.478" stop-color="#f5e6b3"/><stop offset="0.489" stop-color="#f5e8b5"/><stop offset="0.499" stop-color="#f5e5b1"/><stop offset="0.510" stop-color="#f5dfa9"/><stop offset="0.521" stop-color="#f4d19a"/><stop offset="0.531" stop-color="#f2b887"/><stop offset="0.542" stop-color="#eb9573"/><stop offset="0.553" stop-color="#df7366"/><stop offset="0.563" stop-color="#c15b64"/><stop offset="0.574" stop-color="#814466"/><stop offset="0.584" stop-color="#563a5e"/><stop offset="0.595" stop-color="#453a54"/><stop offset="0.606" stop-color="#3f3c4e"/><stop offset="0.616" stop-color="#3e3c4d"/><stop offset="0.627" stop-color="#3d3d4c"/><stop offset="0.638" stop-color="#3d3d4c"/><stop offset="0.648" stop-color="#3e3c4d"/><stop offset="0.659" stop-color="#413b50"/><stop offset="0.670" stop-color="#4b3a58"/><stop offset="0.680" stop-color="#643b63"/><stop offset="0.691" stop-color="#994c66"/><stop offset="0.701" stop-color="#c96063"/><stop offset="0.712" stop-color="#df7466"/><stop offset="0.723" stop-color="#ea8f70"/><stop offset="0.733" stop-color="#f0a77d"/><stop offset="0.744" stop-color="#f2b887"/><stop offset="0.755" stop-color="#f3bf8c"/><stop offset="0.765" stop-color="#f3bd8b"/><stop offset="0.776" stop-color="#f1b283"/><stop offset="0.786" stop-color="#ee9e77"/><stop offset="0.797" stop-color="#e6836a"/><stop offset="0.808" stop-color="#d86b64"/><stop offset="0.818" stop-color="#bd5865"/><stop offset="0.829" stop-color="#804466"/><stop offset="0.840" stop-color="#573a5e"/><stop offset="0.850" stop-color="#453a54"/><stop offset="0.861" stop-color="#3f3c4e"/><stop offset="0.871" stop-color="#3d3d4c"/><stop offset="0.882" stop-color="#3c3d4b"/><stop offset="0.893" stop-color="#3c3d4b"/><stop offset="0.903" stop-color="#3c3d4b"/><stop offset="0.914" stop-color="#3d3c4c"/><stop offset="0.925" stop-color="#403c4f"/><stop offset="0.935" stop-color="#443a53"/><stop offset="0.946" stop-color="#4e3a5a"/><stop offset="0.956" stop-color="#603b62"/><stop offset="0.967" stop-color="#7a4266"/><stop offset="0.978" stop-color="#974b66"/><stop offset="0.988" stop-color="#b15366"/><stop offset="0.999" stop-color="#c05a65"/><stop offset="1.000" stop-color="#c15b64"/></linearGradient>
<linearGradient id="h21" x1="366.4" x2="648.7" y1="0" y2="0" gradientUnits="userSpaceOnUse"><stop offset="0.000" stop-color="#7a4266"/><stop offset="0.011" stop-color="#5e3b61"/><stop offset="0.021" stop-color="#4b3a58"/><stop offset="0.032" stop-color="#413b50"/><stop offset="0.043" stop-color="#3e3c4d"/><stop offset="0.053" stop-color="#3c3d4b"/><stop offset="0.064" stop-color="#3b3d4a"/><stop offset="0.074" stop-color="#3b3d4a"/><stop offset="0.085" stop-color="#3c3d4b"/><stop offset="0.096" stop-color="#3f3c4e"/><stop offset="0.106" stop-color="#443a53"/><stop offset="0.117" stop-color="#553a5e"/><stop offset="0.128" stop-color="#7e4366"/><stop offset="0.138" stop-color="#bb5765"/><stop offset="0.149" stop-color="#d66a63"/><stop offset="0.159" stop-color="#e58169"/><stop offset="0.170" stop-color="#ed9c76"/><stop offset="0.181" stop-color="#f1b283"/><stop offset="0.191" stop-color="#f3c08d"/><stop offset="0.202" stop-color="#f3c791"/><stop offset="0.213" stop-color="#f3c691"/><stop offset="0.223" stop-color="#f3bf8c"/><stop offset="0.234" stop-color="#f1b082"/><stop offset="0.244" stop-color="#ec9975"/><stop offset="0.255" stop-color="#e47e68"/><stop offset="0.266" stop-color="#d46862"/><stop offset="0.276" stop-color="#b65566"/><stop offset="0.287" stop-color="#784166"/><stop offset="0.298" stop-color="#533a5c"/><stop offset="0.308" stop-color="#443a53"/><stop offset="0.319" stop-color="#3e3c4d"/><stop offset="0.329" stop-color="#3c3d4b"/><stop offset="0.340" stop-color="#3c3d4b"/><stop offset="0.351" stop-color="#3c3d4b"/><stop offset="0.361" stop-color="#3d3d4c"/><stop offset="0.372" stop-color="#3f3c4e"/><stop offset="0.383" stop-color="#473a55"/><stop offset="0.393" stop-color="#5c3a61"/><stop offset="0.404" stop-color="#8d4866"/><stop offset="0.414" stop-color="#ca6063"/><stop offset="0.425" stop-color="#e17967"/><stop offset="0.436" stop-color="#ed9b76"/><stop offset="0.446" stop-color="#f2bb89"/><stop offset="0.457" stop-color="#f4d29b"/><stop offset="0.468" stop-color="#f5dea7"/><stop offset="0.478" stop-color="#f5e3ae"/><stop offset="0.489" stop-color="#f5e4b0"/><stop offset="0.499" stop-color="#f5e2ad"/><stop offset="0.510" stop-color="#f5dba4"/><stop offset="0.521" stop-color="#f4cd96"/><stop offset="0.531" stop-color="#f1b283"/><stop offset="0.542" stop-color="#ea9070"/><stop offset="0.553" stop-color="#dd7065"/><stop offset="0.563" stop-color="#bd5865"/><stop offset="0.574" stop-color="#7c4366"/><stop offset="0.584" stop-color="#543a5d"/><stop offset="0.595" stop-color="#443a53"/><stop offset="0.606" stop-color="#3f3c4e"/><stop offset="0.616" stop-color="#3d3c4c"/><stop offset="0.627" stop-color="#3c3d4b"/><stop offset="0.638" stop-color="#3c3d4b"/><stop offset="0.648" stop-color="#3d3c4c"/><stop offset="0.659" stop-color="#3f3c4e"/><stop offset="0.670" stop-color="#473a55"/><stop offset="0.680" stop-color="#5b3a60"/><stop offset="0.691" stop-color="#884766"/><stop offset="0.701" stop-color="#bf5965"/><stop offset="0.712" stop-color="#d86c64"/><stop offset="0.723" stop-color="#e5826a"/><stop offset="0.733" stop-color="#ec9975"/><stop offset="0.744" stop-color="#f0a97d"/><stop offset="0.755" stop-color="#f1b082"/><stop offset="0.765" stop-color="#f1ae81"/><stop offset="0.776" stop-color="#efa27a"/><stop offset="0.786" stop-color="#ea8f70"/><stop offset="0.797" stop-color="#e17767"/><stop offset="0.808" stop-color="#cf6462"/><stop offset="0.818" stop-color="#ac5166"/><stop offset="0.829" stop-color="#713f65"/><stop offset="0.840" stop-color="#503a5b"/><stop offset="0.850" stop-color="#433b52"/><stop offset="0.861" stop-color="#3e3c4d"/><stop offset="0.871" stop-color="#3c3d4b"/><stop offset="0.882" stop-color="#3b3d4a"/><stop offset="0.893" stop-color="#3b3d4a"/><stop offset="0.903" stop-color="#3c3d4b"/><stop offset="0.914" stop-color="#3d3d4c"/><stop offset="0.925" stop-color="#3f3c4e"/><stop offset="0.935" stop-color="#433b52"/><stop offset="0.946" stop-color="#4d3a59"/><stop offset="0.956" stop-color="#5e3b61"/><stop offset="0.967" stop-color="#784166"/><stop offset="0.978" stop-color="#954b66"/><stop offset="0.988" stop-color="#b05266"/><stop offset="0.999" stop-color="#c05a65"/><stop offset="1.000" stop-color="#c15a64"/></linearGradient>
<linearGradient id="h22" x1="366.4" x2="648.7" y1="0" y2="0" gradientUnits="userSpaceOnUse"><stop offset="0.000" stop-color="#754065"/><stop offset="0.011" stop-color="#593a5f"/><stop offset="0.021" stop-color="#473a56"/><stop offset="0.032" stop-color="#403c4f"/><stop offset="0.043" stop-color="#3d3d4c"/><stop offset="0.053" stop-color="#3b3d4a"/><stop offset="0.064" stop-color="#3b3d4a"/><stop offset="0.074" stop-color="#3b3d4a"/><stop offset="0.085" stop-color="#3c3d4b"/><stop offset="0.096" stop-color="#3e3c4d"/><stop offset="0.106" stop-color="#433b52"/><stop offset="0.117" stop-color="#523a5c"/><stop offset="0.128" stop-color="#784166"/><stop offset="0.138" stop-color="#b75566"/><stop offset="0.149" stop-color="#d46762"/><stop offset="0.159" stop-color="#e47d68"/><stop offset="0.170" stop-color="#ec9874"/><stop offset="0.181" stop-color="#f1ae81"/><stop offset="0.191" stop-color="#f2bc8a"/><stop offset="0.202" stop-color="#f3c28e"/><stop offset="0.213" stop-color="#f3c18e"/><stop offset="0.223" stop-color="#f2b988"/><stop offset="0.234" stop-color="#f0a87d"/><stop offset="0.244" stop-color="#ea9170"/><stop offset="0.255" stop-color="#e07766"/><stop offset="0.266" stop-color="#cc6263"/><stop offset="0.276" stop-color="#a44f66"/><stop offset="0.287" stop-color="#6a3d64"/><stop offset="0.298" stop-color="#4c3a59"/><stop offset="0.308" stop-color="#413b50"/><stop offset="0.319" stop-color="#3d3c4c"/><stop offset="0.329" stop-color="#3c3d4b"/><stop offset="0.340" stop-color="#3b3d4a"/><stop offset="0.351" stop-color="#3c3d4b"/><stop offset="0.361" stop-color="#3d3d4c"/><stop offset="0.372" stop-color="#3f3c4e"/><stop offset="0.383" stop-color="#463a55"/><stop offset="0.393" stop-color="#5a3a60"/><stop offset="0.404" stop-color="#8a4766"/><stop offset="0.414" stop-color="#c85f63"/><stop offset="0.425" stop-color="#e07666"/><stop offset="0.436" stop-color="#ec9673"/><stop offset="0.446" stop-color="#f2b686"/><stop offset="0.457" stop-color="#f4cd96"/><stop offset="0.468" stop-color="#f5daa3"/><stop offset="0.478" stop-color="#f5e0aa"/><stop offset="0.489" stop-color="#f5e1ac"/><stop offset="0.499" stop-color="#f5dea8"/><stop offset="0.510" stop-color="#f5d7a0"/><stop offset="0.521" stop-color="#f3c791"/><stop offset="0.531" stop-color="#f0ac80"/><stop offset="0.542" stop-color="#e88b6e"/><stop offset="0.553" stop-color="#da6d64"/><stop offset="0.563" stop-color="#b95665"/><stop offset="0.574" stop-color="#784166"/><stop offset="0.584" stop-color="#523a5c"/><stop offset="0.595" stop-color="#433b52"/><stop offset="0.606" stop-color="#3e3c4d"/><stop offset="0.616" stop-color="#3d3d4c"/><stop offset="0.627" stop-color="#3c3d4b"/><stop offset="0.638" stop-color="#3c3d4b"/><stop offset="0.648" stop-color="#3d3d4c"/><stop offset="0.659" stop-color="#3e3c4d"/><stop offset="0.670" stop-color="#443a53"/><stop offset="0.680" stop-color="#543a5d"/><stop offset="0.691" stop-color="#7a4266"/><stop offset="0.701" stop-color="#b45466"/><stop offset="0.712" stop-color="#d06462"/><stop offset="0.723" stop-color="#e07666"/><stop offset="0.733" stop-color="#e88b6e"/><stop offset="0.744" stop-color="#ed9a75"/><stop offset="0.755" stop-color="#eea179"/><stop offset="0.765" stop-color="#ee9f78"/><stop offset="0.776" stop-color="#eb9472"/><stop offset="0.786" stop-color="#e5816a"/><stop offset="0.797" stop-color="#da6e64"/><stop offset="0.808" stop-color="#c45c64"/><stop offset="0.818" stop-color="#994c66"/><stop offset="0.829" stop-color="#653c63"/><stop offset="0.840" stop-color="#4b3a58"/><stop offset="0.850" stop-color="#413b50"/><stop offset="0.861" stop-color="#3d3c4c"/><stop offset="0.871" stop-color="#3c3d4b"/><stop offset="0.882" stop-color="#3b3d4a"/><stop offset="0.893" stop-color="#3b3d4a"/><stop offset="0.903" stop-color="#3c3d4b"/><stop offset="0.914" stop-color="#3d3d4c"/><stop offset="0.925" stop-color="#3e3c4d"/><stop offset="0.935" stop-color="#433b52"/><stop offset="0.946" stop-color="#4b3a58"/><stop offset="0.956" stop-color="#5b3a60"/><stop offset="0.967" stop-color="#754065"/><stop offset="0.978" stop-color="#934a66"/><stop offset="0.988" stop-color="#af5266"/><stop offset="0.999" stop-color="#bf5a65"/><stop offset="1.000" stop-color="#c15a64"/></linearGradient>
<linearGradient id="h23" x1="366.4" x2="648.7" y1="0" y2="0" gradientUnits="userSpaceOnUse"><stop offset="0.000" stop-color="#6f3e65"/><stop offset="0.011" stop-color="#543a5d"/><stop offset="0.021" stop-color="#443a53"/><stop offset="0.032" stop-color="#3e3c4d"/><stop offset="0.043" stop-color="#3c3d4b"/><stop offset="0.053" stop-color="#3b3d4a"/><stop offset="0.064" stop-color="#3b3d4a"/><stop offset="0.074" stop-color="#3b3d4a"/><stop offset="0.085" stop-color="#3c3d4b"/><stop offset="0.096" stop-color="#3e3c4d"/><stop offset="0.106" stop-color="#423b51"/><stop offset="0.117" stop-color="#4f3a5b"/><stop offset="0.128" stop-color="#723f65"/><stop offset="0.138" stop-color="#b05366"/><stop offset="0.149" stop-color="#d16562"/><stop offset="0.159" stop-color="#e27a67"/><stop offset="0.170" stop-color="#eb9472"/><stop offset="0.181" stop-color="#f0aa7e"/><stop offset="0.191" stop-color="#f2b887"/><stop offset="0.202" stop-color="#f3be8b"/><stop offset="0.213" stop-color="#f2bc8a"/><stop offset="0.223" stop-color="#f1b384"/><stop offset="0.234" stop-color="#eea179"/><stop offset="0.244" stop-color="#e8896d"/><stop offset="0.255" stop-color="#dc7065"/><stop offset="0.266" stop-color="#c55c64"/><stop offset="0.276" stop-color="#924a66"/><stop offset="0.287" stop-color="#5f3b61"/><stop offset="0.298" stop-color="#483a56"/><stop offset="0.308" stop-color="#403c4f"/><stop offset="0.319" stop-color="#3d3d4c"/><stop offset="0.329" stop-color="#3b3d4a"/><stop offset="0.340" stop-color="#3b3d4a"/><stop offset="0.351" stop-color="#3b3d4a"/><stop offset="0.361" stop-color="#3c3d4b"/><stop offset="0.372" stop-color="#3f3c4e"/><stop offset="0.383" stop-color="#453a54"/><stop offset="0.393" stop-color="#593a5f"/><stop offset="0.404" stop-color="#874666"/><stop offset="0.414" stop-color="#c55d64"/><stop offset="0.425" stop-color="#de7366"/><stop offset="0.436" stop-color="#eb9271"/><stop offset="0.446" stop-color="#f1b183"/><stop offset="0.457" stop-color="#f4c993"/><stop offset="0.468" stop-color="#f5d69f"/><stop offset="0.478" stop-color="#f5dca6"/><stop offset="0.489" stop-color="#f5dea7"/><stop offset="0.499" stop-color="#f5dba4"/><stop offset="0.510" stop-color="#f4d29b"/><stop offset="0.521" stop-color="#f3c18d"/><stop offset="0.531" stop-color="#efa67c"/><stop offset="0.542" stop-color="#e7866c"/><stop offset="0.553" stop-color="#d76b63"/><stop offset="0.563" stop-color="#b45466"/><stop offset="0.574" stop-color="#734065"/><stop offset="0.584" stop-color="#4f3a5b"/><stop offset="0.595" stop-color="#423b51"/><stop offset="0.606" stop-color="#3e3c4d"/><stop offset="0.616" stop-color="#3c3d4b"/><stop offset="0.627" stop-color="#3c3d4b"/><stop offset="0.638" stop-color="#3c3d4b"/><stop offset="0.648" stop-color="#3c3d4b"/><stop offset="0.659" stop-color="#3e3c4d"/><stop offset="0.670" stop-color="#423b51"/><stop offset="0.680" stop-color="#4d3a5a"/><stop offset="0.691" stop-color="#6c3d64"/><stop offset="0.701" stop-color="#a44f66"/><stop offset="0.712" stop-color="#c55d64"/><stop offset="0.723" stop-color="#da6d64"/><stop offset="0.733" stop-color="#e47d68"/><stop offset="0.744" stop-color="#e98c6e"/><stop offset="0.755" stop-color="#eb9372"/><stop offset="0.765" stop-color="#ea9170"/><stop offset="0.776" stop-color="#e7866c"/><stop offset="0.786" stop-color="#e07666"/><stop offset="0.797" stop-color="#d26662"/><stop offset="0.808" stop-color="#b95665"/><stop offset="0.818" stop-color="#884766"/><stop offset="0.829" stop-color="#5b3a60"/><stop offset="0.840" stop-color="#463a55"/><stop offset="0.850" stop-color="#3f3c4e"/><stop offset="0.861" stop-color="#3d3d4c"/><stop offset="0.871" stop-color="#3b3d4a"/><stop offset="0.882" stop-color="#3b3d4a"/><stop offset="0.893" stop-color="#3b3d4a"/><stop offset="0.903" stop-color="#3b3d4a"/><stop offset="0.914" stop-color="#3c3d4b"/><stop offset="0.925" stop-color="#3e3c4d"/><stop offset="0.935" stop-color="#423b51"/><stop offset="0.946" stop-color="#4a3a57"/><stop offset="0.956" stop-color="#593a60"/><stop offset="0.967" stop-color="#723f65"/><stop offset="0.978" stop-color="#914966"/><stop offset="0.988" stop-color="#ad5266"/><stop offset="0.999" stop-color="#bf5965"/><stop offset="1.000" stop-color="#c05a64"/></linearGradient>
<linearGradient id="h24" x1="366.4" x2="648.7" y1="0" y2="0" gradientUnits="userSpaceOnUse"><stop offset="0.000" stop-color="#6b3d64"/><stop offset="0.011" stop-color="#513a5c"/><stop offset="0.021" stop-color="#433b52"/><stop offset="0.032" stop-color="#3e3c4d"/><stop offset="0.043" stop-color="#3c3d4b"/><stop offset="0.053" stop-color="#3b3d4a"/><stop offset="0.064" stop-color="#3b3d49"/><stop offset="0.074" stop-color="#3b3d4a"/><stop offset="0.085" stop-color="#3c3d4b"/><stop offset="0.096" stop-color="#3d3c4c"/><stop offset="0.106" stop-color="#413b50"/><stop offset="0.117" stop-color="#4d3a59"/><stop offset="0.128" stop-color="#6d3e65"/><stop offset="0.138" stop-color="#a95166"/><stop offset="0.149" stop-color="#cd6363"/><stop offset="0.159" stop-color="#e07666"/><stop offset="0.170" stop-color="#ea8f70"/><stop offset="0.181" stop-color="#efa47a"/><stop offset="0.191" stop-color="#f1b283"/><stop offset="0.202" stop-color="#f2b887"/><stop offset="0.213" stop-color="#f2b686"/><stop offset="0.223" stop-color="#f0ab7f"/><stop offset="0.234" stop-color="#ec9975"/><stop offset="0.244" stop-color="#e58169"/><stop offset="0.255" stop-color="#d86b64"/><stop offset="0.266" stop-color="#be5965"/><stop offset="0.276" stop-color="#864666"/><stop offset="0.287" stop-color="#583a5f"/><stop offset="0.298" stop-color="#453a54"/><stop offset="0.308" stop-color="#3f3c4e"/><stop offset="0.319" stop-color="#3c3d4b"/><stop offset="0.329" stop-color="#3b3d4a"/><stop offset="0.340" stop-color="#3b3d4a"/><stop offset="0.351" stop-color="#3b3d4a"/><stop offset="0.361" stop-color="#3c3d4b"/><stop offset="0.372" stop-color="#3e3c4d"/><stop offset="0.383" stop-color="#443a53"/><stop offset="0.393" stop-color="#573a5e"/><stop offset="0.404" stop-color="#844566"/><stop offset="0.414" stop-color="#c25b64"/><stop offset="0.425" stop-color="#dd7065"/><stop offset="0.436" stop-color="#e98d6f"/><stop offset="0.446" stop-color="#f0aa7f"/><stop offset="0.457" stop-color="#f3c28e"/><stop offset="0.468" stop-color="#f4d099"/><stop offset="0.478" stop-color="#f5d7a0"/><stop offset="0.489" stop-color="#f5d9a2"/><stop offset="0.499" stop-color="#f5d59e"/><stop offset="0.510" stop-color="#f4cc95"/><stop offset="0.521" stop-color="#f2bb89"/><stop offset="0.531" stop-color="#eea078"/><stop offset="0.542" stop-color="#e58169"/><stop offset="0.553" stop-color="#d46863"/><stop offset="0.563" stop-color="#af5266"/><stop offset="0.574" stop-color="#6f3e65"/><stop offset="0.584" stop-color="#4e3a5a"/><stop offset="0.595" stop-color="#423b51"/><stop offset="0.606" stop-color="#3e3c4d"/><stop offset="0.616" stop-color="#3c3d4b"/><stop offset="0.627" stop-color="#3b3d4a"/><stop offset="0.638" stop-color="#3b3d4a"/><stop offset="0.648" stop-color="#3c3d4b"/><stop offset="0.659" stop-color="#3d3c4c"/><stop offset="0.670" stop-color="#403c4f"/><stop offset="0.680" stop-color="#4a3a57"/><stop offset="0.691" stop-color="#633b63"/><stop offset="0.701" stop-color="#964b66"/><stop offset="0.712" stop-color="#bd5865"/><stop offset="0.723" stop-color="#d46762"/><stop offset="0.733" stop-color="#e07666"/><stop offset="0.744" stop-color="#e5826a"/><stop offset="0.755" stop-color="#e8896d"/><stop offset="0.765" stop-color="#e7876c"/><stop offset="0.776" stop-color="#e37d68"/><stop offset="0.786" stop-color="#dc6f65"/><stop offset="0.797" stop-color="#cb6163"/><stop offset="0.808" stop-color="#b15366"/><stop offset="0.818" stop-color="#7d4366"/><stop offset="0.829" stop-color="#563a5e"/><stop offset="0.840" stop-color="#443a53"/><stop offset="0.850" stop-color="#3e3c4d"/><stop offset="0.861" stop-color="#3c3d4b"/><stop offset="0.871" stop-color="#3b3d4a"/><stop offset="0.882" stop-color="#3b3d4a"/><stop offset="0.893" stop-color="#3b3d4a"/><stop offset="0.903" stop-color="#3b3d4a"/><stop offset="0.914" stop-color="#3c3d4b"/><stop offset="0.925" stop-color="#3e3c4d"/><stop offset="0.935" stop-color="#413b50"/><stop offset="0.946" stop-color="#483a56"/><stop offset="0.956" stop-color="#573a5f"/><stop offset="0.967" stop-color="#703f65"/><stop offset="0.978" stop-color="#8e4966"/><stop offset="0.988" stop-color="#ad5266"/><stop offset="0.999" stop-color="#c05a65"/><stop offset="1.000" stop-color="#c15b64"/></linearGradient>
<linearGradient id="h25" x1="366.4" x2="648.7" y1="0" y2="0" gradientUnits="userSpaceOnUse"><stop offset="0.000" stop-color="#683c64"/><stop offset="0.011" stop-color="#4f3a5b"/><stop offset="0.021" stop-color="#423b51"/><stop offset="0.032" stop-color="#3e3c4d"/><stop offset="0.043" stop-color="#3c3d4b"/><stop offset="0.053" stop-color="#3b3d4a"/><stop offset="0.064" stop-color="#3b3d49"/><stop offset="0.074" stop-color="#3b3d4a"/><stop offset="0.085" stop-color="#3b3d4a"/><stop offset="0.096" stop-color="#3d3d4c"/><stop offset="0.106" stop-color="#413b50"/><stop offset="0.117" stop-color="#4b3a58"/><stop offset="0.128" stop-color="#673c64"/><stop offset="0.138" stop-color="#a14e66"/><stop offset="0.149" stop-color="#c95f63"/><stop offset="0.159" stop-color="#de7265"/><stop offset="0.170" stop-color="#e8896d"/><stop offset="0.181" stop-color="#ed9d77"/><stop offset="0.191" stop-color="#f0ab7f"/><stop offset="0.202" stop-color="#f1b082"/><stop offset="0.213" stop-color="#f1ae81"/><stop offset="0.223" stop-color="#efa37a"/><stop offset="0.234" stop-color="#eb9271"/><stop offset="0.244" stop-color="#e37b67"/><stop offset="0.255" stop-color="#d46762"/><stop offset="0.266" stop-color="#b95665"/><stop offset="0.276" stop-color="#7e4366"/><stop offset="0.287" stop-color="#553a5d"/><stop offset="0.298" stop-color="#443a53"/><stop offset="0.308" stop-color="#3e3c4d"/><stop offset="0.319" stop-color="#3c3d4b"/><stop offset="0.329" stop-color="#3b3d4a"/><stop offset="0.340" stop-color="#3b3d4a"/><stop offset="0.351" stop-color="#3b3d4a"/><stop offset="0.361" stop-color="#3c3d4b"/><stop offset="0.372" stop-color="#3e3c4d"/><stop offset="0.383" stop-color="#443a53"/><stop offset="0.393" stop-color="#553a5e"/><stop offset="0.404" stop-color="#804466"/><stop offset="0.414" stop-color="#bf5965"/><stop offset="0.425" stop-color="#d96d64"/><stop offset="0.436" stop-color="#e7876c"/><stop offset="0.446" stop-color="#efa37a"/><stop offset="0.457" stop-color="#f2ba88"/><stop offset="0.468" stop-color="#f4c993"/><stop offset="0.478" stop-color="#f4d099"/><stop offset="0.489" stop-color="#f4d29b"/><stop offset="0.499" stop-color="#f4ce97"/><stop offset="0.510" stop-color="#f3c490"/><stop offset="0.521" stop-color="#f1b284"/><stop offset="0.531" stop-color="#ec9975"/><stop offset="0.542" stop-color="#e37c68"/><stop offset="0.553" stop-color="#d16562"/><stop offset="0.563" stop-color="#aa5166"/><stop offset="0.574" stop-color="#6c3d64"/><stop offset="0.584" stop-color="#4c3a59"/><stop offset="0.595" stop-color="#413b50"/><stop offset="0.606" stop-color="#3d3c4c"/><stop offset="0.616" stop-color="#3c3d4b"/><stop offset="0.627" stop-color="#3b3d4a"/><stop offset="0.638" stop-color="#3b3d4a"/><stop offset="0.648" stop-color="#3b3d4a"/><stop offset="0.659" stop-color="#3d3d4c"/><stop offset="0.670" stop-color="#3f3c4e"/><stop offset="0.680" stop-color="#473a56"/><stop offset="0.691" stop-color="#5e3b61"/><stop offset="0.701" stop-color="#8c4866"/><stop offset="0.712" stop-color="#b85566"/><stop offset="0.723" stop-color="#ce6363"/><stop offset="0.733" stop-color="#dd7065"/><stop offset="0.744" stop-color="#e37c68"/><stop offset="0.755" stop-color="#e5826a"/><stop offset="0.765" stop-color="#e58169"/><stop offset="0.776" stop-color="#e17867"/><stop offset="0.786" stop-color="#d86c64"/><stop offset="0.797" stop-color="#c75e64"/><stop offset="0.808" stop-color="#ab5166"/><stop offset="0.818" stop-color="#784166"/><stop offset="0.829" stop-color="#533a5c"/><stop offset="0.840" stop-color="#433b52"/><stop offset="0.850" stop-color="#3e3c4d"/><stop offset="0.861" stop-color="#3c3d4b"/><stop offset="0.871" stop-color="#3b3d4a"/><stop offset="0.882" stop-color="#3b3d4a"/><stop offset="0.893" stop-color="#3b3d4a"/><stop offset="0.903" stop-color="#3b3d4a"/><stop offset="0.914" stop-color="#3c3d4b"/><stop offset="0.925" stop-color="#3e3c4d"/><stop offset="0.935" stop-color="#413b50"/><stop offset="0.946" stop-color="#483a56"/><stop offset="0.956" stop-color="#563a5e"/><stop offset="0.967" stop-color="#6d3e65"/><stop offset="0.978" stop-color="#8f4966"/><stop offset="0.988" stop-color="#b95666"/><stop offset="0.999" stop-color="#d06562"/><stop offset="1.000" stop-color="#d16562"/></linearGradient>
<linearGradient id="h26" x1="366.4" x2="648.7" y1="0" y2="0" gradientUnits="userSpaceOnUse"><stop offset="0.000" stop-color="#663c63"/><stop offset="0.011" stop-color="#4e3a5a"/><stop offset="0.021" stop-color="#423b51"/><stop offset="0.032" stop-color="#3d3c4c"/><stop offset="0.043" stop-color="#3b3d4a"/><stop offset="0.053" stop-color="#3b3d49"/><stop offset="0.064" stop-color="#3b3d49"/><stop offset="0.074" stop-color="#3b3d49"/><stop offset="0.085" stop-color="#3b3d4a"/><stop offset="0.096" stop-color="#3d3d4c"/><stop offset="0.106" stop-color="#403c4f"/><stop offset="0.117" stop-color="#493a57"/><stop offset="0.128" stop-color="#633b63"/><stop offset="0.138" stop-color="#994c66"/><stop offset="0.149" stop-color="#c45c64"/><stop offset="0.159" stop-color="#da6e64"/><stop offset="0.170" stop-color="#e5826a"/><stop offset="0.181" stop-color="#ec9673"/><stop offset="0.191" stop-color="#efa37a"/><stop offset="0.202" stop-color="#f0a97e"/><stop offset="0.213" stop-color="#efa67c"/><stop offset="0.223" stop-color="#ed9c76"/><stop offset="0.234" stop-color="#e88b6e"/><stop offset="0.244" stop-color="#e07666"/><stop offset="0.255" stop-color="#cf6462"/><stop offset="0.266" stop-color="#b35466"/><stop offset="0.276" stop-color="#774166"/><stop offset="0.287" stop-color="#513a5c"/><stop offset="0.298" stop-color="#433b52"/><stop offset="0.308" stop-color="#3e3c4d"/><stop offset="0.319" stop-color="#3c3d4b"/><stop offset="0.329" stop-color="#3b3d4a"/><stop offset="0.340" stop-color="#3b3d4a"/><stop offset="0.351" stop-color="#3b3d4a"/><stop offset="0.361" stop-color="#3c3d4b"/><stop offset="0.372" stop-color="#3e3c4d"/><stop offset="0.383" stop-color="#433b52"/><stop offset="0.393" stop-color="#533a5d"/><stop offset="0.404" stop-color="#7d4366"/><stop offset="0.414" stop-color="#bb5765"/><stop offset="0.425" stop-color="#d66a63"/><stop offset="0.436" stop-color="#e58169"/><stop offset="0.446" stop-color="#ed9c76"/><stop offset="0.457" stop-color="#f1b283"/><stop offset="0.468" stop-color="#f3c18d"/><stop offset="0.478" stop-color="#f4c993"/><stop offset="0.489" stop-color="#f4cb94"/><stop offset="0.499" stop-color="#f3c691"/><stop offset="0.510" stop-color="#f2bc8a"/><stop offset="0.521" stop-color="#f0aa7f"/><stop offset="0.531" stop-color="#eb9271"/><stop offset="0.542" stop-color="#e17867"/><stop offset="0.553" stop-color="#cd6363"/><stop offset="0.563" stop-color="#a65066"/><stop offset="0.574" stop-color="#693c64"/><stop offset="0.584" stop-color="#4b3a58"/><stop offset="0.595" stop-color="#413b50"/><stop offset="0.606" stop-color="#3d3d4c"/><stop offset="0.616" stop-color="#3c3d4b"/><stop offset="0.627" stop-color="#3b3d4a"/><stop offset="0.638" stop-color="#3b3d4a"/><stop offset="0.648" stop-color="#3b3d4a"/><stop offset="0.659" stop-color="#3c3d4b"/><stop offset="0.670" stop-color="#3f3c4e"/><stop offset="0.680" stop-color="#453a54"/><stop offset="0.691" stop-color="#593a5f"/><stop offset="0.701" stop-color="#844566"/><stop offset="0.712" stop-color="#b15366"/><stop offset="0.723" stop-color="#c96063"/><stop offset="0.733" stop-color="#d96c64"/><stop offset="0.744" stop-color="#e07666"/><stop offset="0.755" stop-color="#e37c68"/><stop offset="0.765" stop-color="#e27b67"/><stop offset="0.776" stop-color="#df7366"/><stop offset="0.786" stop-color="#d56963"/><stop offset="0.797" stop-color="#c25b64"/><stop offset="0.808" stop-color="#a65066"/><stop offset="0.818" stop-color="#744065"/><stop offset="0.829" stop-color="#503a5b"/><stop offset="0.840" stop-color="#433b52"/><stop offset="0.850" stop-color="#3e3c4d"/><stop offset="0.861" stop-color="#3c3d4b"/><stop offset="0.871" stop-color="#3b3d4a"/><stop offset="0.882" stop-color="#3b3d49"/><stop offset="0.893" stop-color="#3b3d4a"/><stop offset="0.903" stop-color="#3b3d4a"/><stop offset="0.914" stop-color="#3c3d4b"/><stop offset="0.925" stop-color="#3d3c4c"/><stop offset="0.935" stop-color="#403c4f"/><stop offset="0.946" stop-color="#473a55"/><stop offset="0.956" stop-color="#543a5d"/><stop offset="0.967" stop-color="#6b3d64"/><stop offset="0.978" stop-color="#944a66"/><stop offset="0.988" stop-color="#cc6263"/><stop offset="0.999" stop-color="#e58069"/><stop offset="1.000" stop-color="#e58169"/></linearGradient>
<linearGradient id="h27" x1="366.4" x2="648.7" y1="0" y2="0" gradientUnits="userSpaceOnUse"><stop offset="0.000" stop-color="#643b63"/><stop offset="0.011" stop-color="#4d3a59"/><stop offset="0.021" stop-color="#413b50"/><stop offset="0.032" stop-color="#3d3c4c"/><stop offset="0.043" stop-color="#3b3d4a"/><stop offset="0.053" stop-color="#3b3d49"/><stop offset="0.064" stop-color="#3b3d49"/><stop offset="0.074" stop-color="#3b3d49"/><stop offset="0.085" stop-color="#3b3d4a"/><stop offset="0.096" stop-color="#3c3d4b"/><stop offset="0.106" stop-color="#3f3c4e"/><stop offset="0.117" stop-color="#483a56"/><stop offset="0.128" stop-color="#603b62"/><stop offset="0.138" stop-color="#944a66"/><stop offset="0.149" stop-color="#c15a64"/><stop offset="0.159" stop-color="#d86b64"/><stop offset="0.170" stop-color="#e47d68"/><stop offset="0.181" stop-color="#ea9170"/><stop offset="0.191" stop-color="#ee9e77"/><stop offset="0.202" stop-color="#efa37a"/><stop offset="0.213" stop-color="#eea179"/><stop offset="0.223" stop-color="#ec9774"/><stop offset="0.234" stop-color="#e7866c"/><stop offset="0.244" stop-color="#de7265"/><stop offset="0.255" stop-color="#cb6163"/><stop offset="0.266" stop-color="#ae5266"/><stop offset="0.276" stop-color="#713f65"/><stop offset="0.287" stop-color="#4e3a5a"/><stop offset="0.298" stop-color="#423b51"/><stop offset="0.308" stop-color="#3d3c4c"/><stop offset="0.319" stop-color="#3c3d4b"/><stop offset="0.329" stop-color="#3b3d4a"/><stop offset="0.340" stop-color="#3b3d49"/><stop offset="0.351" stop-color="#3b3d4a"/><stop offset="0.361" stop-color="#3c3d4b"/><stop offset="0.372" stop-color="#3e3c4d"/><stop offset="0.383" stop-color="#433b52"/><stop offset="0.393" stop-color="#523a5c"/><stop offset="0.404" stop-color="#7a4266"/><stop offset="0.414" stop-color="#b85666"/><stop offset="0.425" stop-color="#d46862"/><stop offset="0.436" stop-color="#e37d68"/><stop offset="0.446" stop-color="#ec9673"/><stop offset="0.457" stop-color="#f0ab7f"/><stop offset="0.468" stop-color="#f2ba89"/><stop offset="0.478" stop-color="#f3c28e"/><stop offset="0.489" stop-color="#f3c48f"/><stop offset="0.499" stop-color="#f3c08d"/><stop offset="0.510" stop-color="#f2b686"/><stop offset="0.521" stop-color="#efa47b"/><stop offset="0.531" stop-color="#e98d6f"/><stop offset="0.542" stop-color="#df7466"/><stop offset="0.553" stop-color="#ca6163"/><stop offset="0.563" stop-color="#a24f66"/><stop offset="0.574" stop-color="#673c64"/><stop offset="0.584" stop-color="#4a3a58"/><stop offset="0.595" stop-color="#403c4f"/><stop offset="0.606" stop-color="#3d3d4c"/><stop offset="0.616" stop-color="#3b3d4a"/><stop offset="0.627" stop-color="#3b3d4a"/><stop offset="0.638" stop-color="#3b3d49"/><stop offset="0.648" stop-color="#3b3d4a"/><stop offset="0.659" stop-color="#3c3d4b"/><stop offset="0.670" stop-color="#3e3c4d"/><stop offset="0.680" stop-color="#443a53"/><stop offset="0.691" stop-color="#553a5e"/><stop offset="0.701" stop-color="#7d4366"/><stop offset="0.712" stop-color="#ab5166"/><stop offset="0.723" stop-color="#c55d64"/><stop offset="0.733" stop-color="#d56963"/><stop offset="0.744" stop-color="#de7265"/><stop offset="0.755" stop-color="#e17867"/><stop offset="0.765" stop-color="#e17767"/><stop offset="0.776" stop-color="#dd7065"/><stop offset="0.786" stop-color="#d26662"/><stop offset="0.797" stop-color="#bf5965"/><stop offset="0.808" stop-color="#a24f66"/><stop offset="0.818" stop-color="#703f65"/><stop offset="0.829" stop-color="#4f3a5a"/><stop offset="0.840" stop-color="#423b51"/><stop offset="0.850" stop-color="#3d3c4c"/><stop offset="0.861" stop-color="#3c3d4b"/><stop offset="0.871" stop-color="#3b3d4a"/><stop offset="0.882" stop-color="#3b3d49"/><stop offset="0.893" stop-color="#3b3d49"/><stop offset="0.903" stop-color="#3b3d4a"/><stop offset="0.914" stop-color="#3c3d4b"/><stop offset="0.925" stop-color="#3d3c4c"/><stop offset="0.935" stop-color="#403c4f"/><stop offset="0.946" stop-color="#463a55"/><stop offset="0.956" stop-color="#533a5d"/><stop offset="0.967" stop-color="#693c64"/><stop offset="0.978" stop-color="#904966"/><stop offset="0.988" stop-color="#c75e64"/><stop offset="0.999" stop-color="#e17867"/><stop offset="1.000" stop-color="#e27967"/></linearGradient>
<filter id="vb" x="0" y="-0.1" width="1" height="1.2"><feGaussianBlur stdDeviation="0.3 1.6"/></filter>
<clipPath id="hc"><rect x="366.4" y="244.4" width="282.3" height="109.1"/></clipPath>
<linearGradient id="cbar" x1="0" x2="0" y1="0" y2="1"><stop offset="0.00" stop-color="#f5e8b5"/><stop offset="0.05" stop-color="#f5dca5"/><stop offset="0.10" stop-color="#f4cc95"/><stop offset="0.15" stop-color="#f2b887"/><stop offset="0.20" stop-color="#efa37a"/><stop offset="0.25" stop-color="#ea9070"/><stop offset="0.30" stop-color="#e47e68"/><stop offset="0.35" stop-color="#dd7065"/><stop offset="0.40" stop-color="#d26662"/><stop offset="0.45" stop-color="#c45c64"/><stop offset="0.50" stop-color="#b55466"/><stop offset="0.55" stop-color="#a04e66"/><stop offset="0.60" stop-color="#8c4866"/><stop offset="0.65" stop-color="#7a4266"/><stop offset="0.70" stop-color="#683c64"/><stop offset="0.75" stop-color="#5a3a60"/><stop offset="0.80" stop-color="#4e3a5a"/><stop offset="0.85" stop-color="#453a54"/><stop offset="0.90" stop-color="#3f3c4e"/><stop offset="0.95" stop-color="#3b3d4a"/><stop offset="0.975" stop-color="#383a44"/><stop offset="0.985" stop-color="#2a2a2e"/><stop offset="1" stop-color="#2a2a2e"/></linearGradient>
<radialGradient id="dot" cx="0.42" cy="0.38" r="0.62"><stop offset="0" stop-color="#a6e2f8"/><stop offset="0.4" stop-color="#2fb0ea"/><stop offset="1" stop-color="#129ddc"/></radialGradient>
</defs>
<g clip-path="url(#hc)"><g filter="url(#vb)">
<rect x="364.4" y="243.4" width="286.3" height="5.6" fill="url(#h0)"/>
<rect x="364.4" y="248.4" width="286.3" height="4.6" fill="url(#h1)"/>
<rect x="364.4" y="252.4" width="286.3" height="4.6" fill="url(#h2)"/>
<rect x="364.4" y="256.4" width="286.3" height="4.6" fill="url(#h3)"/>
<rect x="364.4" y="260.4" width="286.3" height="4.6" fill="url(#h4)"/>
<rect x="364.4" y="264.4" width="286.3" height="4.6" fill="url(#h5)"/>
<rect x="364.4" y="268.4" width="286.3" height="4.6" fill="url(#h6)"/>
<rect x="364.4" y="272.4" width="286.3" height="4.6" fill="url(#h7)"/>
<rect x="364.4" y="276.4" width="286.3" height="4.6" fill="url(#h8)"/>
<rect x="364.4" y="280.4" width="286.3" height="4.6" fill="url(#h9)"/>
<rect x="364.4" y="284.4" width="286.3" height="4.6" fill="url(#h10)"/>
<rect x="364.4" y="288.4" width="286.3" height="4.6" fill="url(#h11)"/>
<rect x="364.4" y="292.4" width="286.3" height="4.6" fill="url(#h12)"/>
<rect x="364.4" y="296.4" width="286.3" height="4.6" fill="url(#h13)"/>
<rect x="364.4" y="300.4" width="286.3" height="4.6" fill="url(#h14)"/>
<rect x="364.4" y="304.4" width="286.3" height="4.6" fill="url(#h15)"/>
<rect x="364.4" y="308.4" width="286.3" height="4.6" fill="url(#h16)"/>
<rect x="364.4" y="312.4" width="286.3" height="4.6" fill="url(#h17)"/>
<rect x="364.4" y="316.4" width="286.3" height="4.6" fill="url(#h18)"/>
<rect x="364.4" y="320.4" width="286.3" height="4.6" fill="url(#h19)"/>
<rect x="364.4" y="324.4" width="286.3" height="4.6" fill="url(#h20)"/>
<rect x="364.4" y="328.4" width="286.3" height="4.6" fill="url(#h21)"/>
<rect x="364.4" y="332.4" width="286.3" height="4.6" fill="url(#h22)"/>
<rect x="364.4" y="336.4" width="286.3" height="4.6" fill="url(#h23)"/>
<rect x="364.4" y="340.4" width="286.3" height="4.6" fill="url(#h24)"/>
<rect x="364.4" y="344.4" width="286.3" height="4.6" fill="url(#h25)"/>
<rect x="364.4" y="348.4" width="286.3" height="4.6" fill="url(#h26)"/>
<rect x="364.4" y="352.4" width="286.3" height="7.6" fill="url(#h27)"/>
</g></g>
<path d="M366.4,298.7H648.7" stroke="#0ea6e6" stroke-width="2.7"/>
<path d="M366.4,335.32h2 M366.4,317.13h3.5 M366.4,298.95h2 M366.4,280.77h3.5 M366.4,262.58h2 M382,353.5v-2.5 M408.75,353.5v-2.5 M435.5,353.5v-2.5 M462.25,353.5v-2.5 M489,353.5v-2.5 M515.75,353.5v-2.5 M542.5,353.5v-2.5 M569.25,353.5v-2.5 M596,353.5v-2.5 M622.75,353.5v-2.5" stroke="#222" stroke-width="0.9" fill="none"/>
<rect x="366.4" y="244.4" width="282.3" height="109.1" fill="none" stroke="#333" stroke-width="0.9"/>
<text x="357.9" y="248.3" font-size="11.5" text-anchor="middle" fill="#2a2a2a" >3</text>
<text x="357.9" y="283.6" font-size="11.5" text-anchor="middle" fill="#2a2a2a" >2</text>
<text x="357.9" y="319.1" font-size="11.5" text-anchor="middle" fill="#2a2a2a" >1</text>
<text x="357.9" y="357.4" font-size="11.5" text-anchor="middle" fill="#2a2a2a" >0</text>
<text transform="translate(344.4,299) rotate(-90)" font-size="11.5" text-anchor="middle" fill="#2a2a2a">Distance (μm)</text>
<text x="320.6" y="248.3" font-size="16.3" font-weight="bold" fill="#111">d</text>
<rect x="654.4" y="244.4" width="9.8" height="109.1" fill="url(#cbar)" stroke="#333" stroke-width="0.8"/>
<path d="M664.2,246.3h2.8M664.2,298.8h2.8M664.2,351.5h2.8" stroke="#222" stroke-width="0.9"/>
<text x="671.2" y="249.7" font-size="11" text-anchor="start" fill="#2a2a2a" >1.0</text>
<text x="671.2" y="302.6" font-size="11" text-anchor="start" fill="#2a2a2a" >0.5</text>
<text x="671.2" y="355.3" font-size="11" text-anchor="start" fill="#2a2a2a" >0.0</text>
<path d="M366.4,407.08h2 M366.4,397.56h5 M366.4,388.04h2 M366.4,378.52h5 M366.4,369h2 M382,416.5v-5.5 M408.75,416.5v-2.5 M435.5,416.5v-5.5 M462.25,416.5v-2.5 M489,416.5v-5.5 M515.75,416.5v-2.5 M542.5,416.5v-5.5 M569.25,416.5v-2.5 M596,416.5v-5.5 M622.75,416.5v-2.5" stroke="#222" stroke-width="0.9" fill="none"/>
<clipPath id="lc"><rect x="366.4" y="364.5" width="283" height="52"/></clipPath>
<g clip-path="url(#lc)">
<circle cx="366.9" cy="396.1" r="2.75" fill="url(#dot)"/>
<circle cx="371.3" cy="399.9" r="2.75" fill="url(#dot)"/>
<circle cx="376.8" cy="405.7" r="2.75" fill="url(#dot)"/>
<circle cx="382.3" cy="411.1" r="2.75" fill="url(#dot)"/>
<circle cx="387.5" cy="414.1" r="2.75" fill="url(#dot)"/>
<circle cx="392.6" cy="411.5" r="2.75" fill="url(#dot)"/>
<circle cx="398" cy="403.8" r="2.75" fill="url(#dot)"/>
<circle cx="403.2" cy="392.9" r="2.75" fill="url(#dot)"/>
<circle cx="408.6" cy="383.9" r="2.75" fill="url(#dot)"/>
<circle cx="414.1" cy="377.7" r="2.75" fill="url(#dot)"/>
<circle cx="419.6" cy="374.5" r="2.75" fill="url(#dot)"/>
<circle cx="424.8" cy="372.9" r="2.75" fill="url(#dot)"/>
<circle cx="430.2" cy="371.3" r="2.75" fill="url(#dot)"/>
<circle cx="435.3" cy="373.2" r="2.75" fill="url(#dot)"/>
<circle cx="440.6" cy="379" r="2.75" fill="url(#dot)"/>
<circle cx="446.1" cy="388.6" r="2.75" fill="url(#dot)"/>
<circle cx="451.4" cy="399.1" r="2.75" fill="url(#dot)"/>
<circle cx="457.2" cy="407" r="2.75" fill="url(#dot)"/>
<circle cx="462.4" cy="410.7" r="2.75" fill="url(#dot)"/>
<circle cx="467.7" cy="409.4" r="2.75" fill="url(#dot)"/>
<circle cx="472.9" cy="404.1" r="2.75" fill="url(#dot)"/>
<circle cx="478.2" cy="393.9" r="2.75" fill="url(#dot)"/>
<circle cx="483.5" cy="383.4" r="2.75" fill="url(#dot)"/>
<circle cx="488.7" cy="376.5" r="2.75" fill="url(#dot)"/>
<circle cx="494.5" cy="371.8" r="2.75" fill="url(#dot)"/>
<circle cx="499.7" cy="371.8" r="2.75" fill="url(#dot)"/>
<circle cx="505" cy="372.6" r="2.75" fill="url(#dot)"/>
<circle cx="510.3" cy="373.6" r="2.75" fill="url(#dot)"/>
<circle cx="515.5" cy="380" r="2.75" fill="url(#dot)"/>
<circle cx="521.3" cy="388.4" r="2.75" fill="url(#dot)"/>
<circle cx="526.5" cy="397.6" r="2.75" fill="url(#dot)"/>
<circle cx="531.3" cy="407" r="2.75" fill="url(#dot)"/>
<circle cx="537" cy="412.3" r="2.75" fill="url(#dot)"/>
<circle cx="542.3" cy="414.1" r="2.75" fill="url(#dot)"/>
<circle cx="547.6" cy="412.8" r="2.75" fill="url(#dot)"/>
<circle cx="552.8" cy="408.3" r="2.75" fill="url(#dot)"/>
<circle cx="558.1" cy="399.7" r="2.75" fill="url(#dot)"/>
<circle cx="563.3" cy="389.9" r="2.75" fill="url(#dot)"/>
<circle cx="568.6" cy="380.5" r="2.75" fill="url(#dot)"/>
<circle cx="573.8" cy="374.7" r="2.75" fill="url(#dot)"/>
<circle cx="579.9" cy="372.6" r="2.75" fill="url(#dot)"/>
<circle cx="585.1" cy="371.6" r="2.75" fill="url(#dot)"/>
<circle cx="590.4" cy="375.5" r="2.75" fill="url(#dot)"/>
<circle cx="595.6" cy="382.6" r="2.75" fill="url(#dot)"/>
<circle cx="600.9" cy="391.8" r="2.75" fill="url(#dot)"/>
<circle cx="606.2" cy="402.3" r="2.75" fill="url(#dot)"/>
<circle cx="611.4" cy="409.4" r="2.75" fill="url(#dot)"/>
<circle cx="616.7" cy="414.1" r="2.75" fill="url(#dot)"/>
<circle cx="621.9" cy="414.6" r="2.75" fill="url(#dot)"/>
<circle cx="627.2" cy="412.3" r="2.75" fill="url(#dot)"/>
<circle cx="633" cy="405.4" r="2.75" fill="url(#dot)"/>
<circle cx="638.2" cy="397.8" r="2.75" fill="url(#dot)"/>
<circle cx="643.5" cy="391.8" r="2.75" fill="url(#dot)"/>
<circle cx="648.7" cy="387" r="2.75" fill="url(#dot)"/>
<path d="M366.4,393.71 L367.4,395.39 L368.4,397.05 L369.4,398.67 L370.4,400.25 L371.4,401.78 L372.4,403.25 L373.4,404.64 L374.4,405.95 L375.4,407.17 L376.4,408.3 L377.4,409.32 L378.4,410.23 L379.4,411.02 L380.4,411.69 L381.4,412.23 L382.4,412.65 L383.4,412.93 L384.4,413.08 L385.4,413.09 L386.4,412.97 L387.4,412.71 L388.4,412.32 L389.4,411.81 L390.4,411.16 L391.4,410.39 L392.4,409.51 L393.4,408.51 L394.4,407.41 L395.4,406.2 L396.4,404.91 L397.4,403.53 L398.4,402.08 L399.4,400.56 L400.4,398.99 L401.4,397.37 L402.4,395.72 L403.4,394.04 L404.4,392.35 L405.4,390.66 L406.4,388.97 L407.4,387.3 L408.4,385.65 L409.4,384.05 L410.4,382.5 L411.4,381 L412.4,379.58 L413.4,378.23 L414.4,376.97 L415.4,375.8 L416.4,374.73 L417.4,373.77 L418.4,372.92 L419.4,372.2 L420.4,371.6 L421.4,371.13 L422.4,370.78 L423.4,370.57 L424.4,370.5 L425.4,370.56 L426.4,370.76 L427.4,371.09 L428.4,371.55 L429.4,372.13 L430.4,372.85 L431.4,373.68 L432.4,374.63 L433.4,375.68 L434.4,376.84 L435.4,378.1 L436.4,379.44 L437.4,380.86 L438.4,382.35 L439.4,383.89 L440.4,385.49 L441.4,387.13 L442.4,388.8 L443.4,390.49 L444.4,392.18 L445.4,393.87 L446.4,395.55 L447.4,397.21 L448.4,398.83 L449.4,400.41 L450.4,401.93 L451.4,403.39 L452.4,404.78 L453.4,406.08 L454.4,407.29 L455.4,408.4 L456.4,409.41 L457.4,410.31 L458.4,411.09 L459.4,411.75 L460.4,412.28 L461.4,412.68 L462.4,412.95 L463.4,413.08 L464.4,413.08 L465.4,412.95 L466.4,412.68 L467.4,412.28 L468.4,411.75 L469.4,411.09 L470.4,410.31 L471.4,409.41 L472.4,408.4 L473.4,407.29 L474.4,406.08 L475.4,404.78 L476.4,403.39 L477.4,401.93 L478.4,400.41 L479.4,398.83 L480.4,397.21 L481.4,395.55 L482.4,393.87 L483.4,392.18 L484.4,390.49 L485.4,388.8 L486.4,387.13 L487.4,385.49 L488.4,383.89 L489.4,382.35 L490.4,380.86 L491.4,379.44 L492.4,378.1 L493.4,376.84 L494.4,375.68 L495.4,374.63 L496.4,373.68 L497.4,372.85 L498.4,372.13 L499.4,371.55 L500.4,371.09 L501.4,370.76 L502.4,370.56 L503.4,370.5 L504.4,370.57 L505.4,370.78 L506.4,371.13 L507.4,371.6 L508.4,372.2 L509.4,372.92 L510.4,373.77 L511.4,374.73 L512.4,375.8 L513.4,376.97 L514.4,378.23 L515.4,379.58 L516.4,381 L517.4,382.5 L518.4,384.05 L519.4,385.65 L520.4,387.3 L521.4,388.97 L522.4,390.66 L523.4,392.35 L524.4,394.04 L525.4,395.72 L526.4,397.37 L527.4,398.99 L528.4,400.56 L529.4,402.08 L530.4,403.53 L531.4,404.91 L532.4,406.2 L533.4,407.41 L534.4,408.51 L535.4,409.51 L536.4,410.39 L537.4,411.16 L538.4,411.81 L539.4,412.32 L540.4,412.71 L541.4,412.97 L542.4,413.09 L543.4,413.08 L544.4,412.93 L545.4,412.65 L546.4,412.23 L547.4,411.69 L548.4,411.02 L549.4,410.23 L550.4,409.32 L551.4,408.3 L552.4,407.17 L553.4,405.95 L554.4,404.64 L555.4,403.25 L556.4,401.78 L557.4,400.25 L558.4,398.67 L559.4,397.05 L560.4,395.39 L561.4,393.71 L562.4,392.01 L563.4,390.32 L564.4,388.63 L565.4,386.97 L566.4,385.33 L567.4,383.74 L568.4,382.19 L569.4,380.71 L570.4,379.3 L571.4,377.97 L572.4,376.72 L573.4,375.57 L574.4,374.53 L575.4,373.59 L576.4,372.77 L577.4,372.07 L578.4,371.49 L579.4,371.05 L580.4,370.73 L581.4,370.55 L582.4,370.5 L583.4,370.59 L584.4,370.81 L585.4,371.17 L586.4,371.65 L587.4,372.27 L588.4,373 L589.4,373.86 L590.4,374.83 L591.4,375.91 L592.4,377.09 L593.4,378.36 L594.4,379.72 L595.4,381.15 L596.4,382.65 L597.4,384.21 L598.4,385.82 L599.4,387.46 L600.4,389.14 L601.4,390.83 L602.4,392.52 L603.4,394.21 L604.4,395.89 L605.4,397.54 L606.4,399.15 L607.4,400.72 L608.4,402.23 L609.4,403.67 L610.4,405.04 L611.4,406.33 L612.4,407.52 L613.4,408.61 L614.4,409.6 L615.4,410.48 L616.4,411.23 L617.4,411.86 L618.4,412.37 L619.4,412.74 L620.4,412.99 L621.4,413.09 L622.4,413.07 L623.4,412.91 L624.4,412.61 L625.4,412.18 L626.4,411.63 L627.4,410.94 L628.4,410.14 L629.4,409.22 L630.4,408.19 L631.4,407.06 L632.4,405.82 L633.4,404.5 L634.4,403.1 L635.4,401.63 L636.4,400.1 L637.4,398.51 L638.4,396.88 L639.4,395.22 L640.4,393.54 L641.4,391.84 L642.4,390.15 L643.4,388.46 L644.4,386.8 L645.4,385.17 L646.4,383.58 L647.4,382.04 L648.4,380.57 L649.4,379.16" stroke="#2a2a2a" stroke-width="1.1" fill="none"/>
</g>
<rect x="366.4" y="364.5" width="283" height="52" fill="none" stroke="#333" stroke-width="1"/>
<text x="361" y="383.12" font-size="11.5" text-anchor="end" fill="#2a2a2a" >0.8</text>
<text x="361" y="402.16" font-size="11.5" text-anchor="end" fill="#2a2a2a" >0.4</text>
<text x="361" y="421.2" font-size="11.5" text-anchor="end" fill="#2a2a2a" >0.0</text>
<text x="382" y="430.3" font-size="11" text-anchor="middle" fill="#2a2a2a" >1</text>
<text x="435.5" y="430.3" font-size="11" text-anchor="middle" fill="#2a2a2a" >2</text>
<text x="489" y="430.3" font-size="11" text-anchor="middle" fill="#2a2a2a" >3</text>
<text x="542.5" y="430.3" font-size="11" text-anchor="middle" fill="#2a2a2a" >4</text>
<text x="596" y="430.3" font-size="11" text-anchor="middle" fill="#2a2a2a" >5</text>
<text x="649.5" y="430.3" font-size="11" text-anchor="middle" fill="#2a2a2a" >6</text>
<text x="514.6" y="446.8" font-size="11.5" text-anchor="middle" fill="#2a2a2a" >Distance (μm)</text>
<text transform="translate(334.4,386.8) rotate(-90)" font-size="11.5" text-anchor="middle" fill="#2a2a2a">Intensity (a.u.)</text>
<text x="598.3" y="374.1" font-size="9.4" text-anchor="start" fill="#2a2a2a" >v=~0.91</text>
</svg>
</body></html>
